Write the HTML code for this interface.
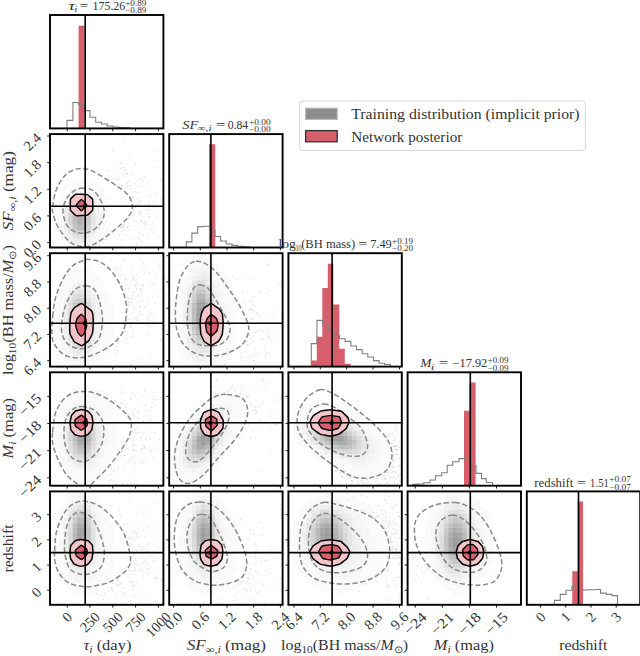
<!DOCTYPE html><html><head><meta charset="utf-8"><style>html,body{margin:0;padding:0;background:#fff;}svg{display:block;}text{font-family:"Liberation Serif",serif;fill:#333;}</style></head><body>
<svg width="640" height="656" viewBox="0 0 640 656">
<defs>
<clipPath id="c00"><rect x="50" y="15" width="113.4" height="113.4"/></clipPath>
<clipPath id="c10"><rect x="50" y="134.1" width="113.4" height="113.4"/></clipPath>
<clipPath id="c11"><rect x="169.2" y="134.1" width="113.4" height="113.4"/></clipPath>
<clipPath id="c20"><rect x="50" y="253.2" width="113.4" height="113.4"/></clipPath>
<clipPath id="c21"><rect x="169.2" y="253.2" width="113.4" height="113.4"/></clipPath>
<clipPath id="c22"><rect x="288.4" y="253.2" width="113.4" height="113.4"/></clipPath>
<clipPath id="c30"><rect x="50" y="372.3" width="113.4" height="113.4"/></clipPath>
<clipPath id="c31"><rect x="169.2" y="372.3" width="113.4" height="113.4"/></clipPath>
<clipPath id="c32"><rect x="288.4" y="372.3" width="113.4" height="113.4"/></clipPath>
<clipPath id="c33"><rect x="407.6" y="372.3" width="113.4" height="113.4"/></clipPath>
<clipPath id="c40"><rect x="50" y="491.4" width="113.4" height="113.4"/></clipPath>
<clipPath id="c41"><rect x="169.2" y="491.4" width="113.4" height="113.4"/></clipPath>
<clipPath id="c42"><rect x="288.4" y="491.4" width="113.4" height="113.4"/></clipPath>
<clipPath id="c43"><rect x="407.6" y="491.4" width="113.4" height="113.4"/></clipPath>
<clipPath id="c44"><rect x="526.8" y="491.4" width="113.4" height="113.4"/></clipPath>
</defs>
<rect width="640" height="656" fill="#fff"/>
<g clip-path="url(#c00)">
<path d="M78.6,130.4 L78.6,25.7 L84.5,25.7 L84.5,130.4 Z" fill="#d75f6c"/>
<path d="M67,130.4 L67,120.4 L72.9,120.4 L72.9,102.5 L78.5,102.5 L78.5,104.6 L84.2,104.6 L84.2,110.6 L90,110.6 L90,117.25 L95.7,117.25 L95.7,122.25 L101.4,122.25 L101.4,124 L107.2,124 L107.2,126 L112.9,126 L112.9,127 L118.6,127 L118.6,127.6 L124.3,127.6 L124.3,127.9 L130,127.9 L130,130.4" fill="none" stroke="#7f7f7f" stroke-width="1.1"/>
<line x1="85.2" y1="15" x2="85.2" y2="128.4" stroke="#000" stroke-width="1.6"/>
</g>
<rect x="50" y="15" width="113.4" height="113.4" fill="none" stroke="#000" stroke-width="1.9"/>
<line x1="67.2" y1="128.4" x2="67.2" y2="131.2" stroke="#000" stroke-width="0.9"/>
<line x1="90" y1="128.4" x2="90" y2="131.2" stroke="#000" stroke-width="0.9"/>
<line x1="112.8" y1="128.4" x2="112.8" y2="131.2" stroke="#000" stroke-width="0.9"/>
<line x1="135.6" y1="128.4" x2="135.6" y2="131.2" stroke="#000" stroke-width="0.9"/>
<line x1="158.4" y1="128.4" x2="158.4" y2="131.2" stroke="#000" stroke-width="0.9"/>
<g clip-path="url(#c10)">
<path d="M95.19 243.85h1v1h-1zM126.8 182.73h1v1h-1zM116.23 185.58h1v1h-1zM139.49 212.97h1v1h-1zM148.49 216.36h1v1h-1zM116.63 164.37h1v1h-1zM148.4 203.51h1v1h-1zM147.17 212.66h1v1h-1zM142.16 217.52h1v1h-1zM108.66 174.71h1v1h-1zM123.74 224.18h1v1h-1zM134.57 188.35h1v1h-1zM156.47 215.84h1v1h-1zM112.12 149.69h1v1h-1zM131.79 197.09h1v1h-1zM121.68 224.4h1v1h-1zM132.67 196.49h1v1h-1zM103.89 239.22h1v1h-1zM147.98 209.8h1v1h-1zM134.36 191.13h1v1h-1zM136.44 203.83h1v1h-1zM122.8 166.98h1v1h-1zM121.14 231.22h1v1h-1zM153.48 207.01h1v1h-1zM154.06 160.36h1v1h-1zM133.34 191.34h1v1h-1zM155.26 218.24h1v1h-1zM141.44 220.51h1v1h-1zM121.63 240.18h1v1h-1zM105.97 238.49h1v1h-1zM137.09 202.75h1v1h-1zM134.87 162.65h1v1h-1zM130.07 184.89h1v1h-1zM145.35 209.12h1v1h-1zM128.47 180.75h1v1h-1zM120.11 226.96h1v1h-1zM145.28 227.47h1v1h-1zM108.69 177.83h1v1h-1zM137.89 186.15h1v1h-1zM137.63 192.08h1v1h-1zM138.83 238.77h1v1h-1zM107.37 170.65h1v1h-1zM126.72 234.85h1v1h-1zM124.94 169.93h1v1h-1zM123.76 137.58h1v1h-1zM122.47 225.71h1v1h-1zM142.3 234.39h1v1h-1zM121.65 227.01h1v1h-1zM135.91 244.03h1v1h-1zM128.66 222.76h1v1h-1zM134.88 207.1h1v1h-1zM137.16 199.62h1v1h-1zM129.33 229.08h1v1h-1zM132.69 183.55h1v1h-1zM139.12 212.35h1v1h-1zM121.45 186.71h1v1h-1zM134.45 182.02h1v1h-1zM122.47 185.66h1v1h-1zM155.78 192.94h1v1h-1zM140.29 178.76h1v1h-1zM141.19 205.76h1v1h-1zM151.91 222.44h1v1h-1zM143.61 205.63h1v1h-1zM149.66 195.86h1v1h-1zM138.62 197.72h1v1h-1zM122.49 239.13h1v1h-1zM123.49 226.15h1v1h-1zM114.14 167.67h1v1h-1zM141.9 233.96h1v1h-1zM126.49 186.94h1v1h-1zM139.19 186.31h1v1h-1zM140.85 221.12h1v1h-1zM156.52 236.47h1v1h-1zM117.62 179.37h1v1h-1zM151.77 228.37h1v1h-1zM147.56 234.1h1v1h-1zM144.83 205.1h1v1h-1zM130.51 196.75h1v1h-1zM150.71 209.55h1v1h-1zM141.41 200.04h1v1h-1zM143.64 176h1v1h-1zM128.86 156.83h1v1h-1zM153.98 204.31h1v1h-1zM119.27 187.34h1v1h-1zM133.8 219.73h1v1h-1zM148.23 202.76h1v1h-1zM126.36 193.61h1v1h-1zM120.09 162.88h1v1h-1zM125 173.13h1v1h-1zM144.17 224.77h1v1h-1zM132.77 214.48h1v1h-1zM127.23 173.98h1v1h-1zM143.94 221.6h1v1h-1zM128.05 217.38h1v1h-1zM120.97 185.54h1v1h-1zM160.2 197.89h1v1h-1zM145.21 238.33h1v1h-1zM120.98 226.42h1v1h-1zM124.71 192.43h1v1h-1zM126.61 184.93h1v1h-1zM113.92 179.25h1v1h-1zM153.21 232.1h1v1h-1zM126.81 227.08h1v1h-1zM156.61 215.51h1v1h-1zM141.03 240.79h1v1h-1zM148.26 224.27h1v1h-1zM147.26 207.3h1v1h-1zM134.47 207.39h1v1h-1zM126.64 172.73h1v1h-1zM131.67 171.77h1v1h-1zM136.03 221.55h1v1h-1zM155.82 149.79h1v1h-1zM133.19 237.75h1v1h-1zM156.27 204.96h1v1h-1zM161.82 168.25h1v1h-1zM149.38 216.58h1v1h-1zM138.33 236.31h1v1h-1zM139.93 219.63h1v1h-1zM139.26 203.93h1v1h-1zM123.21 225.43h1v1h-1zM130.21 188.88h1v1h-1zM140.39 201.06h1v1h-1zM160.18 178.71h1v1h-1zM106.32 238.68h1v1h-1zM150.49 229.28h1v1h-1zM138.78 201.45h1v1h-1zM148.3 188.6h1v1h-1zM138.34 214.28h1v1h-1zM128.07 225.85h1v1h-1zM132.74 210.72h1v1h-1zM145.21 222.73h1v1h-1zM130.92 174h1v1h-1zM138.39 232.11h1v1h-1zM142.99 180.36h1v1h-1zM123.69 228.26h1v1h-1zM119.99 167.64h1v1h-1zM118.98 234.68h1v1h-1zM134.26 206.56h1v1h-1zM140.67 210.46h1v1h-1zM143 223.51h1v1h-1z" fill="#d2d2d2"/>
<path d="M54.54 202.14h4.59v4.59h-4.59zM54.54 206.68h4.59v4.59h-4.59zM54.54 211.21h4.59v4.59h-4.59zM54.54 215.75h4.59v4.59h-4.59zM54.54 220.28h4.59v4.59h-4.59zM54.54 224.82h4.59v4.59h-4.59zM54.54 229.36h4.59v4.59h-4.59zM59.07 193.07h4.59v4.59h-4.59zM59.07 197.6h4.59v4.59h-4.59zM59.07 202.14h4.59v4.59h-4.59zM59.07 229.36h4.59v4.59h-4.59zM59.07 233.89h4.59v4.59h-4.59zM59.07 238.43h4.59v4.59h-4.59zM63.61 184h4.59v4.59h-4.59zM63.61 188.53h4.59v4.59h-4.59zM63.61 193.07h4.59v4.59h-4.59zM63.61 238.43h4.59v4.59h-4.59zM63.61 242.96h4.59v4.59h-4.59zM68.14 184h4.59v4.59h-4.59zM68.14 188.53h4.59v4.59h-4.59zM68.14 242.96h4.59v4.59h-4.59zM72.68 179.46h4.59v4.59h-4.59zM72.68 184h4.59v4.59h-4.59zM77.22 179.46h4.59v4.59h-4.59zM77.22 184h4.59v4.59h-4.59zM81.75 179.46h4.59v4.59h-4.59zM81.75 184h4.59v4.59h-4.59zM86.29 179.46h4.59v4.59h-4.59zM86.29 184h4.59v4.59h-4.59zM90.82 179.46h4.59v4.59h-4.59zM90.82 184h4.59v4.59h-4.59zM90.82 188.53h4.59v4.59h-4.59zM90.82 242.96h4.59v4.59h-4.59zM95.36 184h4.59v4.59h-4.59zM95.36 188.53h4.59v4.59h-4.59zM95.36 193.07h4.59v4.59h-4.59zM95.36 238.43h4.59v4.59h-4.59zM95.36 242.96h4.59v4.59h-4.59zM99.9 188.53h4.59v4.59h-4.59zM99.9 193.07h4.59v4.59h-4.59zM99.9 197.6h4.59v4.59h-4.59zM99.9 202.14h4.59v4.59h-4.59zM99.9 206.68h4.59v4.59h-4.59zM99.9 220.28h4.59v4.59h-4.59zM99.9 224.82h4.59v4.59h-4.59zM99.9 229.36h4.59v4.59h-4.59zM99.9 233.89h4.59v4.59h-4.59zM99.9 238.43h4.59v4.59h-4.59zM104.43 197.6h4.59v4.59h-4.59zM104.43 202.14h4.59v4.59h-4.59zM104.43 206.68h4.59v4.59h-4.59zM104.43 211.21h4.59v4.59h-4.59zM104.43 215.75h4.59v4.59h-4.59zM104.43 220.28h4.59v4.59h-4.59zM104.43 224.82h4.59v4.59h-4.59zM104.43 229.36h4.59v4.59h-4.59z" fill="#000" fill-opacity="0.02"/>
<path d="M59.07 206.68h4.59v4.59h-4.59zM59.07 211.21h4.59v4.59h-4.59zM59.07 215.75h4.59v4.59h-4.59zM59.07 220.28h4.59v4.59h-4.59zM59.07 224.82h4.59v4.59h-4.59zM63.61 197.6h4.59v4.59h-4.59zM63.61 233.89h4.59v4.59h-4.59zM68.14 193.07h4.59v4.59h-4.59zM72.68 188.53h4.59v4.59h-4.59zM72.68 242.96h4.59v4.59h-4.59zM77.22 188.53h4.59v4.59h-4.59zM81.75 188.53h4.59v4.59h-4.59zM81.75 242.96h4.59v4.59h-4.59zM86.29 188.53h4.59v4.59h-4.59zM86.29 242.96h4.59v4.59h-4.59zM90.82 193.07h4.59v4.59h-4.59zM90.82 238.43h4.59v4.59h-4.59zM95.36 197.6h4.59v4.59h-4.59zM95.36 202.14h4.59v4.59h-4.59zM95.36 229.36h4.59v4.59h-4.59zM95.36 233.89h4.59v4.59h-4.59zM99.9 211.21h4.59v4.59h-4.59zM99.9 215.75h4.59v4.59h-4.59z" fill="#000" fill-opacity="0.03"/>
<path d="M63.61 202.14h4.59v4.59h-4.59zM63.61 229.36h4.59v4.59h-4.59zM68.14 197.6h4.59v4.59h-4.59zM68.14 238.43h4.59v4.59h-4.59zM72.68 193.07h4.59v4.59h-4.59zM77.22 242.96h4.59v4.59h-4.59zM81.75 193.07h4.59v4.59h-4.59zM86.29 193.07h4.59v4.59h-4.59zM86.29 238.43h4.59v4.59h-4.59zM90.82 197.6h4.59v4.59h-4.59zM90.82 233.89h4.59v4.59h-4.59zM95.36 206.68h4.59v4.59h-4.59zM95.36 211.21h4.59v4.59h-4.59zM95.36 215.75h4.59v4.59h-4.59zM95.36 220.28h4.59v4.59h-4.59zM95.36 224.82h4.59v4.59h-4.59z" fill="#000" fill-opacity="0.05"/>
<path d="M63.61 206.68h4.59v4.59h-4.59zM63.61 211.21h4.59v4.59h-4.59zM63.61 224.82h4.59v4.59h-4.59zM68.14 233.89h4.59v4.59h-4.59zM72.68 238.43h4.59v4.59h-4.59zM77.22 193.07h4.59v4.59h-4.59zM81.75 238.43h4.59v4.59h-4.59zM86.29 197.6h4.59v4.59h-4.59zM90.82 202.14h4.59v4.59h-4.59zM90.82 229.36h4.59v4.59h-4.59z" fill="#000" fill-opacity="0.07"/>
<path d="M63.61 215.75h4.59v4.59h-4.59zM63.61 220.28h4.59v4.59h-4.59zM68.14 202.14h4.59v4.59h-4.59zM72.68 197.6h4.59v4.59h-4.59zM77.22 238.43h4.59v4.59h-4.59zM86.29 233.89h4.59v4.59h-4.59zM90.82 206.68h4.59v4.59h-4.59zM90.82 224.82h4.59v4.59h-4.59z" fill="#000" fill-opacity="0.08"/>
<path d="M68.14 229.36h4.59v4.59h-4.59zM77.22 197.6h4.59v4.59h-4.59zM81.75 197.6h4.59v4.59h-4.59zM86.29 202.14h4.59v4.59h-4.59zM90.82 211.21h4.59v4.59h-4.59zM90.82 215.75h4.59v4.59h-4.59zM90.82 220.28h4.59v4.59h-4.59z" fill="#000" fill-opacity="0.1"/>
<path d="M68.14 206.68h4.59v4.59h-4.59zM72.68 233.89h4.59v4.59h-4.59zM81.75 233.89h4.59v4.59h-4.59z" fill="#000" fill-opacity="0.12"/>
<path d="M68.14 224.82h4.59v4.59h-4.59zM72.68 202.14h4.59v4.59h-4.59zM77.22 233.89h4.59v4.59h-4.59zM86.29 229.36h4.59v4.59h-4.59z" fill="#000" fill-opacity="0.13"/>
<path d="M68.14 211.21h4.59v4.59h-4.59zM77.22 202.14h4.59v4.59h-4.59zM81.75 202.14h4.59v4.59h-4.59zM86.29 206.68h4.59v4.59h-4.59z" fill="#000" fill-opacity="0.15"/>
<path d="M68.14 215.75h4.59v4.59h-4.59zM68.14 220.28h4.59v4.59h-4.59zM72.68 229.36h4.59v4.59h-4.59zM86.29 224.82h4.59v4.59h-4.59z" fill="#000" fill-opacity="0.17"/>
<path d="M72.68 206.68h4.59v4.59h-4.59zM81.75 229.36h4.59v4.59h-4.59zM86.29 211.21h4.59v4.59h-4.59z" fill="#000" fill-opacity="0.18"/>
<path d="M77.22 229.36h4.59v4.59h-4.59zM81.75 206.68h4.59v4.59h-4.59zM86.29 215.75h4.59v4.59h-4.59zM86.29 220.28h4.59v4.59h-4.59z" fill="#000" fill-opacity="0.2"/>
<path d="M72.68 224.82h4.59v4.59h-4.59zM77.22 206.68h4.59v4.59h-4.59z" fill="#000" fill-opacity="0.22"/>
<path d="M72.68 211.21h4.59v4.59h-4.59z" fill="#000" fill-opacity="0.23"/>
<path d="M72.68 220.28h4.59v4.59h-4.59zM81.75 211.21h4.59v4.59h-4.59zM81.75 224.82h4.59v4.59h-4.59z" fill="#000" fill-opacity="0.25"/>
<path d="M72.68 215.75h4.59v4.59h-4.59zM77.22 224.82h4.59v4.59h-4.59z" fill="#000" fill-opacity="0.27"/>
<path d="M77.22 211.21h4.59v4.59h-4.59zM81.75 215.75h4.59v4.59h-4.59zM81.75 220.28h4.59v4.59h-4.59z" fill="#000" fill-opacity="0.28"/>
<path d="M77.22 215.75h4.59v4.59h-4.59zM77.22 220.28h4.59v4.59h-4.59z" fill="#000" fill-opacity="0.32"/>
<path d="M52.7,207C53.17,203.57 53.93,196.68 55.5,192C57.07,187.32 59.6,182.33 62.1,178.9C64.6,175.47 67.38,173.12 70.5,171.4C73.62,169.68 77.37,168.77 80.8,168.6C84.23,168.43 87.18,168.85 91.1,170.4C95.02,171.95 99.92,175.23 104.3,177.9C108.68,180.57 113.35,183.42 117.4,186.4C121.45,189.38 126.1,192.37 128.6,195.8C131.1,199.23 132.4,203.57 132.4,207C132.4,210.43 130.78,213.27 128.6,216.4C126.42,219.53 122.73,222.68 119.3,225.8C115.87,228.92 111.76,232.3 108,235.1C104.24,237.9 100.03,240.72 96.75,242.6C93.47,244.48 91.74,245.93 88.3,246.4C84.86,246.87 79.69,246.65 76.1,245.4C72.51,244.15 69.87,242.18 66.75,238.9C63.63,235.62 59.74,230.13 57.4,225.75C55.06,221.37 53.48,215.72 52.7,212.6C51.92,209.47 52.23,210.43 52.7,207Z" fill="none" stroke="#8a8a8a" stroke-width="1.5" stroke-dasharray="5.2 2.6"/>
<path d="M80.8,188.25C85.18,187.62 90.99,188.25 94.9,192C98.81,195.75 103.63,205.12 104.25,210.75C104.87,216.38 102.04,222 98.6,225.75C95.16,229.5 88.6,232.94 83.6,233.25C78.6,233.56 72.03,231.35 68.6,227.6C65.17,223.85 63,216.06 63,210.75C63,205.44 65.63,199.5 68.6,195.75C71.57,192 76.42,188.88 80.8,188.25Z" fill="none" stroke="#8a8a8a" stroke-width="1.5" stroke-dasharray="5.2 2.6"/>
<path d="M75.8,194.3C76.47,194.12 86.58,194.4 87.25,194.6C87.92,194.8 92.39,198.77 92.6,199.4C92.81,200.03 92.81,209.67 92.6,210.3C92.39,210.93 87.91,214.89 87.25,215.1C86.59,215.31 76.77,215.79 76.1,215.6C75.43,215.41 70.72,210.96 70.5,210.3C70.28,209.64 70.29,199.84 70.5,199.2C70.71,198.56 75.13,194.48 75.8,194.3Z" fill="#f4c5ca" stroke="#000" stroke-width="1.5" stroke-linejoin="round"/>
<path d="M81.4,199.4C81.82,199.39 86.7,204.54 86.7,205C86.7,205.46 81.82,210.84 81.4,210.85C80.98,210.86 76.1,205.76 76.1,205.3C76.1,204.84 80.98,199.41 81.4,199.4Z" fill="#d75f6c" stroke="#000" stroke-width="1.4" stroke-linejoin="round"/>
<line x1="85.2" y1="134.1" x2="85.2" y2="247.5" stroke="#000" stroke-width="1.6"/>
<line x1="50" y1="206.2" x2="163.4" y2="206.2" stroke="#000" stroke-width="1.6"/>
<ellipse cx="84.7" cy="206.2" rx="2" ry="2.2" fill="#000"/>
</g>
<rect x="50" y="134.1" width="113.4" height="113.4" fill="none" stroke="#000" stroke-width="1.9"/>
<line x1="67.2" y1="247.5" x2="67.2" y2="250.3" stroke="#000" stroke-width="0.9"/>
<line x1="90" y1="247.5" x2="90" y2="250.3" stroke="#000" stroke-width="0.9"/>
<line x1="112.8" y1="247.5" x2="112.8" y2="250.3" stroke="#000" stroke-width="0.9"/>
<line x1="135.6" y1="247.5" x2="135.6" y2="250.3" stroke="#000" stroke-width="0.9"/>
<line x1="158.4" y1="247.5" x2="158.4" y2="250.3" stroke="#000" stroke-width="0.9"/>
<line x1="47.2" y1="242.6" x2="50" y2="242.6" stroke="#000" stroke-width="0.9"/>
<line x1="47.2" y1="215.95" x2="50" y2="215.95" stroke="#000" stroke-width="0.9"/>
<line x1="47.2" y1="189.3" x2="50" y2="189.3" stroke="#000" stroke-width="0.9"/>
<line x1="47.2" y1="162.65" x2="50" y2="162.65" stroke="#000" stroke-width="0.9"/>
<line x1="47.2" y1="136" x2="50" y2="136" stroke="#000" stroke-width="0.9"/>
<g clip-path="url(#c11)">
<path d="M209,249.5 L209,144.2 L215.25,144.2 L215.25,249.5 Z" fill="#d75f6c"/>
<path d="M186.25,249.5 L186.25,241.9 L191.9,241.9 L191.9,233.1 L197.75,233.1 L197.75,226.6 L203.5,226.6 L203.5,226.25 L209.4,226.25 L209.4,230 L215,230 L215,236.5 L220.6,236.5 L220.6,241 L226.25,241 L226.25,244 L232,244 L232,245.4 L237.5,245.4 L237.5,246.2 L243,246.2 L243,246.7 L249,246.7 L249,249.5" fill="none" stroke="#7f7f7f" stroke-width="1.1"/>
<line x1="210.9" y1="134.1" x2="210.9" y2="247.5" stroke="#000" stroke-width="1.6"/>
</g>
<rect x="169.2" y="134.1" width="113.4" height="113.4" fill="none" stroke="#000" stroke-width="1.9"/>
<line x1="173.6" y1="247.5" x2="173.6" y2="250.3" stroke="#000" stroke-width="0.9"/>
<line x1="200.3" y1="247.5" x2="200.3" y2="250.3" stroke="#000" stroke-width="0.9"/>
<line x1="227" y1="247.5" x2="227" y2="250.3" stroke="#000" stroke-width="0.9"/>
<line x1="253.7" y1="247.5" x2="253.7" y2="250.3" stroke="#000" stroke-width="0.9"/>
<line x1="280.4" y1="247.5" x2="280.4" y2="250.3" stroke="#000" stroke-width="0.9"/>
<g clip-path="url(#c20)">
<path d="M125.71 338.04h1v1h-1zM129.4 322.42h1v1h-1zM142.82 284.62h1v1h-1zM112.82 344.14h1v1h-1zM141.09 314.03h1v1h-1zM131.71 319.36h1v1h-1zM129.92 304.85h1v1h-1zM132.99 311.71h1v1h-1zM161.45 288.26h1v1h-1zM142.56 268.49h1v1h-1zM144.73 269.11h1v1h-1zM138.57 305.86h1v1h-1zM150.04 313.71h1v1h-1zM151.91 296.82h1v1h-1zM116.86 268.26h1v1h-1zM128.09 306.75h1v1h-1zM152.27 320.94h1v1h-1zM140.42 258.44h1v1h-1zM153.41 283.49h1v1h-1zM150.11 356.28h1v1h-1zM117.23 343.27h1v1h-1zM160.01 339.84h1v1h-1zM129.7 282.34h1v1h-1zM134.85 284.75h1v1h-1zM139.52 313.47h1v1h-1zM128.41 288.05h1v1h-1zM136.72 274.02h1v1h-1zM127.81 303.76h1v1h-1zM109.27 266.62h1v1h-1zM136.2 279.15h1v1h-1zM124.85 294.44h1v1h-1zM130.29 269.54h1v1h-1zM115.77 352.96h1v1h-1zM125.87 343.28h1v1h-1zM130 326.33h1v1h-1zM136.35 287.71h1v1h-1zM148.49 319.79h1v1h-1zM130.22 364.17h1v1h-1zM132.19 292.27h1v1h-1zM113.94 269.6h1v1h-1zM139.49 288.7h1v1h-1zM125.47 278.92h1v1h-1zM136.81 295.6h1v1h-1zM121.94 285.24h1v1h-1zM143.81 273.04h1v1h-1zM136.22 301.63h1v1h-1zM130.77 335.97h1v1h-1zM141.61 291.95h1v1h-1zM133.96 292.25h1v1h-1zM147.14 318.24h1v1h-1zM125.14 277.36h1v1h-1zM130.93 302.03h1v1h-1zM138.88 293.93h1v1h-1zM134.37 280.61h1v1h-1zM136.4 281.51h1v1h-1zM116.95 270.31h1v1h-1zM127.94 297.86h1v1h-1zM147.29 317.98h1v1h-1zM154.06 302.55h1v1h-1zM121.19 266.71h1v1h-1zM152.91 316.68h1v1h-1zM138.56 311.55h1v1h-1zM146.23 303.61h1v1h-1zM135.87 319.86h1v1h-1zM116.67 346.03h1v1h-1zM151.27 282.61h1v1h-1zM129.67 301.97h1v1h-1zM125.71 279h1v1h-1zM127.69 302.18h1v1h-1zM147.33 325.13h1v1h-1zM148.15 334.06h1v1h-1zM132.7 277.3h1v1h-1zM133.11 308.53h1v1h-1zM120.58 275.19h1v1h-1zM126.12 322.26h1v1h-1zM157.41 295.35h1v1h-1zM119.69 269.21h1v1h-1zM126.6 315.05h1v1h-1zM137.88 317.86h1v1h-1zM132.56 279.56h1v1h-1zM157.14 275.27h1v1h-1zM147.53 297.42h1v1h-1zM107.11 347.42h1v1h-1zM154.6 276.4h1v1h-1zM131.51 266.91h1v1h-1zM143.55 307.23h1v1h-1zM149.1 363.18h1v1h-1zM144.92 306.56h1v1h-1zM124.16 327.48h1v1h-1zM131.66 295.27h1v1h-1zM135.14 285.26h1v1h-1zM135.98 284.97h1v1h-1zM142.47 300.64h1v1h-1zM117.58 350.37h1v1h-1zM123.35 330.77h1v1h-1zM135.62 289.59h1v1h-1zM137.87 319.51h1v1h-1zM137.23 358.41h1v1h-1zM129.06 318.86h1v1h-1zM140.28 310.71h1v1h-1zM136.37 288.33h1v1h-1zM149.02 272.23h1v1h-1zM133.35 278.06h1v1h-1zM110.37 258.94h1v1h-1zM125.36 330.97h1v1h-1zM123.89 279.2h1v1h-1zM120.68 285.3h1v1h-1zM132.63 328.71h1v1h-1zM132.19 276.23h1v1h-1zM127.27 299.94h1v1h-1zM132.05 321.7h1v1h-1zM141.76 284.86h1v1h-1zM153.86 284.34h1v1h-1zM161.16 278.17h1v1h-1zM117.32 340.6h1v1h-1zM135.31 317.99h1v1h-1zM159.27 264.26h1v1h-1zM131.37 298.23h1v1h-1zM139.76 306.52h1v1h-1zM113.44 273.26h1v1h-1zM126.97 296.68h1v1h-1zM149.58 327.05h1v1h-1zM118.09 341.3h1v1h-1zM139.46 299.71h1v1h-1zM124.41 289.76h1v1h-1zM114.78 267.3h1v1h-1zM135.67 316.06h1v1h-1zM140.22 288.2h1v1h-1zM154.68 259.96h1v1h-1zM127.27 304.4h1v1h-1zM123.26 259.25h1v1h-1zM143.01 262.59h1v1h-1zM126.06 316.7h1v1h-1zM160.69 266.59h1v1h-1zM129.92 326.89h1v1h-1zM98.79 254.52h1v1h-1zM135.47 306.85h1v1h-1zM127.39 322.09h1v1h-1zM149.27 309.97h1v1h-1zM132.96 332.2h1v1h-1z" fill="#d2d2d2"/>
<path d="M54.54 298.56h4.59v4.59h-4.59zM54.54 303.1h4.59v4.59h-4.59zM54.54 307.63h4.59v4.59h-4.59zM54.54 312.17h4.59v4.59h-4.59zM54.54 316.7h4.59v4.59h-4.59zM54.54 321.24h4.59v4.59h-4.59zM54.54 325.78h4.59v4.59h-4.59zM54.54 330.31h4.59v4.59h-4.59zM54.54 334.85h4.59v4.59h-4.59zM59.07 284.95h4.59v4.59h-4.59zM59.07 289.49h4.59v4.59h-4.59zM59.07 294.02h4.59v4.59h-4.59zM59.07 298.56h4.59v4.59h-4.59zM59.07 303.1h4.59v4.59h-4.59zM59.07 307.63h4.59v4.59h-4.59zM59.07 330.31h4.59v4.59h-4.59zM59.07 334.85h4.59v4.59h-4.59zM59.07 339.38h4.59v4.59h-4.59zM59.07 343.92h4.59v4.59h-4.59zM59.07 348.46h4.59v4.59h-4.59zM63.61 275.88h4.59v4.59h-4.59zM63.61 280.42h4.59v4.59h-4.59zM63.61 284.95h4.59v4.59h-4.59zM63.61 289.49h4.59v4.59h-4.59zM63.61 348.46h4.59v4.59h-4.59zM63.61 352.99h4.59v4.59h-4.59zM63.61 357.53h4.59v4.59h-4.59zM68.14 271.34h4.59v4.59h-4.59zM68.14 275.88h4.59v4.59h-4.59zM68.14 280.42h4.59v4.59h-4.59zM68.14 357.53h4.59v4.59h-4.59zM68.14 362.06h4.59v4.59h-4.59zM72.68 266.81h4.59v4.59h-4.59zM72.68 271.34h4.59v4.59h-4.59zM72.68 275.88h4.59v4.59h-4.59zM72.68 362.06h4.59v4.59h-4.59zM77.22 266.81h4.59v4.59h-4.59zM77.22 271.34h4.59v4.59h-4.59zM81.75 266.81h4.59v4.59h-4.59zM81.75 271.34h4.59v4.59h-4.59zM81.75 362.06h4.59v4.59h-4.59zM86.29 266.81h4.59v4.59h-4.59zM86.29 271.34h4.59v4.59h-4.59zM86.29 275.88h4.59v4.59h-4.59zM86.29 362.06h4.59v4.59h-4.59zM90.82 271.34h4.59v4.59h-4.59zM90.82 275.88h4.59v4.59h-4.59zM90.82 280.42h4.59v4.59h-4.59zM90.82 357.53h4.59v4.59h-4.59zM90.82 362.06h4.59v4.59h-4.59zM95.36 275.88h4.59v4.59h-4.59zM95.36 280.42h4.59v4.59h-4.59zM95.36 284.95h4.59v4.59h-4.59zM95.36 289.49h4.59v4.59h-4.59zM95.36 348.46h4.59v4.59h-4.59zM95.36 352.99h4.59v4.59h-4.59zM95.36 357.53h4.59v4.59h-4.59zM95.36 362.06h4.59v4.59h-4.59zM99.9 280.42h4.59v4.59h-4.59zM99.9 284.95h4.59v4.59h-4.59zM99.9 289.49h4.59v4.59h-4.59zM99.9 294.02h4.59v4.59h-4.59zM99.9 298.56h4.59v4.59h-4.59zM99.9 303.1h4.59v4.59h-4.59zM99.9 334.85h4.59v4.59h-4.59zM99.9 339.38h4.59v4.59h-4.59zM99.9 343.92h4.59v4.59h-4.59zM99.9 348.46h4.59v4.59h-4.59zM99.9 352.99h4.59v4.59h-4.59zM99.9 357.53h4.59v4.59h-4.59zM104.43 289.49h4.59v4.59h-4.59zM104.43 294.02h4.59v4.59h-4.59zM104.43 298.56h4.59v4.59h-4.59zM104.43 303.1h4.59v4.59h-4.59zM104.43 307.63h4.59v4.59h-4.59zM104.43 312.17h4.59v4.59h-4.59zM104.43 316.7h4.59v4.59h-4.59zM104.43 321.24h4.59v4.59h-4.59zM104.43 325.78h4.59v4.59h-4.59zM104.43 330.31h4.59v4.59h-4.59zM104.43 334.85h4.59v4.59h-4.59zM104.43 339.38h4.59v4.59h-4.59zM104.43 343.92h4.59v4.59h-4.59zM104.43 348.46h4.59v4.59h-4.59zM108.97 303.1h4.59v4.59h-4.59zM108.97 307.63h4.59v4.59h-4.59zM108.97 312.17h4.59v4.59h-4.59zM108.97 316.7h4.59v4.59h-4.59zM108.97 321.24h4.59v4.59h-4.59zM108.97 325.78h4.59v4.59h-4.59zM108.97 330.31h4.59v4.59h-4.59zM108.97 334.85h4.59v4.59h-4.59z" fill="#000" fill-opacity="0.02"/>
<path d="M59.07 312.17h4.59v4.59h-4.59zM59.07 316.7h4.59v4.59h-4.59zM59.07 321.24h4.59v4.59h-4.59zM59.07 325.78h4.59v4.59h-4.59zM63.61 294.02h4.59v4.59h-4.59zM63.61 298.56h4.59v4.59h-4.59zM63.61 339.38h4.59v4.59h-4.59zM63.61 343.92h4.59v4.59h-4.59zM68.14 284.95h4.59v4.59h-4.59zM68.14 352.99h4.59v4.59h-4.59zM72.68 280.42h4.59v4.59h-4.59zM72.68 357.53h4.59v4.59h-4.59zM77.22 275.88h4.59v4.59h-4.59zM77.22 357.53h4.59v4.59h-4.59zM77.22 362.06h4.59v4.59h-4.59zM81.75 275.88h4.59v4.59h-4.59zM81.75 357.53h4.59v4.59h-4.59zM86.29 280.42h4.59v4.59h-4.59zM86.29 352.99h4.59v4.59h-4.59zM86.29 357.53h4.59v4.59h-4.59zM90.82 284.95h4.59v4.59h-4.59zM90.82 289.49h4.59v4.59h-4.59zM90.82 348.46h4.59v4.59h-4.59zM90.82 352.99h4.59v4.59h-4.59zM95.36 294.02h4.59v4.59h-4.59zM95.36 298.56h4.59v4.59h-4.59zM95.36 303.1h4.59v4.59h-4.59zM95.36 334.85h4.59v4.59h-4.59zM95.36 339.38h4.59v4.59h-4.59zM95.36 343.92h4.59v4.59h-4.59zM99.9 307.63h4.59v4.59h-4.59zM99.9 312.17h4.59v4.59h-4.59zM99.9 316.7h4.59v4.59h-4.59zM99.9 321.24h4.59v4.59h-4.59zM99.9 325.78h4.59v4.59h-4.59zM99.9 330.31h4.59v4.59h-4.59z" fill="#000" fill-opacity="0.03"/>
<path d="M63.61 303.1h4.59v4.59h-4.59zM63.61 330.31h4.59v4.59h-4.59zM63.61 334.85h4.59v4.59h-4.59zM68.14 289.49h4.59v4.59h-4.59zM68.14 348.46h4.59v4.59h-4.59zM72.68 284.95h4.59v4.59h-4.59zM72.68 352.99h4.59v4.59h-4.59zM77.22 280.42h4.59v4.59h-4.59zM81.75 280.42h4.59v4.59h-4.59zM86.29 284.95h4.59v4.59h-4.59zM90.82 294.02h4.59v4.59h-4.59zM90.82 343.92h4.59v4.59h-4.59zM95.36 307.63h4.59v4.59h-4.59zM95.36 312.17h4.59v4.59h-4.59zM95.36 316.7h4.59v4.59h-4.59zM95.36 321.24h4.59v4.59h-4.59zM95.36 325.78h4.59v4.59h-4.59zM95.36 330.31h4.59v4.59h-4.59z" fill="#000" fill-opacity="0.05"/>
<path d="M63.61 307.63h4.59v4.59h-4.59zM63.61 312.17h4.59v4.59h-4.59zM63.61 316.7h4.59v4.59h-4.59zM63.61 321.24h4.59v4.59h-4.59zM63.61 325.78h4.59v4.59h-4.59zM68.14 294.02h4.59v4.59h-4.59zM68.14 343.92h4.59v4.59h-4.59zM77.22 284.95h4.59v4.59h-4.59zM77.22 352.99h4.59v4.59h-4.59zM81.75 284.95h4.59v4.59h-4.59zM81.75 352.99h4.59v4.59h-4.59zM86.29 289.49h4.59v4.59h-4.59zM86.29 348.46h4.59v4.59h-4.59zM90.82 298.56h4.59v4.59h-4.59zM90.82 334.85h4.59v4.59h-4.59zM90.82 339.38h4.59v4.59h-4.59z" fill="#000" fill-opacity="0.07"/>
<path d="M68.14 339.38h4.59v4.59h-4.59zM72.68 289.49h4.59v4.59h-4.59zM72.68 348.46h4.59v4.59h-4.59zM81.75 348.46h4.59v4.59h-4.59zM86.29 294.02h4.59v4.59h-4.59zM86.29 343.92h4.59v4.59h-4.59zM90.82 303.1h4.59v4.59h-4.59zM90.82 307.63h4.59v4.59h-4.59zM90.82 330.31h4.59v4.59h-4.59z" fill="#000" fill-opacity="0.08"/>
<path d="M68.14 298.56h4.59v4.59h-4.59zM77.22 289.49h4.59v4.59h-4.59zM77.22 348.46h4.59v4.59h-4.59zM81.75 289.49h4.59v4.59h-4.59zM90.82 312.17h4.59v4.59h-4.59zM90.82 316.7h4.59v4.59h-4.59zM90.82 321.24h4.59v4.59h-4.59zM90.82 325.78h4.59v4.59h-4.59z" fill="#000" fill-opacity="0.1"/>
<path d="M68.14 303.1h4.59v4.59h-4.59zM68.14 334.85h4.59v4.59h-4.59zM72.68 294.02h4.59v4.59h-4.59zM72.68 343.92h4.59v4.59h-4.59zM86.29 298.56h4.59v4.59h-4.59zM86.29 339.38h4.59v4.59h-4.59z" fill="#000" fill-opacity="0.12"/>
<path d="M68.14 307.63h4.59v4.59h-4.59zM68.14 330.31h4.59v4.59h-4.59zM81.75 294.02h4.59v4.59h-4.59zM81.75 343.92h4.59v4.59h-4.59z" fill="#000" fill-opacity="0.13"/>
<path d="M68.14 312.17h4.59v4.59h-4.59zM68.14 325.78h4.59v4.59h-4.59zM72.68 339.38h4.59v4.59h-4.59zM77.22 294.02h4.59v4.59h-4.59zM77.22 343.92h4.59v4.59h-4.59zM86.29 303.1h4.59v4.59h-4.59zM86.29 334.85h4.59v4.59h-4.59z" fill="#000" fill-opacity="0.15"/>
<path d="M68.14 316.7h4.59v4.59h-4.59zM68.14 321.24h4.59v4.59h-4.59zM72.68 298.56h4.59v4.59h-4.59zM81.75 339.38h4.59v4.59h-4.59zM86.29 330.31h4.59v4.59h-4.59z" fill="#000" fill-opacity="0.17"/>
<path d="M81.75 298.56h4.59v4.59h-4.59zM86.29 307.63h4.59v4.59h-4.59z" fill="#000" fill-opacity="0.18"/>
<path d="M72.68 303.1h4.59v4.59h-4.59zM72.68 334.85h4.59v4.59h-4.59zM77.22 298.56h4.59v4.59h-4.59zM77.22 339.38h4.59v4.59h-4.59zM86.29 312.17h4.59v4.59h-4.59zM86.29 321.24h4.59v4.59h-4.59zM86.29 325.78h4.59v4.59h-4.59z" fill="#000" fill-opacity="0.2"/>
<path d="M81.75 334.85h4.59v4.59h-4.59zM86.29 316.7h4.59v4.59h-4.59z" fill="#000" fill-opacity="0.22"/>
<path d="M81.75 303.1h4.59v4.59h-4.59z" fill="#000" fill-opacity="0.23"/>
<path d="M72.68 307.63h4.59v4.59h-4.59zM72.68 330.31h4.59v4.59h-4.59zM77.22 334.85h4.59v4.59h-4.59z" fill="#000" fill-opacity="0.25"/>
<path d="M77.22 303.1h4.59v4.59h-4.59zM81.75 330.31h4.59v4.59h-4.59z" fill="#000" fill-opacity="0.27"/>
<path d="M72.68 312.17h4.59v4.59h-4.59zM72.68 325.78h4.59v4.59h-4.59zM81.75 307.63h4.59v4.59h-4.59z" fill="#000" fill-opacity="0.28"/>
<path d="M72.68 316.7h4.59v4.59h-4.59zM72.68 321.24h4.59v4.59h-4.59z" fill="#000" fill-opacity="0.3"/>
<path d="M77.22 307.63h4.59v4.59h-4.59zM77.22 330.31h4.59v4.59h-4.59zM81.75 312.17h4.59v4.59h-4.59zM81.75 325.78h4.59v4.59h-4.59z" fill="#000" fill-opacity="0.32"/>
<path d="M81.75 316.7h4.59v4.59h-4.59zM81.75 321.24h4.59v4.59h-4.59z" fill="#000" fill-opacity="0.33"/>
<path d="M77.22 312.17h4.59v4.59h-4.59zM77.22 325.78h4.59v4.59h-4.59z" fill="#000" fill-opacity="0.35"/>
<path d="M77.22 316.7h4.59v4.59h-4.59zM77.22 321.24h4.59v4.59h-4.59z" fill="#000" fill-opacity="0.38"/>
<path d="M52.7,316.6C53.27,310.04 53.78,304.15 55.5,297.9C57.22,291.65 60.18,284.42 63,279.1C65.82,273.78 68.97,269.12 72.4,266C75.83,262.88 80.79,261.5 83.6,260.4C86.41,259.3 86.43,259.09 89.25,259.4C92.07,259.71 96.75,260.22 100.5,262.25C104.25,264.28 108.32,267.54 111.75,271.6C115.18,275.66 118.76,281.6 121.1,286.6C123.44,291.6 124.92,297.22 125.8,301.6C126.68,305.98 126.87,307.9 126.4,312.9C125.93,317.9 125.44,326.29 123,331.6C120.56,336.91 116.43,341 111.75,344.75C107.07,348.5 100.21,351.91 94.9,354.1C89.59,356.29 84.59,357.58 79.9,357.9C75.21,358.22 70.5,357.57 66.75,356C63,354.43 59.84,351.62 57.4,348.5C54.96,345.38 52.88,342.57 52.1,337.25C51.32,331.93 52.13,323.16 52.7,316.6Z" fill="none" stroke="#8a8a8a" stroke-width="1.5" stroke-dasharray="5.2 2.6"/>
<path d="M85.5,285.7C88.94,285.7 92.4,287.12 94.9,290.4C97.4,293.68 99.25,300.09 100.5,305.4C101.75,310.71 102.72,316.63 102.4,322.25C102.08,327.87 100.79,335.04 98.6,339.1C96.41,343.16 92.68,345.03 89.25,346.6C85.82,348.17 81.75,349.12 78,348.5C74.25,347.88 69.5,346.02 66.75,342.9C64,339.77 61.81,335.69 61.5,329.75C61.19,323.81 62.78,313.81 64.9,307.25C67.03,300.69 70.82,293.99 74.25,290.4C77.68,286.81 82.06,285.7 85.5,285.7Z" fill="none" stroke="#8a8a8a" stroke-width="1.5" stroke-dasharray="5.2 2.6"/>
<path d="M81.5,303.6C82.16,303.72 90.75,309.96 91.2,310.4C91.65,310.84 92.72,313.98 92.8,314.5C92.88,315.02 93.22,322.74 93.2,323.5C93.18,324.26 92.58,332.71 92.4,333.4C92.22,334.09 89.13,340.3 88.7,340.8C88.27,341.3 82.28,345.76 81.7,345.8C81.12,345.84 74.76,342.16 74.3,341.7C73.84,341.24 70.38,334.93 70.2,334.2C70.02,333.47 69.77,324.36 69.8,323.5C69.83,322.64 70.8,313.44 71,312.8C71.2,312.16 74.28,307.87 74.7,307.5C75.12,307.13 80.84,303.48 81.5,303.6Z" fill="#f4c5ca" stroke="#000" stroke-width="1.5" stroke-linejoin="round"/>
<path d="M81.3,314.1C81.64,314.13 85.58,318.56 85.8,319C86.02,319.44 86.73,324.66 86.7,325.2C86.67,325.74 85.22,332.16 85,332.6C84.78,333.04 81.6,336.32 81.3,336.3C81,336.28 77.83,332.68 77.6,332.2C77.37,331.72 75.52,324.96 75.5,324.4C75.48,323.84 76.97,318.61 77.2,318.2C77.43,317.79 80.96,314.07 81.3,314.1Z" fill="#d75f6c" stroke="#000" stroke-width="1.4" stroke-linejoin="round"/>
<line x1="85.2" y1="253.2" x2="85.2" y2="366.6" stroke="#000" stroke-width="1.6"/>
<line x1="50" y1="323.2" x2="163.4" y2="323.2" stroke="#000" stroke-width="1.6"/>
<ellipse cx="84.7" cy="323.2" rx="2" ry="2.2" fill="#000"/>
</g>
<rect x="50" y="253.2" width="113.4" height="113.4" fill="none" stroke="#000" stroke-width="1.9"/>
<line x1="67.2" y1="366.6" x2="67.2" y2="369.4" stroke="#000" stroke-width="0.9"/>
<line x1="90" y1="366.6" x2="90" y2="369.4" stroke="#000" stroke-width="0.9"/>
<line x1="112.8" y1="366.6" x2="112.8" y2="369.4" stroke="#000" stroke-width="0.9"/>
<line x1="135.6" y1="366.6" x2="135.6" y2="369.4" stroke="#000" stroke-width="0.9"/>
<line x1="158.4" y1="366.6" x2="158.4" y2="369.4" stroke="#000" stroke-width="0.9"/>
<line x1="47.2" y1="360.7" x2="50" y2="360.7" stroke="#000" stroke-width="0.9"/>
<line x1="47.2" y1="334.4" x2="50" y2="334.4" stroke="#000" stroke-width="0.9"/>
<line x1="47.2" y1="308.2" x2="50" y2="308.2" stroke="#000" stroke-width="0.9"/>
<line x1="47.2" y1="282" x2="50" y2="282" stroke="#000" stroke-width="0.9"/>
<line x1="47.2" y1="255.7" x2="50" y2="255.7" stroke="#000" stroke-width="0.9"/>
<g clip-path="url(#c21)">
<path d="M272.78 313.47h1v1h-1zM252.32 318.06h1v1h-1zM262.2 323.18h1v1h-1zM252.44 309.11h1v1h-1zM268.95 327.29h1v1h-1zM224.44 363.47h1v1h-1zM234.12 350.35h1v1h-1zM253.06 355.02h1v1h-1zM267.95 279.55h1v1h-1zM262.71 331.22h1v1h-1zM239.73 349.76h1v1h-1zM256.09 311.82h1v1h-1zM258.91 315.08h1v1h-1zM257.85 330.03h1v1h-1zM274.56 308.53h1v1h-1zM263.27 321.25h1v1h-1zM260.47 292.23h1v1h-1zM266.64 332.69h1v1h-1zM270.99 339.76h1v1h-1zM244.25 312.33h1v1h-1zM249.29 309.06h1v1h-1zM246.66 313.76h1v1h-1zM264.33 349.55h1v1h-1zM269.93 290.58h1v1h-1zM242.88 302h1v1h-1zM246.19 318.64h1v1h-1zM260.47 329.47h1v1h-1zM232.02 290.48h1v1h-1zM231.75 276.51h1v1h-1zM267.53 257.74h1v1h-1zM265.03 311.82h1v1h-1zM248.6 344.47h1v1h-1zM268.25 336.12h1v1h-1zM266.03 352.45h1v1h-1zM276.87 329.77h1v1h-1zM268.5 330.97h1v1h-1zM264.82 356.64h1v1h-1zM267.17 334.34h1v1h-1zM248.18 357.2h1v1h-1zM246.61 290.75h1v1h-1zM260.7 337.66h1v1h-1zM259.15 291.69h1v1h-1zM253.13 341.22h1v1h-1zM242.96 292.74h1v1h-1zM248.77 335.11h1v1h-1zM244.61 350.82h1v1h-1zM211.69 365.55h1v1h-1zM277.2 340.83h1v1h-1zM241.15 357.29h1v1h-1zM249.85 319.04h1v1h-1zM252.09 318.26h1v1h-1zM256.42 313.2h1v1h-1zM244.68 359.94h1v1h-1zM236.59 278.98h1v1h-1zM252.98 304.49h1v1h-1zM256.93 352.72h1v1h-1zM249.44 278.19h1v1h-1zM246.53 340.68h1v1h-1zM254.88 348.2h1v1h-1zM228.93 286.99h1v1h-1zM246.14 356.15h1v1h-1zM251.58 300.14h1v1h-1zM268.63 352.8h1v1h-1zM250.28 338.09h1v1h-1zM281.21 285.42h1v1h-1zM241.52 274.83h1v1h-1zM253.69 296.04h1v1h-1zM229.13 358.9h1v1h-1zM250.47 309.17h1v1h-1zM252.68 336.62h1v1h-1zM267.77 290.26h1v1h-1zM278.57 284.29h1v1h-1zM247.22 335.3h1v1h-1zM274.73 331.74h1v1h-1zM263.33 323.06h1v1h-1zM262.53 338.83h1v1h-1zM281.41 317.41h1v1h-1zM257.35 331.59h1v1h-1zM221.61 356.22h1v1h-1zM249.79 300.52h1v1h-1zM255.38 332.27h1v1h-1zM253.28 359.92h1v1h-1zM247.02 344.07h1v1h-1zM236.26 299.54h1v1h-1zM267.81 263.88h1v1h-1zM268.34 337.75h1v1h-1zM253.5 310.41h1v1h-1zM232.53 294.79h1v1h-1zM239.93 352.61h1v1h-1zM250.18 308.68h1v1h-1z" fill="#d2d2d2"/>
<path d="M178.27 284.95h4.59v4.59h-4.59zM178.27 289.49h4.59v4.59h-4.59zM178.27 294.02h4.59v4.59h-4.59zM178.27 298.56h4.59v4.59h-4.59zM178.27 303.1h4.59v4.59h-4.59zM178.27 307.63h4.59v4.59h-4.59zM178.27 312.17h4.59v4.59h-4.59zM178.27 316.7h4.59v4.59h-4.59zM178.27 321.24h4.59v4.59h-4.59zM178.27 325.78h4.59v4.59h-4.59zM178.27 330.31h4.59v4.59h-4.59zM178.27 334.85h4.59v4.59h-4.59zM178.27 339.38h4.59v4.59h-4.59zM178.27 343.92h4.59v4.59h-4.59zM178.27 348.46h4.59v4.59h-4.59zM182.81 271.34h4.59v4.59h-4.59zM182.81 275.88h4.59v4.59h-4.59zM182.81 280.42h4.59v4.59h-4.59zM182.81 284.95h4.59v4.59h-4.59zM182.81 343.92h4.59v4.59h-4.59zM182.81 348.46h4.59v4.59h-4.59zM182.81 352.99h4.59v4.59h-4.59zM182.81 357.53h4.59v4.59h-4.59zM187.34 262.27h4.59v4.59h-4.59zM187.34 266.81h4.59v4.59h-4.59zM187.34 271.34h4.59v4.59h-4.59zM187.34 357.53h4.59v4.59h-4.59zM187.34 362.06h4.59v4.59h-4.59zM191.88 257.74h4.59v4.59h-4.59zM191.88 262.27h4.59v4.59h-4.59zM191.88 362.06h4.59v4.59h-4.59zM196.42 253.2h4.59v4.59h-4.59zM196.42 257.74h4.59v4.59h-4.59zM196.42 262.27h4.59v4.59h-4.59zM200.95 253.2h4.59v4.59h-4.59zM200.95 257.74h4.59v4.59h-4.59zM200.95 262.27h4.59v4.59h-4.59zM205.49 257.74h4.59v4.59h-4.59zM205.49 262.27h4.59v4.59h-4.59zM210.02 257.74h4.59v4.59h-4.59zM210.02 262.27h4.59v4.59h-4.59zM210.02 266.81h4.59v4.59h-4.59zM210.02 362.06h4.59v4.59h-4.59zM214.56 262.27h4.59v4.59h-4.59zM214.56 266.81h4.59v4.59h-4.59zM214.56 271.34h4.59v4.59h-4.59zM214.56 275.88h4.59v4.59h-4.59zM214.56 357.53h4.59v4.59h-4.59zM214.56 362.06h4.59v4.59h-4.59zM219.1 271.34h4.59v4.59h-4.59zM219.1 275.88h4.59v4.59h-4.59zM219.1 280.42h4.59v4.59h-4.59zM219.1 284.95h4.59v4.59h-4.59zM219.1 348.46h4.59v4.59h-4.59zM219.1 352.99h4.59v4.59h-4.59zM219.1 357.53h4.59v4.59h-4.59zM219.1 362.06h4.59v4.59h-4.59zM223.63 275.88h4.59v4.59h-4.59zM223.63 280.42h4.59v4.59h-4.59zM223.63 284.95h4.59v4.59h-4.59zM223.63 289.49h4.59v4.59h-4.59zM223.63 294.02h4.59v4.59h-4.59zM223.63 298.56h4.59v4.59h-4.59zM223.63 334.85h4.59v4.59h-4.59zM223.63 339.38h4.59v4.59h-4.59zM223.63 343.92h4.59v4.59h-4.59zM223.63 348.46h4.59v4.59h-4.59zM223.63 352.99h4.59v4.59h-4.59zM223.63 357.53h4.59v4.59h-4.59zM223.63 362.06h4.59v4.59h-4.59zM228.17 284.95h4.59v4.59h-4.59zM228.17 289.49h4.59v4.59h-4.59zM228.17 294.02h4.59v4.59h-4.59zM228.17 298.56h4.59v4.59h-4.59zM228.17 303.1h4.59v4.59h-4.59zM228.17 307.63h4.59v4.59h-4.59zM228.17 312.17h4.59v4.59h-4.59zM228.17 316.7h4.59v4.59h-4.59zM228.17 321.24h4.59v4.59h-4.59zM228.17 325.78h4.59v4.59h-4.59zM228.17 330.31h4.59v4.59h-4.59zM228.17 334.85h4.59v4.59h-4.59zM228.17 339.38h4.59v4.59h-4.59zM228.17 343.92h4.59v4.59h-4.59zM228.17 348.46h4.59v4.59h-4.59zM228.17 352.99h4.59v4.59h-4.59zM232.7 298.56h4.59v4.59h-4.59zM232.7 303.1h4.59v4.59h-4.59zM232.7 307.63h4.59v4.59h-4.59zM232.7 312.17h4.59v4.59h-4.59zM232.7 316.7h4.59v4.59h-4.59zM232.7 321.24h4.59v4.59h-4.59zM232.7 325.78h4.59v4.59h-4.59zM232.7 330.31h4.59v4.59h-4.59zM232.7 334.85h4.59v4.59h-4.59zM232.7 339.38h4.59v4.59h-4.59z" fill="#000" fill-opacity="0.02"/>
<path d="M182.81 289.49h4.59v4.59h-4.59zM182.81 294.02h4.59v4.59h-4.59zM182.81 298.56h4.59v4.59h-4.59zM182.81 325.78h4.59v4.59h-4.59zM182.81 330.31h4.59v4.59h-4.59zM182.81 334.85h4.59v4.59h-4.59zM182.81 339.38h4.59v4.59h-4.59zM187.34 275.88h4.59v4.59h-4.59zM187.34 280.42h4.59v4.59h-4.59zM187.34 348.46h4.59v4.59h-4.59zM187.34 352.99h4.59v4.59h-4.59zM191.88 266.81h4.59v4.59h-4.59zM191.88 271.34h4.59v4.59h-4.59zM191.88 357.53h4.59v4.59h-4.59zM196.42 266.81h4.59v4.59h-4.59zM196.42 362.06h4.59v4.59h-4.59zM200.95 266.81h4.59v4.59h-4.59zM200.95 362.06h4.59v4.59h-4.59zM205.49 266.81h4.59v4.59h-4.59zM205.49 357.53h4.59v4.59h-4.59zM205.49 362.06h4.59v4.59h-4.59zM210.02 271.34h4.59v4.59h-4.59zM210.02 275.88h4.59v4.59h-4.59zM210.02 352.99h4.59v4.59h-4.59zM210.02 357.53h4.59v4.59h-4.59zM214.56 280.42h4.59v4.59h-4.59zM214.56 284.95h4.59v4.59h-4.59zM214.56 343.92h4.59v4.59h-4.59zM214.56 348.46h4.59v4.59h-4.59zM214.56 352.99h4.59v4.59h-4.59zM219.1 289.49h4.59v4.59h-4.59zM219.1 294.02h4.59v4.59h-4.59zM219.1 298.56h4.59v4.59h-4.59zM219.1 303.1h4.59v4.59h-4.59zM219.1 330.31h4.59v4.59h-4.59zM219.1 334.85h4.59v4.59h-4.59zM219.1 339.38h4.59v4.59h-4.59zM219.1 343.92h4.59v4.59h-4.59zM223.63 303.1h4.59v4.59h-4.59zM223.63 307.63h4.59v4.59h-4.59zM223.63 312.17h4.59v4.59h-4.59zM223.63 316.7h4.59v4.59h-4.59zM223.63 321.24h4.59v4.59h-4.59zM223.63 325.78h4.59v4.59h-4.59zM223.63 330.31h4.59v4.59h-4.59z" fill="#000" fill-opacity="0.03"/>
<path d="M182.81 303.1h4.59v4.59h-4.59zM182.81 307.63h4.59v4.59h-4.59zM182.81 312.17h4.59v4.59h-4.59zM182.81 316.7h4.59v4.59h-4.59zM182.81 321.24h4.59v4.59h-4.59zM187.34 284.95h4.59v4.59h-4.59zM187.34 343.92h4.59v4.59h-4.59zM191.88 275.88h4.59v4.59h-4.59zM191.88 352.99h4.59v4.59h-4.59zM196.42 271.34h4.59v4.59h-4.59zM196.42 357.53h4.59v4.59h-4.59zM200.95 357.53h4.59v4.59h-4.59zM205.49 271.34h4.59v4.59h-4.59zM205.49 352.99h4.59v4.59h-4.59zM210.02 280.42h4.59v4.59h-4.59zM210.02 348.46h4.59v4.59h-4.59zM214.56 289.49h4.59v4.59h-4.59zM214.56 294.02h4.59v4.59h-4.59zM214.56 334.85h4.59v4.59h-4.59zM214.56 339.38h4.59v4.59h-4.59zM219.1 307.63h4.59v4.59h-4.59zM219.1 312.17h4.59v4.59h-4.59zM219.1 316.7h4.59v4.59h-4.59zM219.1 321.24h4.59v4.59h-4.59zM219.1 325.78h4.59v4.59h-4.59z" fill="#000" fill-opacity="0.05"/>
<path d="M187.34 289.49h4.59v4.59h-4.59zM187.34 334.85h4.59v4.59h-4.59zM187.34 339.38h4.59v4.59h-4.59zM191.88 348.46h4.59v4.59h-4.59zM196.42 352.99h4.59v4.59h-4.59zM200.95 271.34h4.59v4.59h-4.59zM200.95 352.99h4.59v4.59h-4.59zM205.49 275.88h4.59v4.59h-4.59zM210.02 284.95h4.59v4.59h-4.59zM210.02 343.92h4.59v4.59h-4.59zM214.56 298.56h4.59v4.59h-4.59zM214.56 303.1h4.59v4.59h-4.59zM214.56 307.63h4.59v4.59h-4.59zM214.56 325.78h4.59v4.59h-4.59zM214.56 330.31h4.59v4.59h-4.59z" fill="#000" fill-opacity="0.07"/>
<path d="M187.34 294.02h4.59v4.59h-4.59zM187.34 330.31h4.59v4.59h-4.59zM191.88 280.42h4.59v4.59h-4.59zM191.88 343.92h4.59v4.59h-4.59zM196.42 275.88h4.59v4.59h-4.59zM196.42 348.46h4.59v4.59h-4.59zM200.95 275.88h4.59v4.59h-4.59zM205.49 280.42h4.59v4.59h-4.59zM205.49 348.46h4.59v4.59h-4.59zM210.02 289.49h4.59v4.59h-4.59zM210.02 339.38h4.59v4.59h-4.59zM214.56 312.17h4.59v4.59h-4.59zM214.56 316.7h4.59v4.59h-4.59zM214.56 321.24h4.59v4.59h-4.59z" fill="#000" fill-opacity="0.08"/>
<path d="M187.34 298.56h4.59v4.59h-4.59zM187.34 325.78h4.59v4.59h-4.59zM200.95 348.46h4.59v4.59h-4.59zM205.49 343.92h4.59v4.59h-4.59zM210.02 294.02h4.59v4.59h-4.59zM210.02 334.85h4.59v4.59h-4.59z" fill="#000" fill-opacity="0.1"/>
<path d="M187.34 303.1h4.59v4.59h-4.59zM187.34 307.63h4.59v4.59h-4.59zM187.34 312.17h4.59v4.59h-4.59zM187.34 316.7h4.59v4.59h-4.59zM187.34 321.24h4.59v4.59h-4.59zM191.88 284.95h4.59v4.59h-4.59zM191.88 339.38h4.59v4.59h-4.59zM196.42 280.42h4.59v4.59h-4.59zM200.95 280.42h4.59v4.59h-4.59zM205.49 284.95h4.59v4.59h-4.59zM210.02 298.56h4.59v4.59h-4.59zM210.02 330.31h4.59v4.59h-4.59z" fill="#000" fill-opacity="0.12"/>
<path d="M196.42 343.92h4.59v4.59h-4.59zM200.95 343.92h4.59v4.59h-4.59zM205.49 339.38h4.59v4.59h-4.59zM210.02 303.1h4.59v4.59h-4.59zM210.02 325.78h4.59v4.59h-4.59z" fill="#000" fill-opacity="0.13"/>
<path d="M191.88 289.49h4.59v4.59h-4.59zM191.88 334.85h4.59v4.59h-4.59zM205.49 289.49h4.59v4.59h-4.59zM210.02 307.63h4.59v4.59h-4.59zM210.02 312.17h4.59v4.59h-4.59zM210.02 316.7h4.59v4.59h-4.59zM210.02 321.24h4.59v4.59h-4.59z" fill="#000" fill-opacity="0.15"/>
<path d="M196.42 284.95h4.59v4.59h-4.59zM196.42 339.38h4.59v4.59h-4.59zM200.95 284.95h4.59v4.59h-4.59zM200.95 339.38h4.59v4.59h-4.59zM205.49 334.85h4.59v4.59h-4.59z" fill="#000" fill-opacity="0.17"/>
<path d="M191.88 294.02h4.59v4.59h-4.59zM191.88 330.31h4.59v4.59h-4.59zM205.49 294.02h4.59v4.59h-4.59z" fill="#000" fill-opacity="0.18"/>
<path d="M191.88 298.56h4.59v4.59h-4.59zM205.49 330.31h4.59v4.59h-4.59z" fill="#000" fill-opacity="0.2"/>
<path d="M191.88 325.78h4.59v4.59h-4.59zM196.42 289.49h4.59v4.59h-4.59zM196.42 334.85h4.59v4.59h-4.59zM200.95 289.49h4.59v4.59h-4.59zM200.95 334.85h4.59v4.59h-4.59z" fill="#000" fill-opacity="0.22"/>
<path d="M191.88 303.1h4.59v4.59h-4.59zM191.88 321.24h4.59v4.59h-4.59zM205.49 298.56h4.59v4.59h-4.59zM205.49 325.78h4.59v4.59h-4.59z" fill="#000" fill-opacity="0.23"/>
<path d="M191.88 307.63h4.59v4.59h-4.59zM191.88 312.17h4.59v4.59h-4.59zM191.88 316.7h4.59v4.59h-4.59zM205.49 303.1h4.59v4.59h-4.59zM205.49 321.24h4.59v4.59h-4.59z" fill="#000" fill-opacity="0.25"/>
<path d="M196.42 294.02h4.59v4.59h-4.59zM196.42 330.31h4.59v4.59h-4.59zM200.95 294.02h4.59v4.59h-4.59zM200.95 330.31h4.59v4.59h-4.59zM205.49 307.63h4.59v4.59h-4.59zM205.49 316.7h4.59v4.59h-4.59z" fill="#000" fill-opacity="0.27"/>
<path d="M205.49 312.17h4.59v4.59h-4.59z" fill="#000" fill-opacity="0.28"/>
<path d="M196.42 298.56h4.59v4.59h-4.59zM196.42 325.78h4.59v4.59h-4.59z" fill="#000" fill-opacity="0.3"/>
<path d="M200.95 298.56h4.59v4.59h-4.59zM200.95 325.78h4.59v4.59h-4.59z" fill="#000" fill-opacity="0.32"/>
<path d="M196.42 303.1h4.59v4.59h-4.59zM196.42 321.24h4.59v4.59h-4.59zM200.95 303.1h4.59v4.59h-4.59zM200.95 321.24h4.59v4.59h-4.59z" fill="#000" fill-opacity="0.35"/>
<path d="M196.42 307.63h4.59v4.59h-4.59zM196.42 316.7h4.59v4.59h-4.59z" fill="#000" fill-opacity="0.37"/>
<path d="M196.42 312.17h4.59v4.59h-4.59zM200.95 307.63h4.59v4.59h-4.59zM200.95 312.17h4.59v4.59h-4.59zM200.95 316.7h4.59v4.59h-4.59z" fill="#000" fill-opacity="0.38"/>
<path d="M196.1,261.3C198.92,260.83 201.22,261.48 204.5,263.2C207.78,264.92 212,267.7 215.75,271.6C219.5,275.5 223.25,281.28 227,286.6C230.75,291.92 234.97,297.87 238.25,303.5C241.53,309.13 244.97,315.72 246.7,320.4C248.42,325.08 249.38,327.54 248.6,331.6C247.82,335.66 245.6,341.15 242,344.75C238.4,348.35 232.32,351.32 227,353.2C221.68,355.07 215.42,356 210.1,356C204.78,356 199.47,355.07 195.1,353.2C190.73,351.32 186.87,348.35 183.9,344.75C180.93,341.15 178.72,336.29 177.3,331.6C175.88,326.91 175.55,322.22 175.4,316.6C175.25,310.98 175.62,304.15 176.4,297.9C177.18,291.65 178.23,284.42 180.1,279.1C181.97,273.78 184.93,268.97 187.6,266C190.27,263.03 193.28,261.77 196.1,261.3Z" fill="none" stroke="#8a8a8a" stroke-width="1.5" stroke-dasharray="5.2 2.6"/>
<path d="M199.8,284.75C202.14,284.9 205.59,286 208.25,288.5C210.91,291 213.25,295.68 215.75,299.75C218.25,303.82 220.91,308.52 223.25,312.9C225.59,317.27 229.01,321.94 229.8,326C230.59,330.06 229.72,334.12 228,337.25C226.28,340.38 223.1,343.34 219.5,344.75C215.9,346.16 210.47,346.01 206.4,345.7C202.33,345.39 198.07,345.25 195.1,342.9C192.13,340.55 189.91,336.29 188.6,331.6C187.29,326.91 187.1,320.37 187.25,314.75C187.4,309.13 188.34,302.42 189.5,297.9C190.66,293.38 192.48,289.79 194.2,287.6C195.92,285.41 197.46,284.6 199.8,284.75Z" fill="none" stroke="#8a8a8a" stroke-width="1.5" stroke-dasharray="5.2 2.6"/>
<path d="M211.2,303.6C211.79,303.63 218.56,308.3 219,308.7C219.44,309.1 222.13,313.01 222.3,313.6C222.47,314.19 223.2,322.68 223.2,323.5C223.2,324.32 222.47,333.51 222.3,334.2C222.13,334.89 219.44,340.34 219,340.8C218.56,341.26 211.79,345.67 211.2,345.7C210.61,345.73 204.61,342.06 204.2,341.6C203.79,341.14 201.06,334.92 200.9,334.2C200.74,333.48 200.08,324.32 200.1,323.5C200.12,322.68 201.19,314.22 201.35,313.6C201.51,312.98 203.81,308.3 204.2,307.9C204.59,307.5 210.61,303.57 211.2,303.6Z" fill="#f4c5ca" stroke="#000" stroke-width="1.5" stroke-linejoin="round"/>
<path d="M211.2,314.5C211.56,314.52 216.32,318.21 216.6,318.6C216.88,318.99 218.18,323.81 218.2,324.3C218.22,324.79 217.28,330.42 217,330.9C216.72,331.38 211.61,336.27 211.2,336.3C210.79,336.33 206.93,332.21 206.7,331.7C206.47,331.19 205.47,324.04 205.5,323.5C205.53,322.96 207.27,318.56 207.5,318.2C207.73,317.84 210.84,314.48 211.2,314.5Z" fill="#d75f6c" stroke="#000" stroke-width="1.4" stroke-linejoin="round"/>
<line x1="210.9" y1="253.2" x2="210.9" y2="366.6" stroke="#000" stroke-width="1.6"/>
<line x1="169.2" y1="323.2" x2="282.6" y2="323.2" stroke="#000" stroke-width="1.6"/>
<ellipse cx="210.4" cy="323.2" rx="2" ry="2.2" fill="#000"/>
</g>
<rect x="169.2" y="253.2" width="113.4" height="113.4" fill="none" stroke="#000" stroke-width="1.9"/>
<line x1="173.6" y1="366.6" x2="173.6" y2="369.4" stroke="#000" stroke-width="0.9"/>
<line x1="200.3" y1="366.6" x2="200.3" y2="369.4" stroke="#000" stroke-width="0.9"/>
<line x1="227" y1="366.6" x2="227" y2="369.4" stroke="#000" stroke-width="0.9"/>
<line x1="253.7" y1="366.6" x2="253.7" y2="369.4" stroke="#000" stroke-width="0.9"/>
<line x1="280.4" y1="366.6" x2="280.4" y2="369.4" stroke="#000" stroke-width="0.9"/>
<line x1="166.4" y1="360.7" x2="169.2" y2="360.7" stroke="#000" stroke-width="0.9"/>
<line x1="166.4" y1="334.4" x2="169.2" y2="334.4" stroke="#000" stroke-width="0.9"/>
<line x1="166.4" y1="308.2" x2="169.2" y2="308.2" stroke="#000" stroke-width="0.9"/>
<line x1="166.4" y1="282" x2="169.2" y2="282" stroke="#000" stroke-width="0.9"/>
<line x1="166.4" y1="255.7" x2="169.2" y2="255.7" stroke="#000" stroke-width="0.9"/>
<g clip-path="url(#c22)">
<path d="M311.3,368.6 L311.3,360.6 L316.8,360.6 L316.8,336.8 L322.3,336.8 L322.3,288 L327.8,288 L327.8,263.7 L333.3,263.7 L333.3,304.5 L339.3,304.5 L339.3,348.7 L344.8,348.7 L344.8,363.7 L350.8,363.7 L350.8,368.6 Z" fill="#d75f6c"/>
<path d="M311.3,368.6 L311.3,343.6 L316.95,343.6 L316.95,320.4 L322.6,320.4 L322.6,325.3 L328.25,325.3 L328.25,331.4 L333.9,331.4 L333.9,335.6 L339.55,335.6 L339.55,338.7 L345.2,338.7 L345.2,341.4 L350.85,341.4 L350.85,346 L356.5,346 L356.5,349.6 L362.15,349.6 L362.15,353.8 L367.8,353.8 L367.8,357 L373.45,357 L373.45,360.6 L379.1,360.6 L379.1,363.3 L384.75,363.3 L384.75,364.5 L390.4,364.5 L390.4,368.6" fill="none" stroke="#7f7f7f" stroke-width="1.1"/>
<line x1="332.1" y1="253.2" x2="332.1" y2="366.6" stroke="#000" stroke-width="1.6"/>
</g>
<rect x="288.4" y="253.2" width="113.4" height="113.4" fill="none" stroke="#000" stroke-width="1.9"/>
<line x1="293.9" y1="366.6" x2="293.9" y2="369.4" stroke="#000" stroke-width="0.9"/>
<line x1="320.3" y1="366.6" x2="320.3" y2="369.4" stroke="#000" stroke-width="0.9"/>
<line x1="346.7" y1="366.6" x2="346.7" y2="369.4" stroke="#000" stroke-width="0.9"/>
<line x1="373.1" y1="366.6" x2="373.1" y2="369.4" stroke="#000" stroke-width="0.9"/>
<line x1="399.5" y1="366.6" x2="399.5" y2="369.4" stroke="#000" stroke-width="0.9"/>
<g clip-path="url(#c30)">
<path d="M137.54 426.75h1v1h-1zM150.97 419.05h1v1h-1zM122.21 483h1v1h-1zM141.66 462h1v1h-1zM142.64 432.75h1v1h-1zM143.94 446.12h1v1h-1zM133.14 449.74h1v1h-1zM125.16 443.76h1v1h-1zM134.69 408.53h1v1h-1zM133.68 428.33h1v1h-1zM133.56 393.14h1v1h-1zM153.73 447.79h1v1h-1zM132.58 441.76h1v1h-1zM152.9 399.01h1v1h-1zM135.79 421.97h1v1h-1zM148.17 420.1h1v1h-1zM137.09 399.3h1v1h-1zM153.86 395.73h1v1h-1zM128.22 413.97h1v1h-1zM140.45 436.83h1v1h-1zM161.38 410.72h1v1h-1zM117.8 466.77h1v1h-1zM123.43 454.66h1v1h-1zM130.78 412.47h1v1h-1zM132.96 448.9h1v1h-1zM136.17 417.06h1v1h-1zM150.16 451.91h1v1h-1zM148.32 447.4h1v1h-1zM134.11 449.83h1v1h-1zM138.21 418.37h1v1h-1zM131.4 427.28h1v1h-1zM160.36 397.15h1v1h-1zM151.64 402.47h1v1h-1zM129.65 416.24h1v1h-1zM141.37 448.86h1v1h-1zM136.87 432.18h1v1h-1zM121.63 388.96h1v1h-1zM146.06 394.02h1v1h-1zM107.6 481.71h1v1h-1zM120.09 454.92h1v1h-1zM113.86 470.5h1v1h-1zM127.06 414.66h1v1h-1zM109.65 479.19h1v1h-1zM160.7 483.88h1v1h-1zM151.07 450.06h1v1h-1zM110.54 474.03h1v1h-1zM144.65 439.01h1v1h-1zM123.99 455h1v1h-1zM130.2 437.96h1v1h-1zM137.23 410.22h1v1h-1zM144.72 457.46h1v1h-1zM159.83 478.7h1v1h-1zM152.85 456.14h1v1h-1zM133.84 415.72h1v1h-1zM132.99 444.99h1v1h-1zM153.78 432.46h1v1h-1zM137.84 407.56h1v1h-1zM131.55 465.56h1v1h-1zM130.33 474.18h1v1h-1zM141.3 436.85h1v1h-1zM143.02 420.64h1v1h-1zM121.31 392.3h1v1h-1zM130.66 398.47h1v1h-1zM121.66 449.92h1v1h-1zM146.81 428.32h1v1h-1zM144.87 410.25h1v1h-1zM135.55 433.35h1v1h-1zM124.77 406.42h1v1h-1zM129.76 398.26h1v1h-1zM137.36 411.62h1v1h-1zM157.52 444.08h1v1h-1zM143.9 390.46h1v1h-1zM130.38 483.41h1v1h-1zM129.29 461.7h1v1h-1zM111.44 467.66h1v1h-1zM123.99 468.1h1v1h-1zM144.32 447.12h1v1h-1zM129.78 437.18h1v1h-1zM119.86 402.64h1v1h-1zM134.02 396.37h1v1h-1zM146.02 437.59h1v1h-1zM107.73 473.96h1v1h-1zM132.9 443.69h1v1h-1zM130.95 417.51h1v1h-1zM130.15 459h1v1h-1zM161.7 442.1h1v1h-1zM142.32 448.95h1v1h-1zM136.41 428.73h1v1h-1zM132.75 438.49h1v1h-1zM132.86 413.36h1v1h-1zM147.92 409.74h1v1h-1zM144.94 481.94h1v1h-1zM142.04 395.58h1v1h-1zM145.04 405.17h1v1h-1zM131.97 431.21h1v1h-1zM115.79 483.96h1v1h-1zM117.46 476.37h1v1h-1zM131.26 425.8h1v1h-1zM136.49 450.7h1v1h-1zM141.51 459.93h1v1h-1zM122.19 484.11h1v1h-1zM133.54 436.67h1v1h-1zM134.6 429.3h1v1h-1zM115.94 401.64h1v1h-1zM131.12 457.26h1v1h-1zM150.11 439.15h1v1h-1zM144.11 447.81h1v1h-1zM126.77 483.96h1v1h-1zM143.14 446h1v1h-1zM119.51 406.76h1v1h-1zM132.31 440.25h1v1h-1zM151.14 406.77h1v1h-1zM135.46 444.16h1v1h-1zM155.48 405.23h1v1h-1zM124.62 449.19h1v1h-1zM134.62 455.5h1v1h-1zM122.08 402.94h1v1h-1zM145.18 425.9h1v1h-1zM130.46 393.5h1v1h-1zM132.49 415.14h1v1h-1zM134.57 470.13h1v1h-1zM127.14 447.99h1v1h-1zM141.29 439.69h1v1h-1zM123.75 455.17h1v1h-1zM139.47 431.64h1v1h-1zM159.19 439.08h1v1h-1zM121.08 449.6h1v1h-1zM156.47 398.76h1v1h-1zM121.12 458.72h1v1h-1zM113.89 400.34h1v1h-1zM156.84 419.52h1v1h-1zM116.6 459.29h1v1h-1zM134.52 462.45h1v1h-1zM112.94 469.71h1v1h-1zM140.96 447.92h1v1h-1zM109.2 480.33h1v1h-1zM139.56 451.57h1v1h-1zM121.66 451.06h1v1h-1zM136.14 483.67h1v1h-1zM125.69 461.76h1v1h-1z" fill="#d2d2d2"/>
<path d="M50 426.73h4.59v4.59h-4.59zM50 431.27h4.59v4.59h-4.59zM50 435.8h4.59v4.59h-4.59zM50 440.34h4.59v4.59h-4.59zM54.54 408.59h4.59v4.59h-4.59zM54.54 413.12h4.59v4.59h-4.59zM54.54 417.66h4.59v4.59h-4.59zM54.54 422.2h4.59v4.59h-4.59zM54.54 426.73h4.59v4.59h-4.59zM54.54 431.27h4.59v4.59h-4.59zM54.54 435.8h4.59v4.59h-4.59zM54.54 440.34h4.59v4.59h-4.59zM54.54 444.88h4.59v4.59h-4.59zM54.54 449.41h4.59v4.59h-4.59zM54.54 453.95h4.59v4.59h-4.59zM54.54 458.48h4.59v4.59h-4.59zM59.07 399.52h4.59v4.59h-4.59zM59.07 404.05h4.59v4.59h-4.59zM59.07 408.59h4.59v4.59h-4.59zM59.07 413.12h4.59v4.59h-4.59zM59.07 417.66h4.59v4.59h-4.59zM59.07 449.41h4.59v4.59h-4.59zM59.07 453.95h4.59v4.59h-4.59zM59.07 458.48h4.59v4.59h-4.59zM59.07 463.02h4.59v4.59h-4.59zM63.61 394.98h4.59v4.59h-4.59zM63.61 399.52h4.59v4.59h-4.59zM63.61 404.05h4.59v4.59h-4.59zM63.61 463.02h4.59v4.59h-4.59zM63.61 467.56h4.59v4.59h-4.59zM63.61 472.09h4.59v4.59h-4.59zM68.14 390.44h4.59v4.59h-4.59zM68.14 394.98h4.59v4.59h-4.59zM68.14 399.52h4.59v4.59h-4.59zM68.14 467.56h4.59v4.59h-4.59zM68.14 472.09h4.59v4.59h-4.59zM68.14 476.63h4.59v4.59h-4.59zM72.68 385.91h4.59v4.59h-4.59zM72.68 390.44h4.59v4.59h-4.59zM72.68 394.98h4.59v4.59h-4.59zM72.68 472.09h4.59v4.59h-4.59zM72.68 476.63h4.59v4.59h-4.59zM77.22 385.91h4.59v4.59h-4.59zM77.22 390.44h4.59v4.59h-4.59zM77.22 394.98h4.59v4.59h-4.59zM77.22 472.09h4.59v4.59h-4.59zM77.22 476.63h4.59v4.59h-4.59zM77.22 481.16h4.59v4.59h-4.59zM81.75 385.91h4.59v4.59h-4.59zM81.75 390.44h4.59v4.59h-4.59zM81.75 394.98h4.59v4.59h-4.59zM81.75 472.09h4.59v4.59h-4.59zM81.75 476.63h4.59v4.59h-4.59zM81.75 481.16h4.59v4.59h-4.59zM86.29 385.91h4.59v4.59h-4.59zM86.29 390.44h4.59v4.59h-4.59zM86.29 394.98h4.59v4.59h-4.59zM86.29 472.09h4.59v4.59h-4.59zM86.29 476.63h4.59v4.59h-4.59zM86.29 481.16h4.59v4.59h-4.59zM90.82 385.91h4.59v4.59h-4.59zM90.82 390.44h4.59v4.59h-4.59zM90.82 394.98h4.59v4.59h-4.59zM90.82 472.09h4.59v4.59h-4.59zM90.82 476.63h4.59v4.59h-4.59zM95.36 390.44h4.59v4.59h-4.59zM95.36 394.98h4.59v4.59h-4.59zM95.36 399.52h4.59v4.59h-4.59zM95.36 467.56h4.59v4.59h-4.59zM95.36 472.09h4.59v4.59h-4.59zM95.36 476.63h4.59v4.59h-4.59zM99.9 390.44h4.59v4.59h-4.59zM99.9 394.98h4.59v4.59h-4.59zM99.9 399.52h4.59v4.59h-4.59zM99.9 404.05h4.59v4.59h-4.59zM99.9 408.59h4.59v4.59h-4.59zM99.9 458.48h4.59v4.59h-4.59zM99.9 463.02h4.59v4.59h-4.59zM99.9 467.56h4.59v4.59h-4.59zM99.9 472.09h4.59v4.59h-4.59zM104.43 394.98h4.59v4.59h-4.59zM104.43 399.52h4.59v4.59h-4.59zM104.43 404.05h4.59v4.59h-4.59zM104.43 408.59h4.59v4.59h-4.59zM104.43 413.12h4.59v4.59h-4.59zM104.43 417.66h4.59v4.59h-4.59zM104.43 422.2h4.59v4.59h-4.59zM104.43 444.88h4.59v4.59h-4.59zM104.43 449.41h4.59v4.59h-4.59zM104.43 453.95h4.59v4.59h-4.59zM104.43 458.48h4.59v4.59h-4.59zM104.43 463.02h4.59v4.59h-4.59zM104.43 467.56h4.59v4.59h-4.59zM108.97 404.05h4.59v4.59h-4.59zM108.97 408.59h4.59v4.59h-4.59zM108.97 413.12h4.59v4.59h-4.59zM108.97 417.66h4.59v4.59h-4.59zM108.97 422.2h4.59v4.59h-4.59zM108.97 426.73h4.59v4.59h-4.59zM108.97 431.27h4.59v4.59h-4.59zM108.97 435.8h4.59v4.59h-4.59zM108.97 440.34h4.59v4.59h-4.59zM108.97 444.88h4.59v4.59h-4.59zM108.97 449.41h4.59v4.59h-4.59zM108.97 453.95h4.59v4.59h-4.59zM108.97 458.48h4.59v4.59h-4.59zM113.5 417.66h4.59v4.59h-4.59zM113.5 422.2h4.59v4.59h-4.59zM113.5 426.73h4.59v4.59h-4.59zM113.5 431.27h4.59v4.59h-4.59zM113.5 435.8h4.59v4.59h-4.59zM113.5 440.34h4.59v4.59h-4.59zM113.5 444.88h4.59v4.59h-4.59zM113.5 449.41h4.59v4.59h-4.59z" fill="#000" fill-opacity="0.02"/>
<path d="M59.07 422.2h4.59v4.59h-4.59zM59.07 426.73h4.59v4.59h-4.59zM59.07 431.27h4.59v4.59h-4.59zM59.07 435.8h4.59v4.59h-4.59zM59.07 440.34h4.59v4.59h-4.59zM59.07 444.88h4.59v4.59h-4.59zM63.61 408.59h4.59v4.59h-4.59zM63.61 413.12h4.59v4.59h-4.59zM63.61 453.95h4.59v4.59h-4.59zM63.61 458.48h4.59v4.59h-4.59zM68.14 404.05h4.59v4.59h-4.59zM68.14 463.02h4.59v4.59h-4.59zM72.68 399.52h4.59v4.59h-4.59zM72.68 467.56h4.59v4.59h-4.59zM77.22 399.52h4.59v4.59h-4.59zM77.22 467.56h4.59v4.59h-4.59zM81.75 399.52h4.59v4.59h-4.59zM81.75 467.56h4.59v4.59h-4.59zM86.29 399.52h4.59v4.59h-4.59zM86.29 467.56h4.59v4.59h-4.59zM90.82 399.52h4.59v4.59h-4.59zM90.82 404.05h4.59v4.59h-4.59zM90.82 463.02h4.59v4.59h-4.59zM90.82 467.56h4.59v4.59h-4.59zM95.36 404.05h4.59v4.59h-4.59zM95.36 408.59h4.59v4.59h-4.59zM95.36 458.48h4.59v4.59h-4.59zM95.36 463.02h4.59v4.59h-4.59zM99.9 413.12h4.59v4.59h-4.59zM99.9 417.66h4.59v4.59h-4.59zM99.9 422.2h4.59v4.59h-4.59zM99.9 444.88h4.59v4.59h-4.59zM99.9 449.41h4.59v4.59h-4.59zM99.9 453.95h4.59v4.59h-4.59zM104.43 426.73h4.59v4.59h-4.59zM104.43 431.27h4.59v4.59h-4.59zM104.43 435.8h4.59v4.59h-4.59zM104.43 440.34h4.59v4.59h-4.59z" fill="#000" fill-opacity="0.03"/>
<path d="M63.61 417.66h4.59v4.59h-4.59zM63.61 422.2h4.59v4.59h-4.59zM63.61 444.88h4.59v4.59h-4.59zM63.61 449.41h4.59v4.59h-4.59zM68.14 408.59h4.59v4.59h-4.59zM68.14 458.48h4.59v4.59h-4.59zM72.68 404.05h4.59v4.59h-4.59zM72.68 463.02h4.59v4.59h-4.59zM77.22 404.05h4.59v4.59h-4.59zM81.75 404.05h4.59v4.59h-4.59zM86.29 404.05h4.59v4.59h-4.59zM86.29 463.02h4.59v4.59h-4.59zM90.82 408.59h4.59v4.59h-4.59zM90.82 458.48h4.59v4.59h-4.59zM95.36 413.12h4.59v4.59h-4.59zM95.36 417.66h4.59v4.59h-4.59zM95.36 453.95h4.59v4.59h-4.59zM99.9 426.73h4.59v4.59h-4.59zM99.9 431.27h4.59v4.59h-4.59zM99.9 435.8h4.59v4.59h-4.59zM99.9 440.34h4.59v4.59h-4.59z" fill="#000" fill-opacity="0.05"/>
<path d="M63.61 426.73h4.59v4.59h-4.59zM63.61 431.27h4.59v4.59h-4.59zM63.61 435.8h4.59v4.59h-4.59zM63.61 440.34h4.59v4.59h-4.59zM68.14 413.12h4.59v4.59h-4.59zM68.14 453.95h4.59v4.59h-4.59zM72.68 408.59h4.59v4.59h-4.59zM77.22 463.02h4.59v4.59h-4.59zM81.75 463.02h4.59v4.59h-4.59zM86.29 408.59h4.59v4.59h-4.59zM90.82 413.12h4.59v4.59h-4.59zM95.36 422.2h4.59v4.59h-4.59zM95.36 444.88h4.59v4.59h-4.59zM95.36 449.41h4.59v4.59h-4.59z" fill="#000" fill-opacity="0.07"/>
<path d="M68.14 417.66h4.59v4.59h-4.59zM72.68 458.48h4.59v4.59h-4.59zM77.22 408.59h4.59v4.59h-4.59zM81.75 408.59h4.59v4.59h-4.59zM86.29 458.48h4.59v4.59h-4.59zM90.82 453.95h4.59v4.59h-4.59zM95.36 426.73h4.59v4.59h-4.59zM95.36 431.27h4.59v4.59h-4.59zM95.36 435.8h4.59v4.59h-4.59zM95.36 440.34h4.59v4.59h-4.59z" fill="#000" fill-opacity="0.08"/>
<path d="M68.14 449.41h4.59v4.59h-4.59zM72.68 413.12h4.59v4.59h-4.59zM77.22 458.48h4.59v4.59h-4.59zM81.75 458.48h4.59v4.59h-4.59zM90.82 417.66h4.59v4.59h-4.59zM90.82 449.41h4.59v4.59h-4.59z" fill="#000" fill-opacity="0.1"/>
<path d="M68.14 422.2h4.59v4.59h-4.59zM68.14 444.88h4.59v4.59h-4.59zM72.68 453.95h4.59v4.59h-4.59zM86.29 413.12h4.59v4.59h-4.59zM86.29 453.95h4.59v4.59h-4.59z" fill="#000" fill-opacity="0.12"/>
<path d="M68.14 426.73h4.59v4.59h-4.59zM68.14 440.34h4.59v4.59h-4.59zM72.68 417.66h4.59v4.59h-4.59zM77.22 413.12h4.59v4.59h-4.59zM81.75 413.12h4.59v4.59h-4.59zM90.82 422.2h4.59v4.59h-4.59zM90.82 444.88h4.59v4.59h-4.59z" fill="#000" fill-opacity="0.13"/>
<path d="M68.14 431.27h4.59v4.59h-4.59zM68.14 435.8h4.59v4.59h-4.59zM77.22 453.95h4.59v4.59h-4.59zM81.75 453.95h4.59v4.59h-4.59zM86.29 417.66h4.59v4.59h-4.59zM90.82 426.73h4.59v4.59h-4.59zM90.82 440.34h4.59v4.59h-4.59z" fill="#000" fill-opacity="0.15"/>
<path d="M72.68 449.41h4.59v4.59h-4.59zM86.29 449.41h4.59v4.59h-4.59zM90.82 431.27h4.59v4.59h-4.59zM90.82 435.8h4.59v4.59h-4.59z" fill="#000" fill-opacity="0.17"/>
<path d="M72.68 422.2h4.59v4.59h-4.59zM77.22 417.66h4.59v4.59h-4.59zM81.75 417.66h4.59v4.59h-4.59z" fill="#000" fill-opacity="0.18"/>
<path d="M72.68 444.88h4.59v4.59h-4.59zM86.29 422.2h4.59v4.59h-4.59z" fill="#000" fill-opacity="0.2"/>
<path d="M77.22 449.41h4.59v4.59h-4.59zM81.75 449.41h4.59v4.59h-4.59zM86.29 444.88h4.59v4.59h-4.59z" fill="#000" fill-opacity="0.22"/>
<path d="M72.68 426.73h4.59v4.59h-4.59zM72.68 440.34h4.59v4.59h-4.59z" fill="#000" fill-opacity="0.23"/>
<path d="M72.68 431.27h4.59v4.59h-4.59zM72.68 435.8h4.59v4.59h-4.59zM77.22 422.2h4.59v4.59h-4.59zM81.75 422.2h4.59v4.59h-4.59zM86.29 426.73h4.59v4.59h-4.59zM86.29 440.34h4.59v4.59h-4.59z" fill="#000" fill-opacity="0.25"/>
<path d="M77.22 444.88h4.59v4.59h-4.59zM86.29 431.27h4.59v4.59h-4.59z" fill="#000" fill-opacity="0.27"/>
<path d="M81.75 444.88h4.59v4.59h-4.59zM86.29 435.8h4.59v4.59h-4.59z" fill="#000" fill-opacity="0.28"/>
<path d="M77.22 426.73h4.59v4.59h-4.59z" fill="#000" fill-opacity="0.3"/>
<path d="M77.22 440.34h4.59v4.59h-4.59zM81.75 426.73h4.59v4.59h-4.59z" fill="#000" fill-opacity="0.32"/>
<path d="M77.22 431.27h4.59v4.59h-4.59zM81.75 440.34h4.59v4.59h-4.59z" fill="#000" fill-opacity="0.33"/>
<path d="M77.22 435.8h4.59v4.59h-4.59zM81.75 431.27h4.59v4.59h-4.59zM81.75 435.8h4.59v4.59h-4.59z" fill="#000" fill-opacity="0.35"/>
<path d="M52.7,431.9C53.17,426.9 53.78,418.42 55.5,413.1C57.22,407.78 60.18,403.28 63,400C65.82,396.72 69.43,394.8 72.4,393.4C75.37,392 77.37,391.75 80.8,391.6C84.23,391.45 88.78,391.42 93,392.5C97.22,393.58 101.72,395.6 106.1,398.1C110.47,400.6 115.5,404.37 119.25,407.5C123,410.63 126.57,414.08 128.6,416.9C130.62,419.72 131.4,420.97 131.4,424.4C131.4,427.83 130.62,432.82 128.6,437.5C126.57,442.18 122.68,447.5 119.25,452.5C115.82,457.5 111.75,463.12 108,467.5C104.25,471.88 99.72,475.78 96.75,478.75C93.78,481.72 92.33,483.43 90.2,485.3C88.08,487.18 86.03,490.15 84,490C81.97,489.85 80.88,486.9 78,484.4C75.12,481.9 70.18,479.38 66.75,475C63.32,470.62 59.74,463.42 57.4,458.1C55.06,452.78 53.48,447.47 52.7,443.1C51.92,438.73 52.23,436.9 52.7,431.9Z" fill="none" stroke="#8a8a8a" stroke-width="1.5" stroke-dasharray="5.2 2.6"/>
<path d="M81.75,406.6C84.88,406.77 89.72,407.38 93,409.4C96.28,411.42 99.58,415 101.4,418.75C103.22,422.5 104.05,427.21 103.9,431.9C103.75,436.59 102.63,442.53 100.5,446.9C98.37,451.27 94.07,455.67 91.1,458.1C88.13,460.53 85.82,461.5 82.7,461.5C79.58,461.5 75.22,460.53 72.4,458.1C69.58,455.67 67.22,451.27 65.8,446.9C64.38,442.53 63.74,436.9 63.9,431.9C64.06,426.9 65.03,420.82 66.75,416.9C68.47,412.98 71.75,410.12 74.25,408.4C76.75,406.68 78.62,406.43 81.75,406.6Z" fill="none" stroke="#8a8a8a" stroke-width="1.5" stroke-dasharray="5.2 2.6"/>
<path d="M81.35,409.5C81.85,409.5 87.48,410.86 87.9,411.1C88.32,411.34 91.6,415.06 91.8,415.5C92,415.94 92.9,421.53 92.9,422.1C92.9,422.67 92,429.3 91.8,429.8C91.6,430.3 88.32,434.44 87.9,434.7C87.48,434.96 81.87,436.35 81.35,436.35C80.83,436.35 75.22,434.96 74.8,434.7C74.38,434.44 71.09,430.3 70.9,429.8C70.71,429.3 70.08,422.67 70.1,422.1C70.12,421.53 71.29,415.94 71.5,415.5C71.71,415.06 74.91,411.34 75.3,411.1C75.69,410.86 80.85,409.5 81.35,409.5Z" fill="#f4c5ca" stroke="#000" stroke-width="1.5" stroke-linejoin="round"/>
<path d="M81.35,415.2C81.82,415.18 86.57,418.94 86.8,419.35C87.03,419.76 87.32,424.96 87.1,425.4C86.88,425.84 81.82,430.28 81.35,430.3C80.88,430.32 75.55,426.32 75.3,425.9C75.05,425.48 74.76,420.33 75,419.9C75.24,419.47 80.88,415.22 81.35,415.2Z" fill="#d75f6c" stroke="#000" stroke-width="1.4" stroke-linejoin="round"/>
<line x1="85.2" y1="372.3" x2="85.2" y2="485.7" stroke="#000" stroke-width="1.6"/>
<line x1="50" y1="422.7" x2="163.4" y2="422.7" stroke="#000" stroke-width="1.6"/>
<ellipse cx="84.7" cy="422.7" rx="2" ry="2.2" fill="#000"/>
</g>
<rect x="50" y="372.3" width="113.4" height="113.4" fill="none" stroke="#000" stroke-width="1.9"/>
<line x1="67.2" y1="485.7" x2="67.2" y2="488.5" stroke="#000" stroke-width="0.9"/>
<line x1="90" y1="485.7" x2="90" y2="488.5" stroke="#000" stroke-width="0.9"/>
<line x1="112.8" y1="485.7" x2="112.8" y2="488.5" stroke="#000" stroke-width="0.9"/>
<line x1="135.6" y1="485.7" x2="135.6" y2="488.5" stroke="#000" stroke-width="0.9"/>
<line x1="158.4" y1="485.7" x2="158.4" y2="488.5" stroke="#000" stroke-width="0.9"/>
<line x1="47.2" y1="477.8" x2="50" y2="477.8" stroke="#000" stroke-width="0.9"/>
<line x1="47.2" y1="450.6" x2="50" y2="450.6" stroke="#000" stroke-width="0.9"/>
<line x1="47.2" y1="423.4" x2="50" y2="423.4" stroke="#000" stroke-width="0.9"/>
<line x1="47.2" y1="396.3" x2="50" y2="396.3" stroke="#000" stroke-width="0.9"/>
<g clip-path="url(#c31)">
<path d="M253.85 405.4h1v1h-1zM249.77 402.52h1v1h-1zM214.89 392.38h1v1h-1zM271.21 427.41h1v1h-1zM246.77 396.33h1v1h-1zM247.33 422.66h1v1h-1zM243.55 394.5h1v1h-1zM217.04 393.27h1v1h-1zM262.64 378.91h1v1h-1zM247.74 395.78h1v1h-1zM276.52 409.92h1v1h-1zM261.64 404.41h1v1h-1zM250.14 437.24h1v1h-1zM250.4 404.74h1v1h-1zM258.84 470.78h1v1h-1zM229.67 388.8h1v1h-1zM263.08 381.15h1v1h-1zM274.07 400.62h1v1h-1zM259.02 421.2h1v1h-1zM225.22 374.97h1v1h-1zM215.89 395.59h1v1h-1zM274.58 424.08h1v1h-1zM262.09 400.77h1v1h-1zM219.8 394.19h1v1h-1zM239.98 393.03h1v1h-1zM214.98 386.39h1v1h-1zM213.71 379.61h1v1h-1zM280.34 398.59h1v1h-1zM260.99 431.19h1v1h-1zM241.26 430.11h1v1h-1zM269.64 413.33h1v1h-1zM256.01 412.04h1v1h-1zM258.62 420.43h1v1h-1zM252.79 409.49h1v1h-1zM255.32 413.19h1v1h-1zM245.1 402.2h1v1h-1zM233.17 442.56h1v1h-1zM240.93 430.99h1v1h-1zM270.33 453.67h1v1h-1zM255.46 409.53h1v1h-1zM240.74 387.12h1v1h-1zM241.88 428.83h1v1h-1zM234.64 390.09h1v1h-1zM213.65 393.49h1v1h-1zM239.65 436.97h1v1h-1zM275.43 424.56h1v1h-1zM248.77 424.5h1v1h-1zM254.68 406.95h1v1h-1zM241.26 390.17h1v1h-1zM232.15 385.32h1v1h-1zM266.56 382.57h1v1h-1zM246.14 396.73h1v1h-1zM218.42 394.95h1v1h-1zM230.47 387.21h1v1h-1zM252.1 429.18h1v1h-1zM258.31 386.87h1v1h-1zM215.84 378.99h1v1h-1zM247.6 386.64h1v1h-1zM257.79 406.76h1v1h-1zM255.22 409.94h1v1h-1zM253.63 410.32h1v1h-1zM255.14 437.39h1v1h-1zM274.15 396.91h1v1h-1zM279.75 437.14h1v1h-1zM223.77 391.63h1v1h-1zM265.31 388.82h1v1h-1zM227.91 390.85h1v1h-1zM242.21 385.35h1v1h-1zM270.06 416.79h1v1h-1zM214.44 396.95h1v1h-1z" fill="#d2d2d2"/>
<path d="M173.74 444.88h4.59v4.59h-4.59zM173.74 449.41h4.59v4.59h-4.59zM173.74 453.95h4.59v4.59h-4.59zM173.74 458.48h4.59v4.59h-4.59zM173.74 463.02h4.59v4.59h-4.59zM173.74 467.56h4.59v4.59h-4.59zM173.74 472.09h4.59v4.59h-4.59zM173.74 476.63h4.59v4.59h-4.59zM178.27 431.27h4.59v4.59h-4.59zM178.27 435.8h4.59v4.59h-4.59zM178.27 440.34h4.59v4.59h-4.59zM178.27 467.56h4.59v4.59h-4.59zM178.27 472.09h4.59v4.59h-4.59zM178.27 476.63h4.59v4.59h-4.59zM182.81 422.2h4.59v4.59h-4.59zM182.81 426.73h4.59v4.59h-4.59zM182.81 472.09h4.59v4.59h-4.59zM182.81 476.63h4.59v4.59h-4.59zM187.34 417.66h4.59v4.59h-4.59zM187.34 422.2h4.59v4.59h-4.59zM187.34 472.09h4.59v4.59h-4.59zM187.34 476.63h4.59v4.59h-4.59zM191.88 413.12h4.59v4.59h-4.59zM191.88 472.09h4.59v4.59h-4.59zM191.88 476.63h4.59v4.59h-4.59zM196.42 408.59h4.59v4.59h-4.59zM196.42 472.09h4.59v4.59h-4.59zM196.42 476.63h4.59v4.59h-4.59zM200.95 404.05h4.59v4.59h-4.59zM200.95 472.09h4.59v4.59h-4.59zM205.49 399.52h4.59v4.59h-4.59zM205.49 404.05h4.59v4.59h-4.59zM205.49 467.56h4.59v4.59h-4.59zM210.02 394.98h4.59v4.59h-4.59zM210.02 399.52h4.59v4.59h-4.59zM210.02 463.02h4.59v4.59h-4.59zM210.02 467.56h4.59v4.59h-4.59zM214.56 394.98h4.59v4.59h-4.59zM214.56 399.52h4.59v4.59h-4.59zM214.56 458.48h4.59v4.59h-4.59zM214.56 463.02h4.59v4.59h-4.59zM219.1 390.44h4.59v4.59h-4.59zM219.1 394.98h4.59v4.59h-4.59zM219.1 399.52h4.59v4.59h-4.59zM219.1 453.95h4.59v4.59h-4.59zM223.63 390.44h4.59v4.59h-4.59zM223.63 394.98h4.59v4.59h-4.59zM223.63 399.52h4.59v4.59h-4.59zM223.63 444.88h4.59v4.59h-4.59zM223.63 449.41h4.59v4.59h-4.59zM228.17 390.44h4.59v4.59h-4.59zM228.17 394.98h4.59v4.59h-4.59zM228.17 399.52h4.59v4.59h-4.59zM228.17 435.8h4.59v4.59h-4.59zM228.17 440.34h4.59v4.59h-4.59zM228.17 444.88h4.59v4.59h-4.59zM232.7 390.44h4.59v4.59h-4.59zM232.7 394.98h4.59v4.59h-4.59zM232.7 399.52h4.59v4.59h-4.59zM232.7 404.05h4.59v4.59h-4.59zM232.7 408.59h4.59v4.59h-4.59zM232.7 413.12h4.59v4.59h-4.59zM232.7 417.66h4.59v4.59h-4.59zM232.7 422.2h4.59v4.59h-4.59zM232.7 426.73h4.59v4.59h-4.59zM232.7 431.27h4.59v4.59h-4.59zM232.7 435.8h4.59v4.59h-4.59zM237.24 390.44h4.59v4.59h-4.59zM237.24 394.98h4.59v4.59h-4.59zM237.24 399.52h4.59v4.59h-4.59zM237.24 404.05h4.59v4.59h-4.59zM237.24 408.59h4.59v4.59h-4.59zM237.24 413.12h4.59v4.59h-4.59zM237.24 417.66h4.59v4.59h-4.59zM237.24 422.2h4.59v4.59h-4.59zM237.24 426.73h4.59v4.59h-4.59zM241.78 394.98h4.59v4.59h-4.59zM241.78 399.52h4.59v4.59h-4.59zM241.78 404.05h4.59v4.59h-4.59zM241.78 408.59h4.59v4.59h-4.59zM241.78 413.12h4.59v4.59h-4.59z" fill="#000" fill-opacity="0.02"/>
<path d="M178.27 444.88h4.59v4.59h-4.59zM178.27 449.41h4.59v4.59h-4.59zM178.27 453.95h4.59v4.59h-4.59zM178.27 458.48h4.59v4.59h-4.59zM178.27 463.02h4.59v4.59h-4.59zM182.81 431.27h4.59v4.59h-4.59zM182.81 467.56h4.59v4.59h-4.59zM187.34 467.56h4.59v4.59h-4.59zM191.88 417.66h4.59v4.59h-4.59zM196.42 413.12h4.59v4.59h-4.59zM196.42 467.56h4.59v4.59h-4.59zM200.95 408.59h4.59v4.59h-4.59zM200.95 467.56h4.59v4.59h-4.59zM205.49 408.59h4.59v4.59h-4.59zM205.49 463.02h4.59v4.59h-4.59zM210.02 404.05h4.59v4.59h-4.59zM210.02 458.48h4.59v4.59h-4.59zM214.56 404.05h4.59v4.59h-4.59zM214.56 453.95h4.59v4.59h-4.59zM219.1 404.05h4.59v4.59h-4.59zM219.1 444.88h4.59v4.59h-4.59zM219.1 449.41h4.59v4.59h-4.59zM223.63 404.05h4.59v4.59h-4.59zM223.63 408.59h4.59v4.59h-4.59zM223.63 435.8h4.59v4.59h-4.59zM223.63 440.34h4.59v4.59h-4.59zM228.17 404.05h4.59v4.59h-4.59zM228.17 408.59h4.59v4.59h-4.59zM228.17 413.12h4.59v4.59h-4.59zM228.17 417.66h4.59v4.59h-4.59zM228.17 422.2h4.59v4.59h-4.59zM228.17 426.73h4.59v4.59h-4.59zM228.17 431.27h4.59v4.59h-4.59z" fill="#000" fill-opacity="0.03"/>
<path d="M182.81 435.8h4.59v4.59h-4.59zM182.81 463.02h4.59v4.59h-4.59zM187.34 426.73h4.59v4.59h-4.59zM191.88 422.2h4.59v4.59h-4.59zM191.88 467.56h4.59v4.59h-4.59zM200.95 413.12h4.59v4.59h-4.59zM200.95 463.02h4.59v4.59h-4.59zM210.02 408.59h4.59v4.59h-4.59zM214.56 408.59h4.59v4.59h-4.59zM214.56 449.41h4.59v4.59h-4.59zM219.1 408.59h4.59v4.59h-4.59zM223.63 413.12h4.59v4.59h-4.59zM223.63 417.66h4.59v4.59h-4.59zM223.63 426.73h4.59v4.59h-4.59zM223.63 431.27h4.59v4.59h-4.59z" fill="#000" fill-opacity="0.05"/>
<path d="M182.81 440.34h4.59v4.59h-4.59zM182.81 444.88h4.59v4.59h-4.59zM182.81 453.95h4.59v4.59h-4.59zM182.81 458.48h4.59v4.59h-4.59zM187.34 431.27h4.59v4.59h-4.59zM187.34 463.02h4.59v4.59h-4.59zM191.88 463.02h4.59v4.59h-4.59zM196.42 417.66h4.59v4.59h-4.59zM196.42 463.02h4.59v4.59h-4.59zM205.49 458.48h4.59v4.59h-4.59zM210.02 453.95h4.59v4.59h-4.59zM219.1 413.12h4.59v4.59h-4.59zM219.1 440.34h4.59v4.59h-4.59zM223.63 422.2h4.59v4.59h-4.59z" fill="#000" fill-opacity="0.07"/>
<path d="M182.81 449.41h4.59v4.59h-4.59zM205.49 413.12h4.59v4.59h-4.59zM210.02 413.12h4.59v4.59h-4.59zM214.56 413.12h4.59v4.59h-4.59zM214.56 444.88h4.59v4.59h-4.59zM219.1 417.66h4.59v4.59h-4.59zM219.1 435.8h4.59v4.59h-4.59z" fill="#000" fill-opacity="0.08"/>
<path d="M187.34 435.8h4.59v4.59h-4.59zM187.34 458.48h4.59v4.59h-4.59zM191.88 426.73h4.59v4.59h-4.59zM196.42 422.2h4.59v4.59h-4.59zM200.95 417.66h4.59v4.59h-4.59zM200.95 458.48h4.59v4.59h-4.59zM210.02 449.41h4.59v4.59h-4.59zM219.1 422.2h4.59v4.59h-4.59zM219.1 426.73h4.59v4.59h-4.59zM219.1 431.27h4.59v4.59h-4.59z" fill="#000" fill-opacity="0.1"/>
<path d="M187.34 453.95h4.59v4.59h-4.59zM191.88 458.48h4.59v4.59h-4.59zM196.42 458.48h4.59v4.59h-4.59zM205.49 453.95h4.59v4.59h-4.59zM214.56 417.66h4.59v4.59h-4.59zM214.56 440.34h4.59v4.59h-4.59z" fill="#000" fill-opacity="0.12"/>
<path d="M187.34 440.34h4.59v4.59h-4.59zM205.49 417.66h4.59v4.59h-4.59zM210.02 417.66h4.59v4.59h-4.59z" fill="#000" fill-opacity="0.13"/>
<path d="M187.34 444.88h4.59v4.59h-4.59zM187.34 449.41h4.59v4.59h-4.59zM191.88 431.27h4.59v4.59h-4.59zM214.56 422.2h4.59v4.59h-4.59zM214.56 435.8h4.59v4.59h-4.59z" fill="#000" fill-opacity="0.15"/>
<path d="M191.88 453.95h4.59v4.59h-4.59zM200.95 422.2h4.59v4.59h-4.59zM200.95 453.95h4.59v4.59h-4.59zM210.02 444.88h4.59v4.59h-4.59zM214.56 426.73h4.59v4.59h-4.59z" fill="#000" fill-opacity="0.17"/>
<path d="M196.42 426.73h4.59v4.59h-4.59zM196.42 453.95h4.59v4.59h-4.59zM205.49 449.41h4.59v4.59h-4.59zM214.56 431.27h4.59v4.59h-4.59z" fill="#000" fill-opacity="0.18"/>
<path d="M191.88 435.8h4.59v4.59h-4.59zM205.49 422.2h4.59v4.59h-4.59zM210.02 422.2h4.59v4.59h-4.59z" fill="#000" fill-opacity="0.2"/>
<path d="M191.88 449.41h4.59v4.59h-4.59zM210.02 440.34h4.59v4.59h-4.59z" fill="#000" fill-opacity="0.22"/>
<path d="M191.88 440.34h4.59v4.59h-4.59z" fill="#000" fill-opacity="0.23"/>
<path d="M191.88 444.88h4.59v4.59h-4.59zM196.42 431.27h4.59v4.59h-4.59zM200.95 426.73h4.59v4.59h-4.59zM200.95 449.41h4.59v4.59h-4.59zM210.02 426.73h4.59v4.59h-4.59z" fill="#000" fill-opacity="0.25"/>
<path d="M196.42 449.41h4.59v4.59h-4.59zM205.49 444.88h4.59v4.59h-4.59zM210.02 431.27h4.59v4.59h-4.59zM210.02 435.8h4.59v4.59h-4.59z" fill="#000" fill-opacity="0.27"/>
<path d="M205.49 426.73h4.59v4.59h-4.59z" fill="#000" fill-opacity="0.28"/>
<path d="M196.42 435.8h4.59v4.59h-4.59zM196.42 444.88h4.59v4.59h-4.59zM200.95 444.88h4.59v4.59h-4.59zM205.49 440.34h4.59v4.59h-4.59z" fill="#000" fill-opacity="0.32"/>
<path d="M196.42 440.34h4.59v4.59h-4.59zM200.95 431.27h4.59v4.59h-4.59zM205.49 431.27h4.59v4.59h-4.59z" fill="#000" fill-opacity="0.33"/>
<path d="M205.49 435.8h4.59v4.59h-4.59z" fill="#000" fill-opacity="0.35"/>
<path d="M200.95 435.8h4.59v4.59h-4.59zM200.95 440.34h4.59v4.59h-4.59z" fill="#000" fill-opacity="0.38"/>
<path d="M227,394.4C231.38,394.71 238.57,395.6 242,398.1C245.43,400.6 247.1,405.25 247.6,409.4C248.1,413.55 247.18,417.9 245,423C242.82,428.1 238.83,434.33 234.5,440C230.17,445.67 224.5,450.92 219,457C213.5,463.08 206.73,472.1 201.5,476.5C196.27,480.9 191.47,483.33 187.6,483.4C183.72,483.47 180.43,481.12 178.25,476.9C176.07,472.68 174.5,464.35 174.5,458.1C174.5,451.85 175.75,445.96 178.25,439.4C180.75,432.84 185.12,424.69 189.5,418.75C193.88,412.81 200.12,407.5 204.5,403.75C208.88,400 212,397.81 215.75,396.25C219.5,394.69 222.62,394.09 227,394.4Z" fill="none" stroke="#8a8a8a" stroke-width="1.5" stroke-dasharray="5.2 2.6"/>
<path d="M219.5,408.4C222.32,408.24 225.43,408.57 227,410.3C228.57,412.03 229.53,415.15 228.9,418.75C228.28,422.35 225.75,427.52 223.25,431.9C220.75,436.27 217.34,440.63 213.9,445C210.46,449.37 205.73,455.28 202.6,458.1C199.47,460.92 197.6,461.9 195.1,461.9C192.6,461.9 189.16,460.29 187.6,458.1C186.04,455.91 185.43,452.81 185.75,448.75C186.07,444.69 187.31,438.44 189.5,433.75C191.69,429.06 195.47,424.35 198.9,420.6C202.33,416.85 206.67,413.28 210.1,411.25C213.53,409.22 216.68,408.56 219.5,408.4Z" fill="none" stroke="#8a8a8a" stroke-width="1.5" stroke-dasharray="5.2 2.6"/>
<path d="M211.4,409.4C212,409.38 218.13,411.75 218.6,412.2C219.07,412.65 223.08,419.96 223.25,420.6C223.42,421.24 223.13,427.54 222.9,428.1C222.67,428.66 218.06,434.36 217.6,434.7C217.14,435.04 211.92,436.6 211.4,436.6C210.88,436.6 204.93,435.04 204.5,434.7C204.07,434.36 200.91,428.66 200.75,428.1C200.59,427.54 200.29,421.21 200.4,420.6C200.51,419.99 203.16,413.2 203.6,412.75C204.04,412.3 210.8,409.42 211.4,409.4Z" fill="#f4c5ca" stroke="#000" stroke-width="1.5" stroke-linejoin="round"/>
<path d="M211.4,416C211.85,415.98 216.47,418.73 216.7,419.1C216.93,419.47 217.46,424.83 217.25,425.3C217.04,425.77 211.85,430.86 211.4,430.9C210.95,430.94 206.24,426.7 206,426.25C205.76,425.8 205.18,420.11 205.4,419.7C205.62,419.29 210.95,416.02 211.4,416Z" fill="#d75f6c" stroke="#000" stroke-width="1.4" stroke-linejoin="round"/>
<line x1="210.9" y1="372.3" x2="210.9" y2="485.7" stroke="#000" stroke-width="1.6"/>
<line x1="169.2" y1="422.7" x2="282.6" y2="422.7" stroke="#000" stroke-width="1.6"/>
<ellipse cx="210.4" cy="422.7" rx="2" ry="2.2" fill="#000"/>
</g>
<rect x="169.2" y="372.3" width="113.4" height="113.4" fill="none" stroke="#000" stroke-width="1.9"/>
<line x1="173.6" y1="485.7" x2="173.6" y2="488.5" stroke="#000" stroke-width="0.9"/>
<line x1="200.3" y1="485.7" x2="200.3" y2="488.5" stroke="#000" stroke-width="0.9"/>
<line x1="227" y1="485.7" x2="227" y2="488.5" stroke="#000" stroke-width="0.9"/>
<line x1="253.7" y1="485.7" x2="253.7" y2="488.5" stroke="#000" stroke-width="0.9"/>
<line x1="280.4" y1="485.7" x2="280.4" y2="488.5" stroke="#000" stroke-width="0.9"/>
<line x1="166.4" y1="477.8" x2="169.2" y2="477.8" stroke="#000" stroke-width="0.9"/>
<line x1="166.4" y1="450.6" x2="169.2" y2="450.6" stroke="#000" stroke-width="0.9"/>
<line x1="166.4" y1="423.4" x2="169.2" y2="423.4" stroke="#000" stroke-width="0.9"/>
<line x1="166.4" y1="396.3" x2="169.2" y2="396.3" stroke="#000" stroke-width="0.9"/>
<g clip-path="url(#c32)">
<path d="M400.63 481.69h1v1h-1zM387.68 434.14h1v1h-1zM393.09 454.55h1v1h-1zM391.63 465.24h1v1h-1zM388.63 435.81h1v1h-1zM392.45 471.26h1v1h-1zM395.64 471.81h1v1h-1zM389.3 431.53h1v1h-1zM337.33 469.78h1v1h-1zM339.63 472.1h1v1h-1zM382.85 475.32h1v1h-1zM364.94 482.7h1v1h-1zM375.51 480.99h1v1h-1zM355.55 477.98h1v1h-1zM394.52 466.58h1v1h-1zM391.92 460.37h1v1h-1zM393.26 480.75h1v1h-1zM348.56 477.14h1v1h-1zM386.38 481.92h1v1h-1zM376.92 483.48h1v1h-1zM391.26 443.12h1v1h-1zM390.42 476.73h1v1h-1zM388.32 433.19h1v1h-1zM380.52 483.96h1v1h-1zM371.09 483.92h1v1h-1zM395.21 429.33h1v1h-1zM364.31 483.33h1v1h-1zM384.54 475.53h1v1h-1zM392.28 452.28h1v1h-1zM375.76 478.26h1v1h-1zM395.9 445.53h1v1h-1zM314.88 483.95h1v1h-1zM363.96 478.03h1v1h-1zM384.34 484.29h1v1h-1zM360.54 480.56h1v1h-1zM331.76 483.71h1v1h-1zM393.01 460.12h1v1h-1zM370.05 477.44h1v1h-1zM338.86 483.26h1v1h-1zM392.79 456.41h1v1h-1zM392.04 445.4h1v1h-1zM396.48 478.2h1v1h-1zM350.82 483.67h1v1h-1zM362.21 481.48h1v1h-1zM393.26 470.8h1v1h-1zM345.49 478.35h1v1h-1zM377.45 426.63h1v1h-1zM398.54 457.53h1v1h-1zM398.42 446.79h1v1h-1zM399.81 466.97h1v1h-1zM386.48 437.78h1v1h-1zM394.26 445.74h1v1h-1zM395.64 453.68h1v1h-1zM387.98 441.32h1v1h-1zM342.62 476.38h1v1h-1zM399.08 480.45h1v1h-1zM341.08 476.19h1v1h-1zM394.86 453.47h1v1h-1zM361.51 477.84h1v1h-1zM395 436.99h1v1h-1zM376.91 478.23h1v1h-1zM379.34 482.69h1v1h-1zM389.68 476.38h1v1h-1zM387.54 475.05h1v1h-1zM397.38 449.12h1v1h-1zM343.97 472.71h1v1h-1zM393 476.23h1v1h-1zM388.84 480.6h1v1h-1zM391.69 433.33h1v1h-1zM336.33 471h1v1h-1zM394.46 445.36h1v1h-1zM388.82 478.06h1v1h-1zM362.65 481.46h1v1h-1zM386.48 435.83h1v1h-1zM396.02 449.14h1v1h-1zM377.88 475.06h1v1h-1zM400.46 464.28h1v1h-1zM393.99 446.76h1v1h-1zM345.95 482.65h1v1h-1zM398.54 440.81h1v1h-1zM399.22 474.35h1v1h-1zM358 483.26h1v1h-1zM395.29 445.19h1v1h-1zM371.1 419.78h1v1h-1zM395.3 449.43h1v1h-1zM396.3 448.66h1v1h-1zM400.71 473.06h1v1h-1zM393.08 435.85h1v1h-1zM385.06 479.06h1v1h-1zM394.68 427.1h1v1h-1zM396.23 453.9h1v1h-1zM340.56 473.51h1v1h-1zM398.61 465.06h1v1h-1zM392.6 458.73h1v1h-1zM367.92 483.31h1v1h-1zM366.51 484.58h1v1h-1zM335.13 471.18h1v1h-1zM387.01 471.75h1v1h-1zM387.11 482.87h1v1h-1zM396.27 422.64h1v1h-1zM400.13 473.68h1v1h-1zM381.95 479.07h1v1h-1zM394.15 460.58h1v1h-1zM334.83 469.99h1v1h-1zM399.98 454.09h1v1h-1zM394.26 483.04h1v1h-1zM384.13 477.45h1v1h-1zM393.83 439.44h1v1h-1zM351.69 480.29h1v1h-1zM396.83 483.19h1v1h-1zM386.24 471.85h1v1h-1zM361.64 479.74h1v1h-1zM367 478.89h1v1h-1zM400.06 438.51h1v1h-1zM387.25 470.37h1v1h-1zM391.91 467.08h1v1h-1zM318.78 483.64h1v1h-1zM381.4 475.85h1v1h-1zM394.59 431.23h1v1h-1zM384.76 478.36h1v1h-1zM400.28 480.83h1v1h-1zM367.22 482.11h1v1h-1zM392.85 458.16h1v1h-1zM337.16 469.12h1v1h-1zM366.46 479.57h1v1h-1zM357.24 481.2h1v1h-1zM391.45 472.41h1v1h-1zM350.88 480.09h1v1h-1zM392.37 440.21h1v1h-1zM351.28 479.93h1v1h-1zM339.08 483.61h1v1h-1zM339 472.33h1v1h-1zM379.94 429.77h1v1h-1zM397.62 476.02h1v1h-1zM389.36 443.71h1v1h-1zM352.66 481.32h1v1h-1zM395.21 446.06h1v1h-1zM388.87 466.92h1v1h-1zM350.19 476.9h1v1h-1zM394.93 448.28h1v1h-1z" fill="#d2d2d2"/>
<path d="M292.94 413.12h4.59v4.59h-4.59zM292.94 417.66h4.59v4.59h-4.59zM292.94 422.2h4.59v4.59h-4.59zM292.94 426.73h4.59v4.59h-4.59zM292.94 431.27h4.59v4.59h-4.59zM297.47 408.59h4.59v4.59h-4.59zM297.47 413.12h4.59v4.59h-4.59zM297.47 417.66h4.59v4.59h-4.59zM297.47 431.27h4.59v4.59h-4.59zM297.47 435.8h4.59v4.59h-4.59zM297.47 440.34h4.59v4.59h-4.59zM302.01 404.05h4.59v4.59h-4.59zM302.01 408.59h4.59v4.59h-4.59zM302.01 413.12h4.59v4.59h-4.59zM302.01 440.34h4.59v4.59h-4.59zM302.01 444.88h4.59v4.59h-4.59zM306.54 404.05h4.59v4.59h-4.59zM306.54 408.59h4.59v4.59h-4.59zM306.54 444.88h4.59v4.59h-4.59zM311.08 404.05h4.59v4.59h-4.59zM311.08 408.59h4.59v4.59h-4.59zM311.08 449.41h4.59v4.59h-4.59zM315.62 399.52h4.59v4.59h-4.59zM315.62 404.05h4.59v4.59h-4.59zM315.62 408.59h4.59v4.59h-4.59zM315.62 453.95h4.59v4.59h-4.59zM320.15 399.52h4.59v4.59h-4.59zM320.15 404.05h4.59v4.59h-4.59zM320.15 408.59h4.59v4.59h-4.59zM320.15 453.95h4.59v4.59h-4.59zM320.15 458.48h4.59v4.59h-4.59zM324.69 404.05h4.59v4.59h-4.59zM324.69 408.59h4.59v4.59h-4.59zM324.69 458.48h4.59v4.59h-4.59zM329.22 404.05h4.59v4.59h-4.59zM329.22 408.59h4.59v4.59h-4.59zM329.22 458.48h4.59v4.59h-4.59zM329.22 463.02h4.59v4.59h-4.59zM333.76 404.05h4.59v4.59h-4.59zM333.76 408.59h4.59v4.59h-4.59zM333.76 463.02h4.59v4.59h-4.59zM338.3 404.05h4.59v4.59h-4.59zM338.3 408.59h4.59v4.59h-4.59zM338.3 463.02h4.59v4.59h-4.59zM338.3 467.56h4.59v4.59h-4.59zM342.83 408.59h4.59v4.59h-4.59zM342.83 413.12h4.59v4.59h-4.59zM342.83 463.02h4.59v4.59h-4.59zM342.83 467.56h4.59v4.59h-4.59zM347.37 408.59h4.59v4.59h-4.59zM347.37 413.12h4.59v4.59h-4.59zM347.37 463.02h4.59v4.59h-4.59zM347.37 467.56h4.59v4.59h-4.59zM347.37 472.09h4.59v4.59h-4.59zM351.9 413.12h4.59v4.59h-4.59zM351.9 417.66h4.59v4.59h-4.59zM351.9 467.56h4.59v4.59h-4.59zM351.9 472.09h4.59v4.59h-4.59zM356.44 413.12h4.59v4.59h-4.59zM356.44 417.66h4.59v4.59h-4.59zM356.44 467.56h4.59v4.59h-4.59zM356.44 472.09h4.59v4.59h-4.59zM360.98 417.66h4.59v4.59h-4.59zM360.98 422.2h4.59v4.59h-4.59zM360.98 467.56h4.59v4.59h-4.59zM360.98 472.09h4.59v4.59h-4.59zM365.51 417.66h4.59v4.59h-4.59zM365.51 422.2h4.59v4.59h-4.59zM365.51 426.73h4.59v4.59h-4.59zM365.51 467.56h4.59v4.59h-4.59zM365.51 472.09h4.59v4.59h-4.59zM370.05 422.2h4.59v4.59h-4.59zM370.05 426.73h4.59v4.59h-4.59zM370.05 431.27h4.59v4.59h-4.59zM370.05 463.02h4.59v4.59h-4.59zM370.05 467.56h4.59v4.59h-4.59zM370.05 472.09h4.59v4.59h-4.59zM374.58 426.73h4.59v4.59h-4.59zM374.58 431.27h4.59v4.59h-4.59zM374.58 435.8h4.59v4.59h-4.59zM374.58 463.02h4.59v4.59h-4.59zM374.58 467.56h4.59v4.59h-4.59zM374.58 472.09h4.59v4.59h-4.59zM379.12 431.27h4.59v4.59h-4.59zM379.12 435.8h4.59v4.59h-4.59zM379.12 440.34h4.59v4.59h-4.59zM379.12 444.88h4.59v4.59h-4.59zM379.12 449.41h4.59v4.59h-4.59zM379.12 453.95h4.59v4.59h-4.59zM379.12 458.48h4.59v4.59h-4.59zM379.12 463.02h4.59v4.59h-4.59zM379.12 467.56h4.59v4.59h-4.59zM379.12 472.09h4.59v4.59h-4.59zM383.66 435.8h4.59v4.59h-4.59zM383.66 440.34h4.59v4.59h-4.59zM383.66 444.88h4.59v4.59h-4.59zM383.66 449.41h4.59v4.59h-4.59zM383.66 453.95h4.59v4.59h-4.59zM383.66 458.48h4.59v4.59h-4.59zM383.66 463.02h4.59v4.59h-4.59zM383.66 467.56h4.59v4.59h-4.59zM383.66 472.09h4.59v4.59h-4.59zM388.19 444.88h4.59v4.59h-4.59zM388.19 449.41h4.59v4.59h-4.59zM388.19 453.95h4.59v4.59h-4.59zM388.19 458.48h4.59v4.59h-4.59zM388.19 463.02h4.59v4.59h-4.59zM388.19 467.56h4.59v4.59h-4.59z" fill="#000" fill-opacity="0.02"/>
<path d="M297.47 422.2h4.59v4.59h-4.59zM297.47 426.73h4.59v4.59h-4.59zM302.01 417.66h4.59v4.59h-4.59zM302.01 435.8h4.59v4.59h-4.59zM306.54 413.12h4.59v4.59h-4.59zM306.54 440.34h4.59v4.59h-4.59zM311.08 413.12h4.59v4.59h-4.59zM311.08 444.88h4.59v4.59h-4.59zM315.62 413.12h4.59v4.59h-4.59zM315.62 449.41h4.59v4.59h-4.59zM320.15 413.12h4.59v4.59h-4.59zM320.15 449.41h4.59v4.59h-4.59zM324.69 413.12h4.59v4.59h-4.59zM324.69 453.95h4.59v4.59h-4.59zM329.22 413.12h4.59v4.59h-4.59zM329.22 453.95h4.59v4.59h-4.59zM333.76 413.12h4.59v4.59h-4.59zM333.76 458.48h4.59v4.59h-4.59zM338.3 413.12h4.59v4.59h-4.59zM338.3 458.48h4.59v4.59h-4.59zM342.83 417.66h4.59v4.59h-4.59zM342.83 458.48h4.59v4.59h-4.59zM347.37 417.66h4.59v4.59h-4.59zM351.9 463.02h4.59v4.59h-4.59zM356.44 422.2h4.59v4.59h-4.59zM356.44 463.02h4.59v4.59h-4.59zM360.98 426.73h4.59v4.59h-4.59zM360.98 463.02h4.59v4.59h-4.59zM365.51 431.27h4.59v4.59h-4.59zM365.51 458.48h4.59v4.59h-4.59zM365.51 463.02h4.59v4.59h-4.59zM370.05 435.8h4.59v4.59h-4.59zM370.05 453.95h4.59v4.59h-4.59zM370.05 458.48h4.59v4.59h-4.59zM374.58 440.34h4.59v4.59h-4.59zM374.58 444.88h4.59v4.59h-4.59zM374.58 449.41h4.59v4.59h-4.59zM374.58 453.95h4.59v4.59h-4.59zM374.58 458.48h4.59v4.59h-4.59z" fill="#000" fill-opacity="0.03"/>
<path d="M302.01 422.2h4.59v4.59h-4.59zM302.01 426.73h4.59v4.59h-4.59zM302.01 431.27h4.59v4.59h-4.59zM306.54 417.66h4.59v4.59h-4.59zM315.62 444.88h4.59v4.59h-4.59zM333.76 453.95h4.59v4.59h-4.59zM338.3 417.66h4.59v4.59h-4.59zM347.37 458.48h4.59v4.59h-4.59zM351.9 422.2h4.59v4.59h-4.59zM351.9 458.48h4.59v4.59h-4.59zM356.44 426.73h4.59v4.59h-4.59zM356.44 458.48h4.59v4.59h-4.59zM360.98 431.27h4.59v4.59h-4.59zM360.98 458.48h4.59v4.59h-4.59zM365.51 435.8h4.59v4.59h-4.59zM365.51 453.95h4.59v4.59h-4.59zM370.05 440.34h4.59v4.59h-4.59zM370.05 444.88h4.59v4.59h-4.59zM370.05 449.41h4.59v4.59h-4.59z" fill="#000" fill-opacity="0.05"/>
<path d="M306.54 422.2h4.59v4.59h-4.59zM306.54 435.8h4.59v4.59h-4.59zM311.08 417.66h4.59v4.59h-4.59zM311.08 440.34h4.59v4.59h-4.59zM315.62 417.66h4.59v4.59h-4.59zM324.69 449.41h4.59v4.59h-4.59zM329.22 417.66h4.59v4.59h-4.59zM333.76 417.66h4.59v4.59h-4.59zM338.3 453.95h4.59v4.59h-4.59zM347.37 422.2h4.59v4.59h-4.59zM360.98 453.95h4.59v4.59h-4.59zM365.51 440.34h4.59v4.59h-4.59zM365.51 444.88h4.59v4.59h-4.59zM365.51 449.41h4.59v4.59h-4.59z" fill="#000" fill-opacity="0.07"/>
<path d="M306.54 426.73h4.59v4.59h-4.59zM306.54 431.27h4.59v4.59h-4.59zM320.15 417.66h4.59v4.59h-4.59zM320.15 444.88h4.59v4.59h-4.59zM324.69 417.66h4.59v4.59h-4.59zM329.22 449.41h4.59v4.59h-4.59zM342.83 422.2h4.59v4.59h-4.59zM342.83 453.95h4.59v4.59h-4.59zM347.37 453.95h4.59v4.59h-4.59zM351.9 426.73h4.59v4.59h-4.59zM351.9 453.95h4.59v4.59h-4.59zM356.44 431.27h4.59v4.59h-4.59zM356.44 453.95h4.59v4.59h-4.59zM360.98 435.8h4.59v4.59h-4.59zM360.98 449.41h4.59v4.59h-4.59z" fill="#000" fill-opacity="0.08"/>
<path d="M311.08 422.2h4.59v4.59h-4.59zM311.08 435.8h4.59v4.59h-4.59zM315.62 440.34h4.59v4.59h-4.59zM338.3 422.2h4.59v4.59h-4.59zM360.98 440.34h4.59v4.59h-4.59zM360.98 444.88h4.59v4.59h-4.59z" fill="#000" fill-opacity="0.1"/>
<path d="M311.08 426.73h4.59v4.59h-4.59zM315.62 422.2h4.59v4.59h-4.59zM333.76 449.41h4.59v4.59h-4.59zM347.37 426.73h4.59v4.59h-4.59zM356.44 449.41h4.59v4.59h-4.59z" fill="#000" fill-opacity="0.12"/>
<path d="M311.08 431.27h4.59v4.59h-4.59zM320.15 422.2h4.59v4.59h-4.59zM324.69 444.88h4.59v4.59h-4.59zM333.76 422.2h4.59v4.59h-4.59zM338.3 449.41h4.59v4.59h-4.59zM351.9 431.27h4.59v4.59h-4.59zM351.9 449.41h4.59v4.59h-4.59zM356.44 435.8h4.59v4.59h-4.59z" fill="#000" fill-opacity="0.13"/>
<path d="M324.69 422.2h4.59v4.59h-4.59zM329.22 422.2h4.59v4.59h-4.59zM342.83 426.73h4.59v4.59h-4.59zM342.83 449.41h4.59v4.59h-4.59zM347.37 449.41h4.59v4.59h-4.59zM356.44 440.34h4.59v4.59h-4.59zM356.44 444.88h4.59v4.59h-4.59z" fill="#000" fill-opacity="0.15"/>
<path d="M315.62 426.73h4.59v4.59h-4.59zM315.62 435.8h4.59v4.59h-4.59zM320.15 440.34h4.59v4.59h-4.59z" fill="#000" fill-opacity="0.17"/>
<path d="M315.62 431.27h4.59v4.59h-4.59zM329.22 444.88h4.59v4.59h-4.59zM347.37 431.27h4.59v4.59h-4.59zM351.9 435.8h4.59v4.59h-4.59zM351.9 444.88h4.59v4.59h-4.59z" fill="#000" fill-opacity="0.18"/>
<path d="M338.3 426.73h4.59v4.59h-4.59z" fill="#000" fill-opacity="0.2"/>
<path d="M320.15 426.73h4.59v4.59h-4.59zM324.69 440.34h4.59v4.59h-4.59zM333.76 444.88h4.59v4.59h-4.59zM351.9 440.34h4.59v4.59h-4.59z" fill="#000" fill-opacity="0.22"/>
<path d="M320.15 435.8h4.59v4.59h-4.59zM324.69 426.73h4.59v4.59h-4.59zM333.76 426.73h4.59v4.59h-4.59zM347.37 444.88h4.59v4.59h-4.59z" fill="#000" fill-opacity="0.23"/>
<path d="M320.15 431.27h4.59v4.59h-4.59zM329.22 426.73h4.59v4.59h-4.59zM338.3 444.88h4.59v4.59h-4.59zM342.83 431.27h4.59v4.59h-4.59zM342.83 444.88h4.59v4.59h-4.59zM347.37 435.8h4.59v4.59h-4.59z" fill="#000" fill-opacity="0.25"/>
<path d="M347.37 440.34h4.59v4.59h-4.59z" fill="#000" fill-opacity="0.27"/>
<path d="M329.22 440.34h4.59v4.59h-4.59z" fill="#000" fill-opacity="0.28"/>
<path d="M324.69 431.27h4.59v4.59h-4.59zM324.69 435.8h4.59v4.59h-4.59zM338.3 431.27h4.59v4.59h-4.59z" fill="#000" fill-opacity="0.3"/>
<path d="M333.76 440.34h4.59v4.59h-4.59zM342.83 435.8h4.59v4.59h-4.59zM342.83 440.34h4.59v4.59h-4.59z" fill="#000" fill-opacity="0.32"/>
<path d="M329.22 431.27h4.59v4.59h-4.59zM333.76 431.27h4.59v4.59h-4.59zM338.3 440.34h4.59v4.59h-4.59z" fill="#000" fill-opacity="0.33"/>
<path d="M329.22 435.8h4.59v4.59h-4.59z" fill="#000" fill-opacity="0.35"/>
<path d="M333.76 435.8h4.59v4.59h-4.59zM338.3 435.8h4.59v4.59h-4.59z" fill="#000" fill-opacity="0.37"/>
<path d="M319.75,389.7C323.82,388.77 326.62,390.47 331,392.5C335.38,394.53 341,398.47 346,401.9C351,405.33 356.32,409.35 361,413.1C365.68,416.85 369.73,420.02 374.1,424.4C378.48,428.78 384.27,434.4 387.25,439.4C390.23,444.4 392,449.4 392,454.4C392,459.4 390.23,465.65 387.25,469.4C384.27,473.15 379.1,475.5 374.1,476.9C369.1,478.3 362.56,478.74 357.25,477.8C351.94,476.86 347.88,474.53 342.25,471.25C336.62,467.97 329.12,462.48 323.5,458.1C317.88,453.73 312.72,449.68 308.5,445C304.28,440.32 299.92,435.32 298.2,430C296.48,424.68 296.8,418.42 298.2,413.1C299.6,407.78 303.01,402 306.6,398.1C310.19,394.2 315.68,390.63 319.75,389.7Z" fill="none" stroke="#8a8a8a" stroke-width="1.5" stroke-dasharray="5.2 2.6"/>
<path d="M323.5,404.1C327.25,403.95 330.68,405.37 334.75,407.5C338.82,409.63 343.52,413.47 347.9,416.9C352.27,420.33 357.72,423.42 361,428.1C364.28,432.78 367.28,440.62 367.6,445C367.92,449.38 365.57,452.52 362.9,454.4C360.23,456.27 355.98,456.57 351.6,456.25C347.22,455.93 341.91,454.69 336.6,452.5C331.29,450.31 324.43,446.85 319.75,443.1C315.07,439.35 310.52,434.06 308.5,430C306.48,425.94 306.98,422.35 307.6,418.75C308.23,415.15 309.6,410.84 312.25,408.4C314.9,405.96 319.75,404.25 323.5,404.1Z" fill="none" stroke="#8a8a8a" stroke-width="1.5" stroke-dasharray="5.2 2.6"/>
<path d="M330.8,409.7C331.61,409.72 340.72,410.98 341.4,411.3C342.08,411.62 347.59,417.38 347.9,417.8C348.21,418.22 349.17,421.48 349.1,421.9C349.03,422.32 346.61,427.91 346.2,428.4C345.79,428.89 339.52,433.79 338.9,434.1C338.28,434.41 331.55,436.1 330.8,436.1C330.05,436.1 320.95,434.41 320.2,434.1C319.45,433.79 312.5,428.89 312.1,428.4C311.7,427.91 310.07,422.39 310.1,421.9C310.13,421.41 312.46,416.64 312.9,416.2C313.34,415.76 320.38,411.16 321.1,410.9C321.82,410.64 329.99,409.68 330.8,409.7Z" fill="#f4c5ca" stroke="#000" stroke-width="1.5" stroke-linejoin="round"/>
<path d="M330.8,415.4C331.51,415.4 339.28,416.71 339.7,417C340.12,417.29 341.46,422.24 341.4,422.7C341.34,423.16 338.52,428.09 338.1,428.4C337.68,428.71 331.45,430.4 330.8,430.4C330.15,430.4 322.4,428.71 321.9,428.4C321.4,428.09 318.2,423.16 318.2,422.7C318.2,422.24 321.4,417.29 321.9,417C322.4,416.71 330.09,415.4 330.8,415.4Z" fill="#d75f6c" stroke="#000" stroke-width="1.4" stroke-linejoin="round"/>
<line x1="332.1" y1="372.3" x2="332.1" y2="485.7" stroke="#000" stroke-width="1.6"/>
<line x1="288.4" y1="422.7" x2="401.8" y2="422.7" stroke="#000" stroke-width="1.6"/>
<ellipse cx="331.6" cy="422.7" rx="2" ry="2.2" fill="#000"/>
</g>
<rect x="288.4" y="372.3" width="113.4" height="113.4" fill="none" stroke="#000" stroke-width="1.9"/>
<line x1="293.9" y1="485.7" x2="293.9" y2="488.5" stroke="#000" stroke-width="0.9"/>
<line x1="320.3" y1="485.7" x2="320.3" y2="488.5" stroke="#000" stroke-width="0.9"/>
<line x1="346.7" y1="485.7" x2="346.7" y2="488.5" stroke="#000" stroke-width="0.9"/>
<line x1="373.1" y1="485.7" x2="373.1" y2="488.5" stroke="#000" stroke-width="0.9"/>
<line x1="399.5" y1="485.7" x2="399.5" y2="488.5" stroke="#000" stroke-width="0.9"/>
<line x1="285.6" y1="477.8" x2="288.4" y2="477.8" stroke="#000" stroke-width="0.9"/>
<line x1="285.6" y1="450.6" x2="288.4" y2="450.6" stroke="#000" stroke-width="0.9"/>
<line x1="285.6" y1="423.4" x2="288.4" y2="423.4" stroke="#000" stroke-width="0.9"/>
<line x1="285.6" y1="396.3" x2="288.4" y2="396.3" stroke="#000" stroke-width="0.9"/>
<g clip-path="url(#c33)">
<path d="M464,487.7 L464,410.8 L469.4,410.8 L469.4,382.4 L475.6,382.4 L475.6,487.7 Z" fill="#d75f6c"/>
<path d="M412.5,487.7 L412.5,484.4 L418.3,484.4 L418.3,484 L423.75,484 L423.75,482.8 L430,482.8 L430,480 L435.5,480 L435.5,475.8 L441.7,475.8 L441.7,472.7 L447.2,472.7 L447.2,465.3 L452.7,465.3 L452.7,461.7 L458.9,461.7 L458.9,458.6 L464.4,458.6 L464.4,459 L467.5,459 L467.5,460.2 L470.3,460.2 L470.3,465.3 L476,465.3 L476,473.4 L481.6,473.4 L481.6,478.6 L486.25,478.6 L486.25,482.5 L492.5,482.5 L492.5,487.7" fill="none" stroke="#7f7f7f" stroke-width="1.1"/>
<line x1="470.3" y1="372.3" x2="470.3" y2="485.7" stroke="#000" stroke-width="1.6"/>
</g>
<rect x="407.6" y="372.3" width="113.4" height="113.4" fill="none" stroke="#000" stroke-width="1.9"/>
<line x1="415.2" y1="485.7" x2="415.2" y2="488.5" stroke="#000" stroke-width="0.9"/>
<line x1="442.3" y1="485.7" x2="442.3" y2="488.5" stroke="#000" stroke-width="0.9"/>
<line x1="469.4" y1="485.7" x2="469.4" y2="488.5" stroke="#000" stroke-width="0.9"/>
<line x1="496.5" y1="485.7" x2="496.5" y2="488.5" stroke="#000" stroke-width="0.9"/>
<g clip-path="url(#c40)">
<path d="M119.48 584.22h1v1h-1zM148.47 543.46h1v1h-1zM133.95 574.02h1v1h-1zM110.69 587.31h1v1h-1zM132.28 586.38h1v1h-1zM103.78 594.31h1v1h-1zM152.48 570.45h1v1h-1zM132.65 582.01h1v1h-1zM131.23 562.8h1v1h-1zM134.92 558.59h1v1h-1zM147.98 569.18h1v1h-1zM149.31 516.32h1v1h-1zM119.95 582.84h1v1h-1zM99.25 603.77h1v1h-1zM139.27 588.95h1v1h-1zM130.09 599.96h1v1h-1zM117.45 584.85h1v1h-1zM143.14 514.54h1v1h-1zM152.94 559.95h1v1h-1zM110.55 586.87h1v1h-1zM133.1 553.95h1v1h-1zM130.77 544.07h1v1h-1zM133.38 533.11h1v1h-1zM128.16 548.68h1v1h-1zM154.71 601.07h1v1h-1zM136.11 534.16h1v1h-1zM131.52 557.1h1v1h-1zM138.65 522.74h1v1h-1zM138.74 595.58h1v1h-1zM142.86 562.01h1v1h-1zM128.21 538.6h1v1h-1zM139.9 602.88h1v1h-1zM134.92 531.08h1v1h-1zM146.61 563.16h1v1h-1zM147 550.77h1v1h-1zM127.02 523.29h1v1h-1zM140.9 553.01h1v1h-1zM110.34 514.21h1v1h-1zM147.08 568.07h1v1h-1zM128.68 500.72h1v1h-1zM123.12 591.96h1v1h-1zM138.59 511.37h1v1h-1zM117.53 584.53h1v1h-1zM139.63 563.65h1v1h-1zM121.5 492.46h1v1h-1zM107.87 587.5h1v1h-1zM129.43 545h1v1h-1zM138.52 536.42h1v1h-1zM158.48 547.32h1v1h-1zM132.16 546.73h1v1h-1zM156.56 600.79h1v1h-1zM124.93 593.93h1v1h-1zM146.01 528.68h1v1h-1zM108.46 590.44h1v1h-1zM138.47 528.95h1v1h-1zM135.94 560.96h1v1h-1zM133.13 595.96h1v1h-1zM129.83 538.2h1v1h-1zM134.69 549.14h1v1h-1zM125.48 536.68h1v1h-1zM123.44 524.5h1v1h-1zM109.74 514.83h1v1h-1zM117.79 576.48h1v1h-1zM152.23 555.44h1v1h-1zM136.47 583.36h1v1h-1zM136.99 513.31h1v1h-1zM103.05 599.35h1v1h-1zM117.1 578.46h1v1h-1zM134.02 569.89h1v1h-1zM155.2 577.31h1v1h-1zM120.58 582.78h1v1h-1zM147.71 525.83h1v1h-1zM119.08 524.95h1v1h-1zM135.18 552.72h1v1h-1zM127.66 601.37h1v1h-1zM151.8 535.62h1v1h-1zM133.87 562.77h1v1h-1zM157.26 524.52h1v1h-1zM128.99 536.16h1v1h-1zM146.79 511.3h1v1h-1zM156.82 576.81h1v1h-1zM104.18 583.29h1v1h-1zM121.52 587.54h1v1h-1zM141.16 569.15h1v1h-1zM142.26 546.7h1v1h-1zM112.03 589.92h1v1h-1zM138.11 570.16h1v1h-1zM139.43 547.75h1v1h-1zM126.38 534.65h1v1h-1zM136.03 550.03h1v1h-1zM150.36 554.99h1v1h-1zM144.8 536.07h1v1h-1zM131.6 537.57h1v1h-1zM116.06 577.74h1v1h-1zM154.33 552.53h1v1h-1zM118.75 509.27h1v1h-1zM127.36 570.61h1v1h-1zM133.54 585.59h1v1h-1zM141.69 549.01h1v1h-1zM131.99 584.96h1v1h-1zM155.99 578.09h1v1h-1zM134.83 568.35h1v1h-1zM128.94 580.87h1v1h-1zM103.94 592.48h1v1h-1zM128.34 544.62h1v1h-1zM129.14 569.98h1v1h-1zM126.06 531.47h1v1h-1zM116.45 584.48h1v1h-1zM160.99 579.96h1v1h-1zM125.22 573.43h1v1h-1zM143.12 571.02h1v1h-1zM126.74 540.77h1v1h-1zM142.46 558.32h1v1h-1zM136.15 536.24h1v1h-1zM136.18 564.82h1v1h-1zM129.33 524.61h1v1h-1zM148.29 572.64h1v1h-1zM107.01 508.61h1v1h-1zM131.93 529.68h1v1h-1zM154.5 578.33h1v1h-1zM152.95 502.28h1v1h-1zM96.24 593.22h1v1h-1zM131.49 588.98h1v1h-1zM144.33 560.94h1v1h-1zM128.44 577.38h1v1h-1zM136.57 531.79h1v1h-1zM116.59 592.54h1v1h-1zM155.45 557.57h1v1h-1zM115.49 519.97h1v1h-1zM148.68 599.26h1v1h-1zM141.88 577.68h1v1h-1zM130.7 558.15h1v1h-1zM130.95 580.88h1v1h-1zM111.81 588.53h1v1h-1zM117.83 580.1h1v1h-1zM145.13 549.4h1v1h-1zM142.65 530.19h1v1h-1zM115.84 596.52h1v1h-1zM120.26 514.91h1v1h-1zM124.62 587.2h1v1h-1z" fill="#d2d2d2"/>
<path d="M54.54 518.62h4.59v4.59h-4.59zM54.54 523.15h4.59v4.59h-4.59zM54.54 527.69h4.59v4.59h-4.59zM54.54 532.22h4.59v4.59h-4.59zM54.54 536.76h4.59v4.59h-4.59zM54.54 541.3h4.59v4.59h-4.59zM54.54 545.83h4.59v4.59h-4.59zM54.54 550.37h4.59v4.59h-4.59zM54.54 554.9h4.59v4.59h-4.59zM54.54 559.44h4.59v4.59h-4.59zM54.54 563.98h4.59v4.59h-4.59zM54.54 568.51h4.59v4.59h-4.59zM59.07 509.54h4.59v4.59h-4.59zM59.07 514.08h4.59v4.59h-4.59zM59.07 518.62h4.59v4.59h-4.59zM59.07 523.15h4.59v4.59h-4.59zM59.07 527.69h4.59v4.59h-4.59zM59.07 532.22h4.59v4.59h-4.59zM59.07 545.83h4.59v4.59h-4.59zM59.07 550.37h4.59v4.59h-4.59zM59.07 554.9h4.59v4.59h-4.59zM59.07 559.44h4.59v4.59h-4.59zM59.07 563.98h4.59v4.59h-4.59zM59.07 568.51h4.59v4.59h-4.59zM59.07 573.05h4.59v4.59h-4.59zM59.07 577.58h4.59v4.59h-4.59zM63.61 495.94h4.59v4.59h-4.59zM63.61 500.47h4.59v4.59h-4.59zM63.61 505.01h4.59v4.59h-4.59zM63.61 568.51h4.59v4.59h-4.59zM63.61 573.05h4.59v4.59h-4.59zM63.61 577.58h4.59v4.59h-4.59zM63.61 582.12h4.59v4.59h-4.59zM68.14 491.4h4.59v4.59h-4.59zM68.14 495.94h4.59v4.59h-4.59zM68.14 577.58h4.59v4.59h-4.59zM68.14 582.12h4.59v4.59h-4.59zM68.14 586.66h4.59v4.59h-4.59zM72.68 491.4h4.59v4.59h-4.59zM72.68 582.12h4.59v4.59h-4.59zM72.68 586.66h4.59v4.59h-4.59zM72.68 591.19h4.59v4.59h-4.59zM77.22 582.12h4.59v4.59h-4.59zM77.22 586.66h4.59v4.59h-4.59zM77.22 591.19h4.59v4.59h-4.59zM81.75 582.12h4.59v4.59h-4.59zM81.75 586.66h4.59v4.59h-4.59zM81.75 591.19h4.59v4.59h-4.59zM86.29 491.4h4.59v4.59h-4.59zM86.29 582.12h4.59v4.59h-4.59zM86.29 586.66h4.59v4.59h-4.59zM86.29 591.19h4.59v4.59h-4.59zM90.82 491.4h4.59v4.59h-4.59zM90.82 495.94h4.59v4.59h-4.59zM90.82 577.58h4.59v4.59h-4.59zM90.82 582.12h4.59v4.59h-4.59zM90.82 586.66h4.59v4.59h-4.59zM90.82 591.19h4.59v4.59h-4.59zM95.36 495.94h4.59v4.59h-4.59zM95.36 500.47h4.59v4.59h-4.59zM95.36 505.01h4.59v4.59h-4.59zM95.36 509.54h4.59v4.59h-4.59zM95.36 573.05h4.59v4.59h-4.59zM95.36 577.58h4.59v4.59h-4.59zM95.36 582.12h4.59v4.59h-4.59zM95.36 586.66h4.59v4.59h-4.59zM99.9 505.01h4.59v4.59h-4.59zM99.9 509.54h4.59v4.59h-4.59zM99.9 514.08h4.59v4.59h-4.59zM99.9 518.62h4.59v4.59h-4.59zM99.9 523.15h4.59v4.59h-4.59zM99.9 563.98h4.59v4.59h-4.59zM99.9 568.51h4.59v4.59h-4.59zM99.9 573.05h4.59v4.59h-4.59zM99.9 577.58h4.59v4.59h-4.59zM99.9 582.12h4.59v4.59h-4.59zM104.43 514.08h4.59v4.59h-4.59zM104.43 518.62h4.59v4.59h-4.59zM104.43 523.15h4.59v4.59h-4.59zM104.43 527.69h4.59v4.59h-4.59zM104.43 532.22h4.59v4.59h-4.59zM104.43 536.76h4.59v4.59h-4.59zM104.43 541.3h4.59v4.59h-4.59zM104.43 545.83h4.59v4.59h-4.59zM104.43 550.37h4.59v4.59h-4.59zM104.43 554.9h4.59v4.59h-4.59zM104.43 559.44h4.59v4.59h-4.59zM104.43 563.98h4.59v4.59h-4.59zM104.43 568.51h4.59v4.59h-4.59zM104.43 573.05h4.59v4.59h-4.59zM104.43 577.58h4.59v4.59h-4.59zM108.97 523.15h4.59v4.59h-4.59zM108.97 527.69h4.59v4.59h-4.59zM108.97 532.22h4.59v4.59h-4.59zM108.97 536.76h4.59v4.59h-4.59zM108.97 541.3h4.59v4.59h-4.59zM108.97 545.83h4.59v4.59h-4.59zM108.97 550.37h4.59v4.59h-4.59zM108.97 554.9h4.59v4.59h-4.59zM108.97 559.44h4.59v4.59h-4.59zM108.97 563.98h4.59v4.59h-4.59zM108.97 568.51h4.59v4.59h-4.59z" fill="#000" fill-opacity="0.02"/>
<path d="M59.07 536.76h4.59v4.59h-4.59zM59.07 541.3h4.59v4.59h-4.59zM63.61 509.54h4.59v4.59h-4.59zM63.61 514.08h4.59v4.59h-4.59zM63.61 554.9h4.59v4.59h-4.59zM63.61 559.44h4.59v4.59h-4.59zM63.61 563.98h4.59v4.59h-4.59zM68.14 500.47h4.59v4.59h-4.59zM68.14 568.51h4.59v4.59h-4.59zM68.14 573.05h4.59v4.59h-4.59zM72.68 495.94h4.59v4.59h-4.59zM72.68 573.05h4.59v4.59h-4.59zM72.68 577.58h4.59v4.59h-4.59zM77.22 491.4h4.59v4.59h-4.59zM77.22 577.58h4.59v4.59h-4.59zM81.75 491.4h4.59v4.59h-4.59zM81.75 577.58h4.59v4.59h-4.59zM86.29 495.94h4.59v4.59h-4.59zM86.29 573.05h4.59v4.59h-4.59zM86.29 577.58h4.59v4.59h-4.59zM90.82 500.47h4.59v4.59h-4.59zM90.82 505.01h4.59v4.59h-4.59zM90.82 568.51h4.59v4.59h-4.59zM90.82 573.05h4.59v4.59h-4.59zM95.36 514.08h4.59v4.59h-4.59zM95.36 518.62h4.59v4.59h-4.59zM95.36 559.44h4.59v4.59h-4.59zM95.36 563.98h4.59v4.59h-4.59zM95.36 568.51h4.59v4.59h-4.59zM99.9 527.69h4.59v4.59h-4.59zM99.9 532.22h4.59v4.59h-4.59zM99.9 536.76h4.59v4.59h-4.59zM99.9 541.3h4.59v4.59h-4.59zM99.9 545.83h4.59v4.59h-4.59zM99.9 550.37h4.59v4.59h-4.59zM99.9 554.9h4.59v4.59h-4.59zM99.9 559.44h4.59v4.59h-4.59z" fill="#000" fill-opacity="0.03"/>
<path d="M63.61 518.62h4.59v4.59h-4.59zM63.61 523.15h4.59v4.59h-4.59zM63.61 527.69h4.59v4.59h-4.59zM63.61 541.3h4.59v4.59h-4.59zM63.61 545.83h4.59v4.59h-4.59zM63.61 550.37h4.59v4.59h-4.59zM68.14 505.01h4.59v4.59h-4.59zM68.14 563.98h4.59v4.59h-4.59zM72.68 500.47h4.59v4.59h-4.59zM72.68 568.51h4.59v4.59h-4.59zM77.22 495.94h4.59v4.59h-4.59zM77.22 573.05h4.59v4.59h-4.59zM81.75 495.94h4.59v4.59h-4.59zM81.75 573.05h4.59v4.59h-4.59zM86.29 500.47h4.59v4.59h-4.59zM86.29 568.51h4.59v4.59h-4.59zM90.82 509.54h4.59v4.59h-4.59zM90.82 563.98h4.59v4.59h-4.59zM95.36 523.15h4.59v4.59h-4.59zM95.36 527.69h4.59v4.59h-4.59zM95.36 532.22h4.59v4.59h-4.59zM95.36 536.76h4.59v4.59h-4.59zM95.36 541.3h4.59v4.59h-4.59zM95.36 545.83h4.59v4.59h-4.59zM95.36 550.37h4.59v4.59h-4.59zM95.36 554.9h4.59v4.59h-4.59z" fill="#000" fill-opacity="0.05"/>
<path d="M63.61 532.22h4.59v4.59h-4.59zM63.61 536.76h4.59v4.59h-4.59zM68.14 509.54h4.59v4.59h-4.59zM68.14 559.44h4.59v4.59h-4.59zM77.22 500.47h4.59v4.59h-4.59zM77.22 568.51h4.59v4.59h-4.59zM81.75 500.47h4.59v4.59h-4.59zM81.75 568.51h4.59v4.59h-4.59zM86.29 505.01h4.59v4.59h-4.59zM86.29 563.98h4.59v4.59h-4.59zM90.82 514.08h4.59v4.59h-4.59zM90.82 554.9h4.59v4.59h-4.59zM90.82 559.44h4.59v4.59h-4.59z" fill="#000" fill-opacity="0.07"/>
<path d="M68.14 514.08h4.59v4.59h-4.59zM68.14 554.9h4.59v4.59h-4.59zM72.68 505.01h4.59v4.59h-4.59zM72.68 563.98h4.59v4.59h-4.59zM90.82 518.62h4.59v4.59h-4.59zM90.82 550.37h4.59v4.59h-4.59z" fill="#000" fill-opacity="0.08"/>
<path d="M68.14 518.62h4.59v4.59h-4.59zM68.14 550.37h4.59v4.59h-4.59zM72.68 559.44h4.59v4.59h-4.59zM77.22 563.98h4.59v4.59h-4.59zM81.75 563.98h4.59v4.59h-4.59zM86.29 509.54h4.59v4.59h-4.59zM86.29 559.44h4.59v4.59h-4.59zM90.82 523.15h4.59v4.59h-4.59zM90.82 545.83h4.59v4.59h-4.59z" fill="#000" fill-opacity="0.1"/>
<path d="M68.14 523.15h4.59v4.59h-4.59zM68.14 545.83h4.59v4.59h-4.59zM72.68 509.54h4.59v4.59h-4.59zM77.22 505.01h4.59v4.59h-4.59zM81.75 505.01h4.59v4.59h-4.59zM90.82 527.69h4.59v4.59h-4.59zM90.82 532.22h4.59v4.59h-4.59zM90.82 536.76h4.59v4.59h-4.59zM90.82 541.3h4.59v4.59h-4.59z" fill="#000" fill-opacity="0.12"/>
<path d="M68.14 527.69h4.59v4.59h-4.59zM68.14 541.3h4.59v4.59h-4.59zM72.68 554.9h4.59v4.59h-4.59zM77.22 559.44h4.59v4.59h-4.59zM81.75 559.44h4.59v4.59h-4.59zM86.29 514.08h4.59v4.59h-4.59zM86.29 554.9h4.59v4.59h-4.59z" fill="#000" fill-opacity="0.13"/>
<path d="M68.14 532.22h4.59v4.59h-4.59zM68.14 536.76h4.59v4.59h-4.59zM81.75 509.54h4.59v4.59h-4.59zM86.29 550.37h4.59v4.59h-4.59z" fill="#000" fill-opacity="0.15"/>
<path d="M72.68 514.08h4.59v4.59h-4.59zM77.22 509.54h4.59v4.59h-4.59z" fill="#000" fill-opacity="0.17"/>
<path d="M72.68 550.37h4.59v4.59h-4.59zM77.22 554.9h4.59v4.59h-4.59zM81.75 554.9h4.59v4.59h-4.59zM86.29 518.62h4.59v4.59h-4.59zM86.29 545.83h4.59v4.59h-4.59z" fill="#000" fill-opacity="0.18"/>
<path d="M72.68 518.62h4.59v4.59h-4.59zM86.29 523.15h4.59v4.59h-4.59z" fill="#000" fill-opacity="0.2"/>
<path d="M72.68 545.83h4.59v4.59h-4.59zM77.22 514.08h4.59v4.59h-4.59zM81.75 514.08h4.59v4.59h-4.59zM86.29 541.3h4.59v4.59h-4.59z" fill="#000" fill-opacity="0.22"/>
<path d="M77.22 550.37h4.59v4.59h-4.59zM81.75 550.37h4.59v4.59h-4.59zM86.29 527.69h4.59v4.59h-4.59zM86.29 532.22h4.59v4.59h-4.59zM86.29 536.76h4.59v4.59h-4.59z" fill="#000" fill-opacity="0.23"/>
<path d="M72.68 523.15h4.59v4.59h-4.59zM72.68 541.3h4.59v4.59h-4.59z" fill="#000" fill-opacity="0.25"/>
<path d="M72.68 527.69h4.59v4.59h-4.59zM72.68 536.76h4.59v4.59h-4.59zM81.75 518.62h4.59v4.59h-4.59z" fill="#000" fill-opacity="0.27"/>
<path d="M72.68 532.22h4.59v4.59h-4.59zM77.22 518.62h4.59v4.59h-4.59zM81.75 545.83h4.59v4.59h-4.59z" fill="#000" fill-opacity="0.28"/>
<path d="M77.22 545.83h4.59v4.59h-4.59z" fill="#000" fill-opacity="0.3"/>
<path d="M81.75 523.15h4.59v4.59h-4.59zM81.75 541.3h4.59v4.59h-4.59z" fill="#000" fill-opacity="0.32"/>
<path d="M77.22 523.15h4.59v4.59h-4.59zM77.22 541.3h4.59v4.59h-4.59z" fill="#000" fill-opacity="0.33"/>
<path d="M81.75 527.69h4.59v4.59h-4.59zM81.75 536.76h4.59v4.59h-4.59z" fill="#000" fill-opacity="0.35"/>
<path d="M77.22 527.69h4.59v4.59h-4.59zM77.22 536.76h4.59v4.59h-4.59zM81.75 532.22h4.59v4.59h-4.59z" fill="#000" fill-opacity="0.37"/>
<path d="M77.22 532.22h4.59v4.59h-4.59z" fill="#000" fill-opacity="0.38"/>
<path d="M54.6,550.9C54.82,545.9 55,538.04 56.4,532.1C57.8,526.16 60.65,519.62 63,515.25C65.35,510.88 67.53,508.24 70.5,505.9C73.47,503.56 77.05,501.67 80.8,501.2C84.55,500.73 89.09,501.7 93,503.1C96.91,504.5 100.5,506.63 104.25,509.6C108,512.57 112.06,516.52 115.5,520.9C118.94,525.28 122.4,529.65 124.9,535.9C127.4,542.15 130.19,552.78 130.5,558.4C130.81,564.02 129.88,565.85 126.75,569.6C123.62,573.35 116.75,578.23 111.75,580.9C106.75,583.57 101.59,584.67 96.75,585.6C91.91,586.53 87.39,586.98 82.7,586.5C78.01,586.02 72.51,584.93 68.6,582.75C64.69,580.57 61.5,576.84 59.25,573.4C57,569.96 55.88,565.85 55.1,562.1C54.33,558.35 54.38,555.9 54.6,550.9Z" fill="none" stroke="#8a8a8a" stroke-width="1.5" stroke-dasharray="5.2 2.6"/>
<path d="M80.8,512.4C83.92,512.71 88.13,514.12 91.1,517.1C94.07,520.08 96.57,525.56 98.6,530.25C100.63,534.94 102.36,540.88 103.3,545.25C104.24,549.62 104.72,552.75 104.25,556.5C103.78,560.25 102.69,564.93 100.5,567.75C98.31,570.57 94.38,572.31 91.1,573.4C87.82,574.49 84.23,574.93 80.8,574.3C77.37,573.67 73,572.25 70.5,569.6C68,566.95 66.8,562.46 65.8,558.4C64.8,554.34 64.34,550.57 64.5,545.25C64.66,539.93 65.43,531.5 66.75,526.5C68.07,521.5 70.06,517.6 72.4,515.25C74.74,512.9 77.68,512.09 80.8,512.4Z" fill="none" stroke="#8a8a8a" stroke-width="1.5" stroke-dasharray="5.2 2.6"/>
<path d="M80.8,539.5C81.3,539.49 87.44,540.38 87.9,540.6C88.36,540.82 92.1,544.54 92.3,545C92.5,545.46 92.92,551.53 92.9,552.1C92.88,552.67 92.02,558.7 91.8,559.2C91.58,559.7 87.84,564.41 87.4,564.7C86.96,564.99 81.33,566.37 80.8,566.35C80.27,566.33 74.6,564.46 74.2,564.15C73.8,563.84 70.86,559.18 70.7,558.7C70.54,558.22 70.09,552.63 70.1,552.1C70.11,551.57 70.69,545.95 70.9,545.5C71.11,545.05 74.9,541.09 75.3,540.85C75.7,540.61 80.3,539.51 80.8,539.5Z" fill="#f4c5ca" stroke="#000" stroke-width="1.5" stroke-linejoin="round"/>
<path d="M81.35,545.2C81.81,545.16 86.56,549.03 86.8,549.35C87.04,549.67 87.49,552.89 87.4,553.2C87.31,553.51 84.84,556.75 84.6,557C84.36,557.25 81.68,559.54 81.35,559.5C81.02,559.46 76.64,556.26 76.4,555.9C76.16,555.54 75.1,550.88 75.3,550.45C75.5,550.02 80.89,545.24 81.35,545.2Z" fill="#d75f6c" stroke="#000" stroke-width="1.4" stroke-linejoin="round"/>
<line x1="85.2" y1="491.4" x2="85.2" y2="604.8" stroke="#000" stroke-width="1.6"/>
<line x1="50" y1="552.6" x2="163.4" y2="552.6" stroke="#000" stroke-width="1.6"/>
<ellipse cx="84.7" cy="552.6" rx="2" ry="2.2" fill="#000"/>
</g>
<rect x="50" y="491.4" width="113.4" height="113.4" fill="none" stroke="#000" stroke-width="1.9"/>
<line x1="67.2" y1="604.8" x2="67.2" y2="607.6" stroke="#000" stroke-width="0.9"/>
<line x1="90" y1="604.8" x2="90" y2="607.6" stroke="#000" stroke-width="0.9"/>
<line x1="112.8" y1="604.8" x2="112.8" y2="607.6" stroke="#000" stroke-width="0.9"/>
<line x1="135.6" y1="604.8" x2="135.6" y2="607.6" stroke="#000" stroke-width="0.9"/>
<line x1="158.4" y1="604.8" x2="158.4" y2="607.6" stroke="#000" stroke-width="0.9"/>
<line x1="47.2" y1="590.3" x2="50" y2="590.3" stroke="#000" stroke-width="0.9"/>
<line x1="47.2" y1="565.1" x2="50" y2="565.1" stroke="#000" stroke-width="0.9"/>
<line x1="47.2" y1="539.9" x2="50" y2="539.9" stroke="#000" stroke-width="0.9"/>
<line x1="47.2" y1="514.7" x2="50" y2="514.7" stroke="#000" stroke-width="0.9"/>
<g clip-path="url(#c41)">
<path d="M259.53 582.38h1v1h-1zM248.16 577.96h1v1h-1zM253 577.42h1v1h-1zM208 589.13h1v1h-1zM260.42 560.82h1v1h-1zM265.59 584.39h1v1h-1zM261.69 527.32h1v1h-1zM276.59 577.84h1v1h-1zM252.5 584.21h1v1h-1zM246.82 564.36h1v1h-1zM279.88 578.21h1v1h-1zM254.52 570.5h1v1h-1zM239.61 582.05h1v1h-1zM232.85 600.12h1v1h-1zM248.84 583.1h1v1h-1zM245.12 589.45h1v1h-1zM250.15 568.65h1v1h-1zM234.02 581.34h1v1h-1zM207.49 591.03h1v1h-1zM247.84 538.18h1v1h-1zM255.26 581.76h1v1h-1zM250.02 587.62h1v1h-1zM254.99 556.19h1v1h-1zM257.48 573.16h1v1h-1zM263.85 601.93h1v1h-1zM256.61 592.33h1v1h-1zM246.19 589.48h1v1h-1zM249.82 590.08h1v1h-1zM248.51 573.16h1v1h-1zM220.95 598h1v1h-1zM250.01 557h1v1h-1zM238.31 533.04h1v1h-1zM257.25 545.22h1v1h-1zM246.59 581.09h1v1h-1zM249.5 530.36h1v1h-1zM269.2 573.34h1v1h-1zM242.77 576.82h1v1h-1zM243.51 587.88h1v1h-1zM229.01 587.82h1v1h-1zM252.66 529.43h1v1h-1zM236.58 581.25h1v1h-1zM246.33 565.06h1v1h-1zM257.23 570.8h1v1h-1zM241.07 597.28h1v1h-1zM270.13 549.76h1v1h-1zM234.1 595.16h1v1h-1zM242.08 580.93h1v1h-1zM249.86 569.19h1v1h-1zM250.24 533.39h1v1h-1zM255.01 552.38h1v1h-1zM232.16 582.17h1v1h-1zM264.89 569.96h1v1h-1zM266.38 559.69h1v1h-1zM266.59 589.86h1v1h-1zM235.83 585.09h1v1h-1zM246.93 578.24h1v1h-1zM259.45 591.23h1v1h-1zM239.77 518.99h1v1h-1zM238.58 536.03h1v1h-1zM277.03 589.53h1v1h-1zM263.96 559.79h1v1h-1zM279.76 508.96h1v1h-1zM242.48 525.48h1v1h-1zM251.11 598.26h1v1h-1zM236.92 597.7h1v1h-1zM249.71 529.28h1v1h-1zM260.59 574.47h1v1h-1zM255.71 551.32h1v1h-1zM247.52 563.09h1v1h-1zM261.56 534.73h1v1h-1zM255.83 561.5h1v1h-1zM262.8 584.82h1v1h-1zM253.88 534.01h1v1h-1zM254.42 565.23h1v1h-1zM238.39 584.35h1v1h-1zM259.62 521.75h1v1h-1zM281.55 549.41h1v1h-1zM254.69 543.76h1v1h-1zM253.14 561.8h1v1h-1zM233.45 586.51h1v1h-1z" fill="#d2d2d2"/>
<path d="M178.27 523.15h4.59v4.59h-4.59zM178.27 527.69h4.59v4.59h-4.59zM178.27 532.22h4.59v4.59h-4.59zM178.27 536.76h4.59v4.59h-4.59zM178.27 541.3h4.59v4.59h-4.59zM178.27 545.83h4.59v4.59h-4.59zM178.27 550.37h4.59v4.59h-4.59zM178.27 554.9h4.59v4.59h-4.59zM178.27 559.44h4.59v4.59h-4.59zM178.27 563.98h4.59v4.59h-4.59zM182.81 509.54h4.59v4.59h-4.59zM182.81 514.08h4.59v4.59h-4.59zM182.81 518.62h4.59v4.59h-4.59zM182.81 523.15h4.59v4.59h-4.59zM182.81 527.69h4.59v4.59h-4.59zM182.81 532.22h4.59v4.59h-4.59zM182.81 545.83h4.59v4.59h-4.59zM182.81 550.37h4.59v4.59h-4.59zM182.81 554.9h4.59v4.59h-4.59zM182.81 559.44h4.59v4.59h-4.59zM182.81 563.98h4.59v4.59h-4.59zM182.81 568.51h4.59v4.59h-4.59zM182.81 573.05h4.59v4.59h-4.59zM187.34 500.47h4.59v4.59h-4.59zM187.34 505.01h4.59v4.59h-4.59zM187.34 568.51h4.59v4.59h-4.59zM187.34 573.05h4.59v4.59h-4.59zM187.34 577.58h4.59v4.59h-4.59zM187.34 582.12h4.59v4.59h-4.59zM191.88 491.4h4.59v4.59h-4.59zM191.88 495.94h4.59v4.59h-4.59zM191.88 577.58h4.59v4.59h-4.59zM191.88 582.12h4.59v4.59h-4.59zM191.88 586.66h4.59v4.59h-4.59zM196.42 491.4h4.59v4.59h-4.59zM196.42 582.12h4.59v4.59h-4.59zM196.42 586.66h4.59v4.59h-4.59zM200.95 491.4h4.59v4.59h-4.59zM200.95 582.12h4.59v4.59h-4.59zM200.95 586.66h4.59v4.59h-4.59zM200.95 591.19h4.59v4.59h-4.59zM205.49 491.4h4.59v4.59h-4.59zM205.49 582.12h4.59v4.59h-4.59zM205.49 586.66h4.59v4.59h-4.59zM205.49 591.19h4.59v4.59h-4.59zM210.02 491.4h4.59v4.59h-4.59zM210.02 495.94h4.59v4.59h-4.59zM210.02 582.12h4.59v4.59h-4.59zM210.02 586.66h4.59v4.59h-4.59zM210.02 591.19h4.59v4.59h-4.59zM214.56 495.94h4.59v4.59h-4.59zM214.56 500.47h4.59v4.59h-4.59zM214.56 577.58h4.59v4.59h-4.59zM214.56 582.12h4.59v4.59h-4.59zM214.56 586.66h4.59v4.59h-4.59zM219.1 500.47h4.59v4.59h-4.59zM219.1 505.01h4.59v4.59h-4.59zM219.1 509.54h4.59v4.59h-4.59zM219.1 573.05h4.59v4.59h-4.59zM219.1 577.58h4.59v4.59h-4.59zM219.1 582.12h4.59v4.59h-4.59zM219.1 586.66h4.59v4.59h-4.59zM223.63 509.54h4.59v4.59h-4.59zM223.63 514.08h4.59v4.59h-4.59zM223.63 518.62h4.59v4.59h-4.59zM223.63 523.15h4.59v4.59h-4.59zM223.63 563.98h4.59v4.59h-4.59zM223.63 568.51h4.59v4.59h-4.59zM223.63 573.05h4.59v4.59h-4.59zM223.63 577.58h4.59v4.59h-4.59zM223.63 582.12h4.59v4.59h-4.59zM228.17 514.08h4.59v4.59h-4.59zM228.17 518.62h4.59v4.59h-4.59zM228.17 523.15h4.59v4.59h-4.59zM228.17 527.69h4.59v4.59h-4.59zM228.17 532.22h4.59v4.59h-4.59zM228.17 536.76h4.59v4.59h-4.59zM228.17 541.3h4.59v4.59h-4.59zM228.17 545.83h4.59v4.59h-4.59zM228.17 550.37h4.59v4.59h-4.59zM228.17 554.9h4.59v4.59h-4.59zM228.17 559.44h4.59v4.59h-4.59zM228.17 563.98h4.59v4.59h-4.59zM228.17 568.51h4.59v4.59h-4.59zM228.17 573.05h4.59v4.59h-4.59zM228.17 577.58h4.59v4.59h-4.59zM232.7 523.15h4.59v4.59h-4.59zM232.7 527.69h4.59v4.59h-4.59zM232.7 532.22h4.59v4.59h-4.59zM232.7 536.76h4.59v4.59h-4.59zM232.7 541.3h4.59v4.59h-4.59zM232.7 545.83h4.59v4.59h-4.59zM232.7 550.37h4.59v4.59h-4.59zM232.7 554.9h4.59v4.59h-4.59zM232.7 559.44h4.59v4.59h-4.59zM232.7 563.98h4.59v4.59h-4.59zM232.7 568.51h4.59v4.59h-4.59zM237.24 536.76h4.59v4.59h-4.59zM237.24 541.3h4.59v4.59h-4.59zM237.24 545.83h4.59v4.59h-4.59zM237.24 550.37h4.59v4.59h-4.59z" fill="#000" fill-opacity="0.02"/>
<path d="M182.81 536.76h4.59v4.59h-4.59zM182.81 541.3h4.59v4.59h-4.59zM187.34 509.54h4.59v4.59h-4.59zM187.34 514.08h4.59v4.59h-4.59zM187.34 554.9h4.59v4.59h-4.59zM187.34 559.44h4.59v4.59h-4.59zM187.34 563.98h4.59v4.59h-4.59zM191.88 500.47h4.59v4.59h-4.59zM191.88 568.51h4.59v4.59h-4.59zM191.88 573.05h4.59v4.59h-4.59zM196.42 495.94h4.59v4.59h-4.59zM196.42 573.05h4.59v4.59h-4.59zM196.42 577.58h4.59v4.59h-4.59zM200.95 577.58h4.59v4.59h-4.59zM205.49 495.94h4.59v4.59h-4.59zM205.49 577.58h4.59v4.59h-4.59zM210.02 500.47h4.59v4.59h-4.59zM210.02 573.05h4.59v4.59h-4.59zM210.02 577.58h4.59v4.59h-4.59zM214.56 505.01h4.59v4.59h-4.59zM214.56 568.51h4.59v4.59h-4.59zM214.56 573.05h4.59v4.59h-4.59zM219.1 514.08h4.59v4.59h-4.59zM219.1 518.62h4.59v4.59h-4.59zM219.1 523.15h4.59v4.59h-4.59zM219.1 559.44h4.59v4.59h-4.59zM219.1 563.98h4.59v4.59h-4.59zM219.1 568.51h4.59v4.59h-4.59zM223.63 527.69h4.59v4.59h-4.59zM223.63 532.22h4.59v4.59h-4.59zM223.63 536.76h4.59v4.59h-4.59zM223.63 541.3h4.59v4.59h-4.59zM223.63 545.83h4.59v4.59h-4.59zM223.63 550.37h4.59v4.59h-4.59zM223.63 554.9h4.59v4.59h-4.59zM223.63 559.44h4.59v4.59h-4.59z" fill="#000" fill-opacity="0.03"/>
<path d="M187.34 518.62h4.59v4.59h-4.59zM187.34 523.15h4.59v4.59h-4.59zM187.34 545.83h4.59v4.59h-4.59zM187.34 550.37h4.59v4.59h-4.59zM191.88 505.01h4.59v4.59h-4.59zM191.88 563.98h4.59v4.59h-4.59zM196.42 500.47h4.59v4.59h-4.59zM196.42 568.51h4.59v4.59h-4.59zM200.95 495.94h4.59v4.59h-4.59zM200.95 573.05h4.59v4.59h-4.59zM205.49 573.05h4.59v4.59h-4.59zM210.02 568.51h4.59v4.59h-4.59zM214.56 509.54h4.59v4.59h-4.59zM214.56 514.08h4.59v4.59h-4.59zM214.56 563.98h4.59v4.59h-4.59zM219.1 527.69h4.59v4.59h-4.59zM219.1 532.22h4.59v4.59h-4.59zM219.1 536.76h4.59v4.59h-4.59zM219.1 541.3h4.59v4.59h-4.59zM219.1 545.83h4.59v4.59h-4.59zM219.1 550.37h4.59v4.59h-4.59zM219.1 554.9h4.59v4.59h-4.59z" fill="#000" fill-opacity="0.05"/>
<path d="M187.34 527.69h4.59v4.59h-4.59zM187.34 532.22h4.59v4.59h-4.59zM187.34 536.76h4.59v4.59h-4.59zM187.34 541.3h4.59v4.59h-4.59zM191.88 509.54h4.59v4.59h-4.59zM191.88 559.44h4.59v4.59h-4.59zM200.95 500.47h4.59v4.59h-4.59zM200.95 568.51h4.59v4.59h-4.59zM205.49 500.47h4.59v4.59h-4.59zM205.49 568.51h4.59v4.59h-4.59zM210.02 505.01h4.59v4.59h-4.59zM210.02 563.98h4.59v4.59h-4.59zM214.56 518.62h4.59v4.59h-4.59zM214.56 554.9h4.59v4.59h-4.59zM214.56 559.44h4.59v4.59h-4.59z" fill="#000" fill-opacity="0.07"/>
<path d="M191.88 514.08h4.59v4.59h-4.59zM191.88 554.9h4.59v4.59h-4.59zM196.42 505.01h4.59v4.59h-4.59zM196.42 563.98h4.59v4.59h-4.59zM205.49 563.98h4.59v4.59h-4.59zM210.02 509.54h4.59v4.59h-4.59zM210.02 559.44h4.59v4.59h-4.59zM214.56 523.15h4.59v4.59h-4.59zM214.56 550.37h4.59v4.59h-4.59z" fill="#000" fill-opacity="0.08"/>
<path d="M191.88 550.37h4.59v4.59h-4.59zM196.42 559.44h4.59v4.59h-4.59zM200.95 563.98h4.59v4.59h-4.59zM205.49 505.01h4.59v4.59h-4.59zM214.56 527.69h4.59v4.59h-4.59zM214.56 532.22h4.59v4.59h-4.59zM214.56 536.76h4.59v4.59h-4.59zM214.56 541.3h4.59v4.59h-4.59zM214.56 545.83h4.59v4.59h-4.59z" fill="#000" fill-opacity="0.1"/>
<path d="M191.88 518.62h4.59v4.59h-4.59zM196.42 509.54h4.59v4.59h-4.59zM200.95 505.01h4.59v4.59h-4.59zM210.02 514.08h4.59v4.59h-4.59zM210.02 554.9h4.59v4.59h-4.59z" fill="#000" fill-opacity="0.12"/>
<path d="M191.88 523.15h4.59v4.59h-4.59zM191.88 545.83h4.59v4.59h-4.59zM200.95 559.44h4.59v4.59h-4.59zM205.49 559.44h4.59v4.59h-4.59z" fill="#000" fill-opacity="0.13"/>
<path d="M191.88 527.69h4.59v4.59h-4.59zM191.88 536.76h4.59v4.59h-4.59zM191.88 541.3h4.59v4.59h-4.59zM196.42 554.9h4.59v4.59h-4.59zM205.49 509.54h4.59v4.59h-4.59zM210.02 518.62h4.59v4.59h-4.59zM210.02 550.37h4.59v4.59h-4.59z" fill="#000" fill-opacity="0.15"/>
<path d="M191.88 532.22h4.59v4.59h-4.59zM196.42 514.08h4.59v4.59h-4.59zM200.95 509.54h4.59v4.59h-4.59zM205.49 554.9h4.59v4.59h-4.59z" fill="#000" fill-opacity="0.17"/>
<path d="M196.42 550.37h4.59v4.59h-4.59zM200.95 554.9h4.59v4.59h-4.59zM210.02 523.15h4.59v4.59h-4.59zM210.02 545.83h4.59v4.59h-4.59z" fill="#000" fill-opacity="0.18"/>
<path d="M205.49 514.08h4.59v4.59h-4.59zM210.02 527.69h4.59v4.59h-4.59zM210.02 541.3h4.59v4.59h-4.59z" fill="#000" fill-opacity="0.2"/>
<path d="M196.42 518.62h4.59v4.59h-4.59zM200.95 514.08h4.59v4.59h-4.59zM205.49 550.37h4.59v4.59h-4.59zM210.02 532.22h4.59v4.59h-4.59zM210.02 536.76h4.59v4.59h-4.59z" fill="#000" fill-opacity="0.22"/>
<path d="M196.42 545.83h4.59v4.59h-4.59zM200.95 550.37h4.59v4.59h-4.59z" fill="#000" fill-opacity="0.23"/>
<path d="M196.42 523.15h4.59v4.59h-4.59zM205.49 518.62h4.59v4.59h-4.59z" fill="#000" fill-opacity="0.25"/>
<path d="M196.42 541.3h4.59v4.59h-4.59zM205.49 545.83h4.59v4.59h-4.59z" fill="#000" fill-opacity="0.27"/>
<path d="M196.42 527.69h4.59v4.59h-4.59zM196.42 536.76h4.59v4.59h-4.59zM200.95 518.62h4.59v4.59h-4.59z" fill="#000" fill-opacity="0.28"/>
<path d="M196.42 532.22h4.59v4.59h-4.59zM200.95 545.83h4.59v4.59h-4.59zM205.49 523.15h4.59v4.59h-4.59z" fill="#000" fill-opacity="0.3"/>
<path d="M205.49 541.3h4.59v4.59h-4.59z" fill="#000" fill-opacity="0.32"/>
<path d="M200.95 523.15h4.59v4.59h-4.59zM205.49 527.69h4.59v4.59h-4.59zM205.49 536.76h4.59v4.59h-4.59z" fill="#000" fill-opacity="0.33"/>
<path d="M200.95 541.3h4.59v4.59h-4.59zM205.49 532.22h4.59v4.59h-4.59z" fill="#000" fill-opacity="0.35"/>
<path d="M200.95 527.69h4.59v4.59h-4.59z" fill="#000" fill-opacity="0.37"/>
<path d="M200.95 532.22h4.59v4.59h-4.59zM200.95 536.76h4.59v4.59h-4.59z" fill="#000" fill-opacity="0.38"/>
<path d="M199.8,502.1C203.87,502.1 208.09,503.12 212,505C215.91,506.88 219.5,509.5 223.25,513.4C227,517.3 231.06,522.47 234.5,528.4C237.94,534.33 241.87,543.07 243.9,549C245.93,554.93 247.02,559.32 246.7,564C246.38,568.68 245.28,573.82 242,577.1C238.72,580.38 232,582.38 227,583.7C222,585.02 217.32,585.47 212,585C206.68,584.53 200.1,583.47 195.1,580.9C190.1,578.33 185.28,574.6 182,569.6C178.72,564.6 176.65,557.15 175.4,550.9C174.15,544.65 174.03,538.04 174.5,532.1C174.97,526.16 176.07,519.77 178.25,515.25C180.43,510.73 184.01,507.19 187.6,505C191.19,502.81 195.73,502.1 199.8,502.1Z" fill="none" stroke="#8a8a8a" stroke-width="1.5" stroke-dasharray="5.2 2.6"/>
<path d="M200.75,514.3C203.56,514.15 207.29,515.44 210.1,518.1C212.91,520.76 215.25,525.73 217.6,530.25C219.95,534.77 222.57,540.56 224.2,545.25C225.83,549.94 227.56,554.65 227.4,558.4C227.24,562.15 225.82,565.57 223.25,567.75C220.68,569.93 215.44,571.5 212,571.5C208.56,571.5 205.72,569.62 202.6,567.75C199.47,565.88 195.75,564 193.25,560.25C190.75,556.5 188.54,550.25 187.6,545.25C186.66,540.25 186.66,534.62 187.6,530.25C188.54,525.88 191.06,521.66 193.25,519C195.44,516.34 197.94,514.45 200.75,514.3Z" fill="none" stroke="#8a8a8a" stroke-width="1.5" stroke-dasharray="5.2 2.6"/>
<path d="M210.8,539.5C211.28,539.49 216.96,540.38 217.4,540.6C217.84,540.82 221.58,544.54 221.8,545C222.02,545.46 222.9,551.53 222.9,552.1C222.9,552.67 222.02,558.75 221.8,559.25C221.58,559.75 217.84,564.23 217.4,564.5C216.96,564.77 211.33,566.1 210.8,566.1C210.27,566.1 204.6,564.77 204.2,564.5C203.8,564.23 200.86,559.75 200.7,559.25C200.54,558.75 200.08,552.67 200.1,552.1C200.12,551.53 200.99,545.45 201.2,545C201.41,544.55 204.92,541.12 205.3,540.9C205.68,540.68 210.32,539.51 210.8,539.5Z" fill="#f4c5ca" stroke="#000" stroke-width="1.5" stroke-linejoin="round"/>
<path d="M211.1,545.5C211.6,545.5 217.47,550.08 217.7,550.5C217.93,550.92 217.14,555.66 216.9,556C216.66,556.34 212.03,559 211.6,559C211.17,559 206.45,556.34 206.2,556C205.95,555.66 205.1,550.92 205.3,550.5C205.5,550.08 210.6,545.5 211.1,545.5Z" fill="#d75f6c" stroke="#000" stroke-width="1.4" stroke-linejoin="round"/>
<line x1="210.9" y1="491.4" x2="210.9" y2="604.8" stroke="#000" stroke-width="1.6"/>
<line x1="169.2" y1="552.6" x2="282.6" y2="552.6" stroke="#000" stroke-width="1.6"/>
<ellipse cx="210.4" cy="552.6" rx="2" ry="2.2" fill="#000"/>
</g>
<rect x="169.2" y="491.4" width="113.4" height="113.4" fill="none" stroke="#000" stroke-width="1.9"/>
<line x1="173.6" y1="604.8" x2="173.6" y2="607.6" stroke="#000" stroke-width="0.9"/>
<line x1="200.3" y1="604.8" x2="200.3" y2="607.6" stroke="#000" stroke-width="0.9"/>
<line x1="227" y1="604.8" x2="227" y2="607.6" stroke="#000" stroke-width="0.9"/>
<line x1="253.7" y1="604.8" x2="253.7" y2="607.6" stroke="#000" stroke-width="0.9"/>
<line x1="280.4" y1="604.8" x2="280.4" y2="607.6" stroke="#000" stroke-width="0.9"/>
<line x1="166.4" y1="590.3" x2="169.2" y2="590.3" stroke="#000" stroke-width="0.9"/>
<line x1="166.4" y1="565.1" x2="169.2" y2="565.1" stroke="#000" stroke-width="0.9"/>
<line x1="166.4" y1="539.9" x2="169.2" y2="539.9" stroke="#000" stroke-width="0.9"/>
<line x1="166.4" y1="514.7" x2="169.2" y2="514.7" stroke="#000" stroke-width="0.9"/>
<g clip-path="url(#c42)">
<path d="M392.37 547.82h1v1h-1zM387.44 570.69h1v1h-1zM396.27 557.98h1v1h-1zM392.88 557.25h1v1h-1zM389.7 517.79h1v1h-1zM387.9 561.17h1v1h-1zM388.59 521.95h1v1h-1zM399.09 597.02h1v1h-1zM399.05 563.27h1v1h-1zM390.21 553.29h1v1h-1zM383.69 528.12h1v1h-1zM368.92 504.69h1v1h-1zM387.43 603.54h1v1h-1zM395.48 530.72h1v1h-1zM380.34 572.92h1v1h-1zM390.44 505.9h1v1h-1zM395.1 529.22h1v1h-1zM394.89 532.96h1v1h-1zM372.68 518.02h1v1h-1zM397.16 543.6h1v1h-1zM391.93 545.8h1v1h-1zM366.69 496.52h1v1h-1zM369.02 513.91h1v1h-1zM391.02 538.15h1v1h-1zM381.03 573.7h1v1h-1zM348.27 498.93h1v1h-1zM385.51 567.53h1v1h-1zM372.57 511.67h1v1h-1zM391.27 541.02h1v1h-1zM392.43 506.8h1v1h-1zM360.99 494.8h1v1h-1zM378.77 505.37h1v1h-1zM395.6 585.11h1v1h-1zM386.42 600.2h1v1h-1zM359.79 510.24h1v1h-1zM395.24 533.24h1v1h-1zM397.42 512.32h1v1h-1zM400.12 586.35h1v1h-1zM375.08 517.73h1v1h-1zM397.07 505.05h1v1h-1zM390.18 523.92h1v1h-1zM400.6 557.89h1v1h-1zM399.15 515.97h1v1h-1zM399.22 537.36h1v1h-1zM394.27 499.55h1v1h-1zM386.17 532.52h1v1h-1zM397.37 547.92h1v1h-1zM390.64 533.36h1v1h-1zM396.05 550.05h1v1h-1zM398.18 553.16h1v1h-1zM388.76 524.77h1v1h-1zM396.18 555.36h1v1h-1zM392.09 549.04h1v1h-1zM393.95 523.8h1v1h-1zM387.96 586.91h1v1h-1zM395.75 576.98h1v1h-1zM398.15 515.92h1v1h-1zM398.2 556.31h1v1h-1zM387.49 569.76h1v1h-1zM384.98 575.49h1v1h-1zM398.98 556.95h1v1h-1zM380.74 517.9h1v1h-1zM385.95 577.96h1v1h-1zM389.3 547.78h1v1h-1zM394.03 558.49h1v1h-1zM383.36 520.42h1v1h-1zM398.54 576.54h1v1h-1zM385.75 511.65h1v1h-1zM389.74 536.56h1v1h-1zM385.17 510.28h1v1h-1zM372.65 511.85h1v1h-1zM376.92 505.01h1v1h-1zM386.02 566.06h1v1h-1zM395.93 555.28h1v1h-1zM388.32 523.73h1v1h-1zM389.47 520.79h1v1h-1zM387.84 561.26h1v1h-1zM376.63 515.52h1v1h-1zM375.38 495.38h1v1h-1zM392.57 527.96h1v1h-1zM395.49 524.87h1v1h-1zM386.75 569.13h1v1h-1zM358.24 591h1v1h-1zM382.53 508.7h1v1h-1zM393.54 522.82h1v1h-1zM383.56 514.17h1v1h-1zM392.24 552.83h1v1h-1zM386.78 503.07h1v1h-1zM385.39 597.84h1v1h-1zM381.92 514.52h1v1h-1zM395.58 553.84h1v1h-1zM385.28 520.02h1v1h-1zM395.41 548.99h1v1h-1zM392.78 541.69h1v1h-1zM385.28 527.96h1v1h-1zM392.88 506.63h1v1h-1zM386.76 535.83h1v1h-1zM388.46 495.58h1v1h-1zM383.9 499.36h1v1h-1zM387.49 568.56h1v1h-1zM363.39 509.9h1v1h-1zM378.68 573.74h1v1h-1zM395.1 537.55h1v1h-1zM392.45 520.97h1v1h-1zM394.67 533.02h1v1h-1zM375.68 580.89h1v1h-1zM373.26 602.91h1v1h-1zM370.47 515.28h1v1h-1zM393.79 504.56h1v1h-1zM386.82 526.06h1v1h-1zM395.23 503.68h1v1h-1zM388.39 541.23h1v1h-1zM386.46 566.56h1v1h-1zM388.55 565.61h1v1h-1zM387.41 584.98h1v1h-1zM388.28 560.35h1v1h-1zM391.71 557.09h1v1h-1zM391.43 547.36h1v1h-1zM377.56 516.06h1v1h-1zM397.69 576.52h1v1h-1zM361.2 509.33h1v1h-1zM385.01 517.48h1v1h-1zM374.75 518.46h1v1h-1zM393.38 533.22h1v1h-1zM385.45 519.5h1v1h-1zM390.2 539.68h1v1h-1zM384.18 493.12h1v1h-1zM365.49 583.61h1v1h-1zM391.02 541.84h1v1h-1zM386.34 534.1h1v1h-1zM393.24 579.94h1v1h-1zM394.84 548.18h1v1h-1zM381.35 510.45h1v1h-1zM383.79 527.57h1v1h-1zM374.29 518.51h1v1h-1zM388.79 537.17h1v1h-1zM386.2 517.04h1v1h-1zM389.06 557.63h1v1h-1zM352.54 497.31h1v1h-1zM393.48 519.47h1v1h-1z" fill="#d2d2d2"/>
<path d="M288.4 532.22h4.59v4.59h-4.59zM288.4 536.76h4.59v4.59h-4.59zM288.4 541.3h4.59v4.59h-4.59zM288.4 545.83h4.59v4.59h-4.59zM292.94 518.62h4.59v4.59h-4.59zM292.94 523.15h4.59v4.59h-4.59zM292.94 527.69h4.59v4.59h-4.59zM292.94 532.22h4.59v4.59h-4.59zM292.94 536.76h4.59v4.59h-4.59zM292.94 541.3h4.59v4.59h-4.59zM292.94 545.83h4.59v4.59h-4.59zM292.94 550.37h4.59v4.59h-4.59zM292.94 554.9h4.59v4.59h-4.59zM292.94 559.44h4.59v4.59h-4.59zM297.47 509.54h4.59v4.59h-4.59zM297.47 514.08h4.59v4.59h-4.59zM297.47 518.62h4.59v4.59h-4.59zM297.47 523.15h4.59v4.59h-4.59zM297.47 550.37h4.59v4.59h-4.59zM297.47 554.9h4.59v4.59h-4.59zM297.47 559.44h4.59v4.59h-4.59zM297.47 563.98h4.59v4.59h-4.59zM297.47 568.51h4.59v4.59h-4.59zM302.01 505.01h4.59v4.59h-4.59zM302.01 509.54h4.59v4.59h-4.59zM302.01 559.44h4.59v4.59h-4.59zM302.01 563.98h4.59v4.59h-4.59zM302.01 568.51h4.59v4.59h-4.59zM302.01 573.05h4.59v4.59h-4.59zM306.54 500.47h4.59v4.59h-4.59zM306.54 505.01h4.59v4.59h-4.59zM306.54 563.98h4.59v4.59h-4.59zM306.54 568.51h4.59v4.59h-4.59zM306.54 573.05h4.59v4.59h-4.59zM306.54 577.58h4.59v4.59h-4.59zM311.08 495.94h4.59v4.59h-4.59zM311.08 500.47h4.59v4.59h-4.59zM311.08 568.51h4.59v4.59h-4.59zM311.08 573.05h4.59v4.59h-4.59zM311.08 577.58h4.59v4.59h-4.59zM311.08 582.12h4.59v4.59h-4.59zM315.62 495.94h4.59v4.59h-4.59zM315.62 573.05h4.59v4.59h-4.59zM315.62 577.58h4.59v4.59h-4.59zM315.62 582.12h4.59v4.59h-4.59zM320.15 491.4h4.59v4.59h-4.59zM320.15 495.94h4.59v4.59h-4.59zM320.15 577.58h4.59v4.59h-4.59zM320.15 582.12h4.59v4.59h-4.59zM320.15 586.66h4.59v4.59h-4.59zM324.69 491.4h4.59v4.59h-4.59zM324.69 495.94h4.59v4.59h-4.59zM324.69 577.58h4.59v4.59h-4.59zM324.69 582.12h4.59v4.59h-4.59zM324.69 586.66h4.59v4.59h-4.59zM329.22 491.4h4.59v4.59h-4.59zM329.22 495.94h4.59v4.59h-4.59zM329.22 577.58h4.59v4.59h-4.59zM329.22 582.12h4.59v4.59h-4.59zM329.22 586.66h4.59v4.59h-4.59zM333.76 491.4h4.59v4.59h-4.59zM333.76 495.94h4.59v4.59h-4.59zM333.76 577.58h4.59v4.59h-4.59zM333.76 582.12h4.59v4.59h-4.59zM333.76 586.66h4.59v4.59h-4.59zM338.3 491.4h4.59v4.59h-4.59zM338.3 495.94h4.59v4.59h-4.59zM338.3 577.58h4.59v4.59h-4.59zM338.3 582.12h4.59v4.59h-4.59zM338.3 586.66h4.59v4.59h-4.59zM338.3 591.19h4.59v4.59h-4.59zM342.83 495.94h4.59v4.59h-4.59zM342.83 500.47h4.59v4.59h-4.59zM342.83 577.58h4.59v4.59h-4.59zM342.83 582.12h4.59v4.59h-4.59zM342.83 586.66h4.59v4.59h-4.59zM347.37 495.94h4.59v4.59h-4.59zM347.37 500.47h4.59v4.59h-4.59zM347.37 505.01h4.59v4.59h-4.59zM347.37 577.58h4.59v4.59h-4.59zM347.37 582.12h4.59v4.59h-4.59zM347.37 586.66h4.59v4.59h-4.59zM351.9 495.94h4.59v4.59h-4.59zM351.9 500.47h4.59v4.59h-4.59zM351.9 505.01h4.59v4.59h-4.59zM351.9 573.05h4.59v4.59h-4.59zM351.9 577.58h4.59v4.59h-4.59zM351.9 582.12h4.59v4.59h-4.59zM351.9 586.66h4.59v4.59h-4.59zM356.44 500.47h4.59v4.59h-4.59zM356.44 505.01h4.59v4.59h-4.59zM356.44 509.54h4.59v4.59h-4.59zM356.44 573.05h4.59v4.59h-4.59zM356.44 577.58h4.59v4.59h-4.59zM356.44 582.12h4.59v4.59h-4.59zM356.44 586.66h4.59v4.59h-4.59zM360.98 500.47h4.59v4.59h-4.59zM360.98 505.01h4.59v4.59h-4.59zM360.98 509.54h4.59v4.59h-4.59zM360.98 514.08h4.59v4.59h-4.59zM360.98 568.51h4.59v4.59h-4.59zM360.98 573.05h4.59v4.59h-4.59zM360.98 577.58h4.59v4.59h-4.59zM360.98 582.12h4.59v4.59h-4.59zM365.51 505.01h4.59v4.59h-4.59zM365.51 509.54h4.59v4.59h-4.59zM365.51 514.08h4.59v4.59h-4.59zM365.51 518.62h4.59v4.59h-4.59zM365.51 523.15h4.59v4.59h-4.59zM365.51 563.98h4.59v4.59h-4.59zM365.51 568.51h4.59v4.59h-4.59zM365.51 573.05h4.59v4.59h-4.59zM365.51 577.58h4.59v4.59h-4.59zM365.51 582.12h4.59v4.59h-4.59zM370.05 509.54h4.59v4.59h-4.59zM370.05 514.08h4.59v4.59h-4.59zM370.05 518.62h4.59v4.59h-4.59zM370.05 523.15h4.59v4.59h-4.59zM370.05 527.69h4.59v4.59h-4.59zM370.05 532.22h4.59v4.59h-4.59zM370.05 550.37h4.59v4.59h-4.59zM370.05 554.9h4.59v4.59h-4.59zM370.05 559.44h4.59v4.59h-4.59zM370.05 563.98h4.59v4.59h-4.59zM370.05 568.51h4.59v4.59h-4.59zM370.05 573.05h4.59v4.59h-4.59zM370.05 577.58h4.59v4.59h-4.59zM374.58 514.08h4.59v4.59h-4.59zM374.58 518.62h4.59v4.59h-4.59zM374.58 523.15h4.59v4.59h-4.59zM374.58 527.69h4.59v4.59h-4.59zM374.58 532.22h4.59v4.59h-4.59zM374.58 536.76h4.59v4.59h-4.59zM374.58 541.3h4.59v4.59h-4.59zM374.58 545.83h4.59v4.59h-4.59zM374.58 550.37h4.59v4.59h-4.59zM374.58 554.9h4.59v4.59h-4.59zM374.58 559.44h4.59v4.59h-4.59zM374.58 563.98h4.59v4.59h-4.59zM374.58 568.51h4.59v4.59h-4.59zM374.58 573.05h4.59v4.59h-4.59zM379.12 518.62h4.59v4.59h-4.59zM379.12 523.15h4.59v4.59h-4.59zM379.12 527.69h4.59v4.59h-4.59zM379.12 532.22h4.59v4.59h-4.59zM379.12 536.76h4.59v4.59h-4.59zM379.12 541.3h4.59v4.59h-4.59zM379.12 545.83h4.59v4.59h-4.59zM379.12 550.37h4.59v4.59h-4.59zM379.12 554.9h4.59v4.59h-4.59zM379.12 559.44h4.59v4.59h-4.59zM379.12 563.98h4.59v4.59h-4.59zM383.66 527.69h4.59v4.59h-4.59zM383.66 532.22h4.59v4.59h-4.59zM383.66 536.76h4.59v4.59h-4.59zM383.66 541.3h4.59v4.59h-4.59zM383.66 545.83h4.59v4.59h-4.59zM383.66 550.37h4.59v4.59h-4.59zM383.66 554.9h4.59v4.59h-4.59z" fill="#000" fill-opacity="0.02"/>
<path d="M297.47 527.69h4.59v4.59h-4.59zM297.47 532.22h4.59v4.59h-4.59zM297.47 536.76h4.59v4.59h-4.59zM297.47 541.3h4.59v4.59h-4.59zM297.47 545.83h4.59v4.59h-4.59zM302.01 514.08h4.59v4.59h-4.59zM302.01 518.62h4.59v4.59h-4.59zM302.01 550.37h4.59v4.59h-4.59zM302.01 554.9h4.59v4.59h-4.59zM306.54 509.54h4.59v4.59h-4.59zM306.54 559.44h4.59v4.59h-4.59zM311.08 505.01h4.59v4.59h-4.59zM311.08 563.98h4.59v4.59h-4.59zM315.62 500.47h4.59v4.59h-4.59zM315.62 568.51h4.59v4.59h-4.59zM320.15 500.47h4.59v4.59h-4.59zM320.15 568.51h4.59v4.59h-4.59zM320.15 573.05h4.59v4.59h-4.59zM324.69 500.47h4.59v4.59h-4.59zM324.69 573.05h4.59v4.59h-4.59zM329.22 500.47h4.59v4.59h-4.59zM329.22 573.05h4.59v4.59h-4.59zM333.76 500.47h4.59v4.59h-4.59zM333.76 573.05h4.59v4.59h-4.59zM338.3 500.47h4.59v4.59h-4.59zM338.3 568.51h4.59v4.59h-4.59zM338.3 573.05h4.59v4.59h-4.59zM342.83 505.01h4.59v4.59h-4.59zM342.83 568.51h4.59v4.59h-4.59zM342.83 573.05h4.59v4.59h-4.59zM347.37 509.54h4.59v4.59h-4.59zM347.37 568.51h4.59v4.59h-4.59zM347.37 573.05h4.59v4.59h-4.59zM351.9 509.54h4.59v4.59h-4.59zM351.9 514.08h4.59v4.59h-4.59zM351.9 563.98h4.59v4.59h-4.59zM351.9 568.51h4.59v4.59h-4.59zM356.44 514.08h4.59v4.59h-4.59zM356.44 518.62h4.59v4.59h-4.59zM356.44 523.15h4.59v4.59h-4.59zM356.44 559.44h4.59v4.59h-4.59zM356.44 563.98h4.59v4.59h-4.59zM356.44 568.51h4.59v4.59h-4.59zM360.98 518.62h4.59v4.59h-4.59zM360.98 523.15h4.59v4.59h-4.59zM360.98 527.69h4.59v4.59h-4.59zM360.98 532.22h4.59v4.59h-4.59zM360.98 536.76h4.59v4.59h-4.59zM360.98 541.3h4.59v4.59h-4.59zM360.98 545.83h4.59v4.59h-4.59zM360.98 550.37h4.59v4.59h-4.59zM360.98 554.9h4.59v4.59h-4.59zM360.98 559.44h4.59v4.59h-4.59zM360.98 563.98h4.59v4.59h-4.59zM365.51 527.69h4.59v4.59h-4.59zM365.51 532.22h4.59v4.59h-4.59zM365.51 536.76h4.59v4.59h-4.59zM365.51 541.3h4.59v4.59h-4.59zM365.51 545.83h4.59v4.59h-4.59zM365.51 550.37h4.59v4.59h-4.59zM365.51 554.9h4.59v4.59h-4.59zM365.51 559.44h4.59v4.59h-4.59zM370.05 536.76h4.59v4.59h-4.59zM370.05 541.3h4.59v4.59h-4.59zM370.05 545.83h4.59v4.59h-4.59z" fill="#000" fill-opacity="0.03"/>
<path d="M302.01 523.15h4.59v4.59h-4.59zM302.01 527.69h4.59v4.59h-4.59zM302.01 541.3h4.59v4.59h-4.59zM302.01 545.83h4.59v4.59h-4.59zM306.54 514.08h4.59v4.59h-4.59zM306.54 554.9h4.59v4.59h-4.59zM311.08 559.44h4.59v4.59h-4.59zM315.62 505.01h4.59v4.59h-4.59zM315.62 563.98h4.59v4.59h-4.59zM320.15 563.98h4.59v4.59h-4.59zM324.69 568.51h4.59v4.59h-4.59zM329.22 568.51h4.59v4.59h-4.59zM333.76 505.01h4.59v4.59h-4.59zM333.76 568.51h4.59v4.59h-4.59zM338.3 505.01h4.59v4.59h-4.59zM338.3 563.98h4.59v4.59h-4.59zM342.83 509.54h4.59v4.59h-4.59zM342.83 563.98h4.59v4.59h-4.59zM347.37 514.08h4.59v4.59h-4.59zM347.37 559.44h4.59v4.59h-4.59zM347.37 563.98h4.59v4.59h-4.59zM351.9 518.62h4.59v4.59h-4.59zM351.9 523.15h4.59v4.59h-4.59zM351.9 550.37h4.59v4.59h-4.59zM351.9 554.9h4.59v4.59h-4.59zM351.9 559.44h4.59v4.59h-4.59zM356.44 527.69h4.59v4.59h-4.59zM356.44 532.22h4.59v4.59h-4.59zM356.44 536.76h4.59v4.59h-4.59zM356.44 541.3h4.59v4.59h-4.59zM356.44 545.83h4.59v4.59h-4.59zM356.44 550.37h4.59v4.59h-4.59zM356.44 554.9h4.59v4.59h-4.59z" fill="#000" fill-opacity="0.05"/>
<path d="M302.01 532.22h4.59v4.59h-4.59zM302.01 536.76h4.59v4.59h-4.59zM306.54 518.62h4.59v4.59h-4.59zM306.54 550.37h4.59v4.59h-4.59zM311.08 509.54h4.59v4.59h-4.59zM311.08 554.9h4.59v4.59h-4.59zM315.62 559.44h4.59v4.59h-4.59zM320.15 505.01h4.59v4.59h-4.59zM324.69 505.01h4.59v4.59h-4.59zM324.69 563.98h4.59v4.59h-4.59zM329.22 505.01h4.59v4.59h-4.59zM329.22 563.98h4.59v4.59h-4.59zM333.76 563.98h4.59v4.59h-4.59zM338.3 509.54h4.59v4.59h-4.59zM338.3 559.44h4.59v4.59h-4.59zM342.83 514.08h4.59v4.59h-4.59zM342.83 559.44h4.59v4.59h-4.59zM347.37 518.62h4.59v4.59h-4.59zM347.37 550.37h4.59v4.59h-4.59zM347.37 554.9h4.59v4.59h-4.59zM351.9 527.69h4.59v4.59h-4.59zM351.9 532.22h4.59v4.59h-4.59zM351.9 536.76h4.59v4.59h-4.59zM351.9 541.3h4.59v4.59h-4.59zM351.9 545.83h4.59v4.59h-4.59z" fill="#000" fill-opacity="0.07"/>
<path d="M306.54 545.83h4.59v4.59h-4.59zM311.08 514.08h4.59v4.59h-4.59zM315.62 509.54h4.59v4.59h-4.59zM320.15 559.44h4.59v4.59h-4.59zM333.76 559.44h4.59v4.59h-4.59zM342.83 554.9h4.59v4.59h-4.59zM347.37 523.15h4.59v4.59h-4.59zM347.37 527.69h4.59v4.59h-4.59zM347.37 545.83h4.59v4.59h-4.59z" fill="#000" fill-opacity="0.08"/>
<path d="M306.54 523.15h4.59v4.59h-4.59zM306.54 527.69h4.59v4.59h-4.59zM306.54 541.3h4.59v4.59h-4.59zM311.08 550.37h4.59v4.59h-4.59zM315.62 554.9h4.59v4.59h-4.59zM324.69 559.44h4.59v4.59h-4.59zM329.22 559.44h4.59v4.59h-4.59zM333.76 509.54h4.59v4.59h-4.59zM338.3 514.08h4.59v4.59h-4.59zM338.3 554.9h4.59v4.59h-4.59zM342.83 518.62h4.59v4.59h-4.59zM342.83 550.37h4.59v4.59h-4.59zM347.37 532.22h4.59v4.59h-4.59zM347.37 536.76h4.59v4.59h-4.59zM347.37 541.3h4.59v4.59h-4.59z" fill="#000" fill-opacity="0.1"/>
<path d="M306.54 532.22h4.59v4.59h-4.59zM306.54 536.76h4.59v4.59h-4.59zM311.08 518.62h4.59v4.59h-4.59zM320.15 509.54h4.59v4.59h-4.59zM320.15 554.9h4.59v4.59h-4.59zM324.69 509.54h4.59v4.59h-4.59zM329.22 509.54h4.59v4.59h-4.59zM333.76 554.9h4.59v4.59h-4.59zM342.83 523.15h4.59v4.59h-4.59zM342.83 545.83h4.59v4.59h-4.59z" fill="#000" fill-opacity="0.12"/>
<path d="M311.08 545.83h4.59v4.59h-4.59zM315.62 514.08h4.59v4.59h-4.59zM315.62 550.37h4.59v4.59h-4.59zM324.69 554.9h4.59v4.59h-4.59zM329.22 554.9h4.59v4.59h-4.59zM338.3 550.37h4.59v4.59h-4.59zM342.83 527.69h4.59v4.59h-4.59zM342.83 541.3h4.59v4.59h-4.59z" fill="#000" fill-opacity="0.13"/>
<path d="M311.08 523.15h4.59v4.59h-4.59zM333.76 514.08h4.59v4.59h-4.59zM338.3 518.62h4.59v4.59h-4.59zM342.83 532.22h4.59v4.59h-4.59zM342.83 536.76h4.59v4.59h-4.59z" fill="#000" fill-opacity="0.15"/>
<path d="M311.08 541.3h4.59v4.59h-4.59zM320.15 514.08h4.59v4.59h-4.59zM329.22 514.08h4.59v4.59h-4.59zM333.76 550.37h4.59v4.59h-4.59zM338.3 545.83h4.59v4.59h-4.59z" fill="#000" fill-opacity="0.17"/>
<path d="M311.08 527.69h4.59v4.59h-4.59zM311.08 532.22h4.59v4.59h-4.59zM311.08 536.76h4.59v4.59h-4.59zM315.62 518.62h4.59v4.59h-4.59zM315.62 545.83h4.59v4.59h-4.59zM320.15 550.37h4.59v4.59h-4.59zM324.69 514.08h4.59v4.59h-4.59zM329.22 550.37h4.59v4.59h-4.59zM338.3 523.15h4.59v4.59h-4.59z" fill="#000" fill-opacity="0.18"/>
<path d="M324.69 550.37h4.59v4.59h-4.59zM333.76 518.62h4.59v4.59h-4.59zM338.3 527.69h4.59v4.59h-4.59zM338.3 541.3h4.59v4.59h-4.59z" fill="#000" fill-opacity="0.2"/>
<path d="M333.76 545.83h4.59v4.59h-4.59zM338.3 532.22h4.59v4.59h-4.59zM338.3 536.76h4.59v4.59h-4.59z" fill="#000" fill-opacity="0.22"/>
<path d="M315.62 523.15h4.59v4.59h-4.59zM315.62 541.3h4.59v4.59h-4.59zM320.15 518.62h4.59v4.59h-4.59zM320.15 545.83h4.59v4.59h-4.59zM329.22 518.62h4.59v4.59h-4.59z" fill="#000" fill-opacity="0.23"/>
<path d="M324.69 518.62h4.59v4.59h-4.59zM329.22 545.83h4.59v4.59h-4.59zM333.76 523.15h4.59v4.59h-4.59z" fill="#000" fill-opacity="0.25"/>
<path d="M315.62 527.69h4.59v4.59h-4.59zM315.62 536.76h4.59v4.59h-4.59zM324.69 545.83h4.59v4.59h-4.59zM333.76 541.3h4.59v4.59h-4.59z" fill="#000" fill-opacity="0.27"/>
<path d="M315.62 532.22h4.59v4.59h-4.59zM333.76 527.69h4.59v4.59h-4.59z" fill="#000" fill-opacity="0.28"/>
<path d="M320.15 523.15h4.59v4.59h-4.59zM320.15 541.3h4.59v4.59h-4.59zM329.22 523.15h4.59v4.59h-4.59zM333.76 532.22h4.59v4.59h-4.59zM333.76 536.76h4.59v4.59h-4.59z" fill="#000" fill-opacity="0.3"/>
<path d="M329.22 541.3h4.59v4.59h-4.59z" fill="#000" fill-opacity="0.32"/>
<path d="M324.69 523.15h4.59v4.59h-4.59zM324.69 541.3h4.59v4.59h-4.59z" fill="#000" fill-opacity="0.33"/>
<path d="M320.15 527.69h4.59v4.59h-4.59zM320.15 536.76h4.59v4.59h-4.59zM329.22 527.69h4.59v4.59h-4.59zM329.22 536.76h4.59v4.59h-4.59z" fill="#000" fill-opacity="0.35"/>
<path d="M320.15 532.22h4.59v4.59h-4.59zM329.22 532.22h4.59v4.59h-4.59z" fill="#000" fill-opacity="0.37"/>
<path d="M324.69 527.69h4.59v4.59h-4.59zM324.69 536.76h4.59v4.59h-4.59z" fill="#000" fill-opacity="0.38"/>
<path d="M324.69 532.22h4.59v4.59h-4.59z" fill="#000" fill-opacity="0.4"/>
<path d="M323.5,502.5C328.18,501.72 332.88,503.55 338.5,504.9C344.12,506.25 351.32,508.25 357.25,510.6C363.18,512.95 369.41,515.42 374.1,519C378.79,522.58 382.8,526.78 385.4,532.1C388,537.42 389.7,544.96 389.7,550.9C389.7,556.84 388.62,563.07 385.4,567.75C382.18,572.43 376.34,576.34 370.4,579C364.46,581.66 356.63,583.08 349.75,583.7C342.87,584.33 335.35,583.85 329.1,582.75C322.85,581.65 316.78,580.23 312.25,577.1C307.72,573.98 304.02,569.31 301.9,564C299.77,558.69 299.5,552.12 299.5,545.25C299.5,538.38 300.08,528.69 301.9,522.75C303.72,516.81 306.8,512.98 310.4,509.6C314,506.23 318.82,503.28 323.5,502.5Z" fill="none" stroke="#8a8a8a" stroke-width="1.5" stroke-dasharray="5.2 2.6"/>
<path d="M323.5,513.4C327.56,512.46 331.92,514.6 336.6,517.1C341.28,519.6 347.22,524.33 351.6,528.4C355.98,532.47 360.23,537.13 362.9,541.5C365.57,545.87 367.6,550.53 367.6,554.6C367.6,558.67 366.18,563.08 362.9,565.9C359.62,568.72 353.22,570.4 347.9,571.5C342.58,572.6 336,573.12 331,572.5C326,571.88 321.33,570.42 317.9,567.75C314.47,565.08 311.97,561.19 310.4,556.5C308.83,551.81 308.19,545.23 308.5,539.6C308.81,533.98 309.75,527.12 312.25,522.75C314.75,518.38 319.44,514.34 323.5,513.4Z" fill="none" stroke="#8a8a8a" stroke-width="1.5" stroke-dasharray="5.2 2.6"/>
<path d="M330.8,539.7C331.58,539.72 339.95,541.01 340.6,541.3C341.25,541.59 346.68,546.58 347.05,547C347.42,547.42 349.9,551.44 349.9,551.9C349.9,552.36 347.46,557.91 347.05,558.4C346.64,558.89 340.35,563.79 339.7,564.1C339.05,564.41 331.58,566.1 330.8,566.1C330.02,566.1 320.97,564.41 320.25,564.1C319.53,563.79 313.32,558.89 312.9,558.4C312.48,557.91 309.7,552.39 309.7,551.9C309.7,551.41 312.44,546.64 312.9,546.2C313.36,545.76 320.38,541.16 321.1,540.9C321.82,540.64 330.02,539.68 330.8,539.7Z" fill="#f4c5ca" stroke="#000" stroke-width="1.5" stroke-linejoin="round"/>
<path d="M330.8,544.6C331.45,544.6 337.66,545.94 338.1,546.2C338.54,546.46 341.77,550.64 341.8,551.1C341.83,551.56 339.34,557.24 338.9,557.6C338.46,557.96 331.45,559.97 330.8,560C330.15,560.03 323.19,558.72 322.7,558.4C322.21,558.08 318.63,552.39 318.6,551.9C318.57,551.41 321.41,546.49 321.9,546.2C322.39,545.91 330.15,544.6 330.8,544.6Z" fill="#d75f6c" stroke="#000" stroke-width="1.4" stroke-linejoin="round"/>
<line x1="332.1" y1="491.4" x2="332.1" y2="604.8" stroke="#000" stroke-width="1.6"/>
<line x1="288.4" y1="552.6" x2="401.8" y2="552.6" stroke="#000" stroke-width="1.6"/>
<ellipse cx="331.6" cy="552.6" rx="2" ry="2.2" fill="#000"/>
</g>
<rect x="288.4" y="491.4" width="113.4" height="113.4" fill="none" stroke="#000" stroke-width="1.9"/>
<line x1="293.9" y1="604.8" x2="293.9" y2="607.6" stroke="#000" stroke-width="0.9"/>
<line x1="320.3" y1="604.8" x2="320.3" y2="607.6" stroke="#000" stroke-width="0.9"/>
<line x1="346.7" y1="604.8" x2="346.7" y2="607.6" stroke="#000" stroke-width="0.9"/>
<line x1="373.1" y1="604.8" x2="373.1" y2="607.6" stroke="#000" stroke-width="0.9"/>
<line x1="399.5" y1="604.8" x2="399.5" y2="607.6" stroke="#000" stroke-width="0.9"/>
<line x1="285.6" y1="590.3" x2="288.4" y2="590.3" stroke="#000" stroke-width="0.9"/>
<line x1="285.6" y1="565.1" x2="288.4" y2="565.1" stroke="#000" stroke-width="0.9"/>
<line x1="285.6" y1="539.9" x2="288.4" y2="539.9" stroke="#000" stroke-width="0.9"/>
<line x1="285.6" y1="514.7" x2="288.4" y2="514.7" stroke="#000" stroke-width="0.9"/>
<g clip-path="url(#c43)">
<path d="M414.85 556.66h1v1h-1zM410.4 603.64h1v1h-1zM414.78 538.33h1v1h-1zM421.09 582.19h1v1h-1zM427.48 567.27h1v1h-1zM413.1 571.18h1v1h-1zM409.14 559.51h1v1h-1zM409.51 514.68h1v1h-1zM421.02 570.59h1v1h-1zM437.12 573.12h1v1h-1zM422.61 577.31h1v1h-1zM423.62 572.78h1v1h-1zM414.92 580.61h1v1h-1zM445.41 601.83h1v1h-1zM413.74 497.04h1v1h-1zM411.44 549.21h1v1h-1zM417.08 565.21h1v1h-1zM450.66 603.34h1v1h-1zM415.76 574.69h1v1h-1zM437.02 578.29h1v1h-1zM414.4 540.43h1v1h-1zM428.36 567.81h1v1h-1zM415.12 554.62h1v1h-1zM424.21 564.21h1v1h-1zM426.42 565.11h1v1h-1zM426.38 568.64h1v1h-1zM427.79 598.46h1v1h-1zM413.98 533.17h1v1h-1zM410.28 562.71h1v1h-1zM413.12 557.47h1v1h-1zM411.78 554.66h1v1h-1zM423.3 572.69h1v1h-1zM409.49 537.11h1v1h-1zM412.75 551.45h1v1h-1zM450.55 588.55h1v1h-1z" fill="#d2d2d2"/>
<path d="M421.21 536.76h4.59v4.59h-4.59zM421.21 541.3h4.59v4.59h-4.59zM425.74 518.62h4.59v4.59h-4.59zM425.74 523.15h4.59v4.59h-4.59zM425.74 527.69h4.59v4.59h-4.59zM425.74 532.22h4.59v4.59h-4.59zM425.74 536.76h4.59v4.59h-4.59zM425.74 541.3h4.59v4.59h-4.59zM425.74 545.83h4.59v4.59h-4.59zM425.74 550.37h4.59v4.59h-4.59zM425.74 554.9h4.59v4.59h-4.59zM425.74 559.44h4.59v4.59h-4.59zM430.28 505.01h4.59v4.59h-4.59zM430.28 509.54h4.59v4.59h-4.59zM430.28 514.08h4.59v4.59h-4.59zM430.28 518.62h4.59v4.59h-4.59zM430.28 523.15h4.59v4.59h-4.59zM430.28 554.9h4.59v4.59h-4.59zM430.28 559.44h4.59v4.59h-4.59zM430.28 563.98h4.59v4.59h-4.59zM430.28 568.51h4.59v4.59h-4.59zM434.82 500.47h4.59v4.59h-4.59zM434.82 505.01h4.59v4.59h-4.59zM434.82 509.54h4.59v4.59h-4.59zM434.82 568.51h4.59v4.59h-4.59zM434.82 573.05h4.59v4.59h-4.59zM434.82 577.58h4.59v4.59h-4.59zM439.35 495.94h4.59v4.59h-4.59zM439.35 500.47h4.59v4.59h-4.59zM439.35 577.58h4.59v4.59h-4.59zM439.35 582.12h4.59v4.59h-4.59zM443.89 491.4h4.59v4.59h-4.59zM443.89 495.94h4.59v4.59h-4.59zM443.89 582.12h4.59v4.59h-4.59zM443.89 586.66h4.59v4.59h-4.59zM448.42 491.4h4.59v4.59h-4.59zM448.42 582.12h4.59v4.59h-4.59zM448.42 586.66h4.59v4.59h-4.59zM452.96 491.4h4.59v4.59h-4.59zM452.96 586.66h4.59v4.59h-4.59zM452.96 591.19h4.59v4.59h-4.59zM457.5 491.4h4.59v4.59h-4.59zM457.5 586.66h4.59v4.59h-4.59zM457.5 591.19h4.59v4.59h-4.59zM462.03 491.4h4.59v4.59h-4.59zM462.03 495.94h4.59v4.59h-4.59zM462.03 582.12h4.59v4.59h-4.59zM462.03 586.66h4.59v4.59h-4.59zM466.57 491.4h4.59v4.59h-4.59zM466.57 495.94h4.59v4.59h-4.59zM466.57 577.58h4.59v4.59h-4.59zM466.57 582.12h4.59v4.59h-4.59zM466.57 586.66h4.59v4.59h-4.59zM471.1 495.94h4.59v4.59h-4.59zM471.1 500.47h4.59v4.59h-4.59zM471.1 505.01h4.59v4.59h-4.59zM471.1 573.05h4.59v4.59h-4.59zM471.1 577.58h4.59v4.59h-4.59zM471.1 582.12h4.59v4.59h-4.59zM475.64 500.47h4.59v4.59h-4.59zM475.64 505.01h4.59v4.59h-4.59zM475.64 509.54h4.59v4.59h-4.59zM475.64 568.51h4.59v4.59h-4.59zM475.64 573.05h4.59v4.59h-4.59zM475.64 577.58h4.59v4.59h-4.59zM480.18 505.01h4.59v4.59h-4.59zM480.18 509.54h4.59v4.59h-4.59zM480.18 514.08h4.59v4.59h-4.59zM480.18 518.62h4.59v4.59h-4.59zM480.18 523.15h4.59v4.59h-4.59zM480.18 554.9h4.59v4.59h-4.59zM480.18 559.44h4.59v4.59h-4.59zM480.18 563.98h4.59v4.59h-4.59zM480.18 568.51h4.59v4.59h-4.59zM480.18 573.05h4.59v4.59h-4.59zM484.71 509.54h4.59v4.59h-4.59zM484.71 514.08h4.59v4.59h-4.59zM484.71 518.62h4.59v4.59h-4.59zM484.71 523.15h4.59v4.59h-4.59zM484.71 527.69h4.59v4.59h-4.59zM484.71 532.22h4.59v4.59h-4.59zM484.71 536.76h4.59v4.59h-4.59zM484.71 541.3h4.59v4.59h-4.59zM484.71 545.83h4.59v4.59h-4.59zM484.71 550.37h4.59v4.59h-4.59zM484.71 554.9h4.59v4.59h-4.59zM484.71 559.44h4.59v4.59h-4.59zM484.71 563.98h4.59v4.59h-4.59zM484.71 568.51h4.59v4.59h-4.59zM489.25 518.62h4.59v4.59h-4.59zM489.25 523.15h4.59v4.59h-4.59zM489.25 527.69h4.59v4.59h-4.59zM489.25 532.22h4.59v4.59h-4.59zM489.25 536.76h4.59v4.59h-4.59zM489.25 541.3h4.59v4.59h-4.59zM489.25 545.83h4.59v4.59h-4.59zM489.25 550.37h4.59v4.59h-4.59zM489.25 554.9h4.59v4.59h-4.59zM489.25 559.44h4.59v4.59h-4.59zM493.78 536.76h4.59v4.59h-4.59z" fill="#000" fill-opacity="0.02"/>
<path d="M430.28 527.69h4.59v4.59h-4.59zM430.28 532.22h4.59v4.59h-4.59zM430.28 536.76h4.59v4.59h-4.59zM430.28 541.3h4.59v4.59h-4.59zM430.28 545.83h4.59v4.59h-4.59zM430.28 550.37h4.59v4.59h-4.59zM434.82 514.08h4.59v4.59h-4.59zM434.82 518.62h4.59v4.59h-4.59zM434.82 559.44h4.59v4.59h-4.59zM434.82 563.98h4.59v4.59h-4.59zM439.35 505.01h4.59v4.59h-4.59zM439.35 509.54h4.59v4.59h-4.59zM439.35 568.51h4.59v4.59h-4.59zM439.35 573.05h4.59v4.59h-4.59zM443.89 500.47h4.59v4.59h-4.59zM443.89 577.58h4.59v4.59h-4.59zM448.42 495.94h4.59v4.59h-4.59zM448.42 577.58h4.59v4.59h-4.59zM452.96 495.94h4.59v4.59h-4.59zM452.96 582.12h4.59v4.59h-4.59zM457.5 495.94h4.59v4.59h-4.59zM457.5 582.12h4.59v4.59h-4.59zM462.03 500.47h4.59v4.59h-4.59zM462.03 577.58h4.59v4.59h-4.59zM466.57 500.47h4.59v4.59h-4.59zM466.57 505.01h4.59v4.59h-4.59zM466.57 573.05h4.59v4.59h-4.59zM471.1 509.54h4.59v4.59h-4.59zM471.1 568.51h4.59v4.59h-4.59zM475.64 514.08h4.59v4.59h-4.59zM475.64 518.62h4.59v4.59h-4.59zM475.64 523.15h4.59v4.59h-4.59zM475.64 554.9h4.59v4.59h-4.59zM475.64 559.44h4.59v4.59h-4.59zM475.64 563.98h4.59v4.59h-4.59zM480.18 527.69h4.59v4.59h-4.59zM480.18 532.22h4.59v4.59h-4.59zM480.18 536.76h4.59v4.59h-4.59zM480.18 541.3h4.59v4.59h-4.59zM480.18 545.83h4.59v4.59h-4.59zM480.18 550.37h4.59v4.59h-4.59z" fill="#000" fill-opacity="0.03"/>
<path d="M434.82 523.15h4.59v4.59h-4.59zM434.82 527.69h4.59v4.59h-4.59zM434.82 550.37h4.59v4.59h-4.59zM434.82 554.9h4.59v4.59h-4.59zM439.35 514.08h4.59v4.59h-4.59zM439.35 563.98h4.59v4.59h-4.59zM443.89 505.01h4.59v4.59h-4.59zM443.89 573.05h4.59v4.59h-4.59zM448.42 500.47h4.59v4.59h-4.59zM452.96 500.47h4.59v4.59h-4.59zM452.96 577.58h4.59v4.59h-4.59zM457.5 500.47h4.59v4.59h-4.59zM457.5 577.58h4.59v4.59h-4.59zM462.03 505.01h4.59v4.59h-4.59zM462.03 573.05h4.59v4.59h-4.59zM466.57 509.54h4.59v4.59h-4.59zM466.57 568.51h4.59v4.59h-4.59zM471.1 514.08h4.59v4.59h-4.59zM471.1 518.62h4.59v4.59h-4.59zM471.1 559.44h4.59v4.59h-4.59zM471.1 563.98h4.59v4.59h-4.59zM475.64 527.69h4.59v4.59h-4.59zM475.64 532.22h4.59v4.59h-4.59zM475.64 536.76h4.59v4.59h-4.59zM475.64 541.3h4.59v4.59h-4.59zM475.64 545.83h4.59v4.59h-4.59zM475.64 550.37h4.59v4.59h-4.59z" fill="#000" fill-opacity="0.05"/>
<path d="M434.82 532.22h4.59v4.59h-4.59zM434.82 536.76h4.59v4.59h-4.59zM434.82 541.3h4.59v4.59h-4.59zM434.82 545.83h4.59v4.59h-4.59zM439.35 518.62h4.59v4.59h-4.59zM439.35 559.44h4.59v4.59h-4.59zM443.89 509.54h4.59v4.59h-4.59zM443.89 568.51h4.59v4.59h-4.59zM448.42 505.01h4.59v4.59h-4.59zM448.42 573.05h4.59v4.59h-4.59zM452.96 573.05h4.59v4.59h-4.59zM457.5 505.01h4.59v4.59h-4.59zM457.5 573.05h4.59v4.59h-4.59zM466.57 563.98h4.59v4.59h-4.59zM471.1 523.15h4.59v4.59h-4.59zM471.1 554.9h4.59v4.59h-4.59z" fill="#000" fill-opacity="0.07"/>
<path d="M439.35 554.9h4.59v4.59h-4.59zM452.96 505.01h4.59v4.59h-4.59zM462.03 509.54h4.59v4.59h-4.59zM462.03 568.51h4.59v4.59h-4.59zM466.57 514.08h4.59v4.59h-4.59zM471.1 527.69h4.59v4.59h-4.59zM471.1 532.22h4.59v4.59h-4.59zM471.1 545.83h4.59v4.59h-4.59zM471.1 550.37h4.59v4.59h-4.59z" fill="#000" fill-opacity="0.08"/>
<path d="M439.35 523.15h4.59v4.59h-4.59zM439.35 527.69h4.59v4.59h-4.59zM439.35 550.37h4.59v4.59h-4.59zM443.89 514.08h4.59v4.59h-4.59zM443.89 563.98h4.59v4.59h-4.59zM448.42 509.54h4.59v4.59h-4.59zM448.42 568.51h4.59v4.59h-4.59zM457.5 568.51h4.59v4.59h-4.59zM466.57 518.62h4.59v4.59h-4.59zM466.57 559.44h4.59v4.59h-4.59zM471.1 536.76h4.59v4.59h-4.59zM471.1 541.3h4.59v4.59h-4.59z" fill="#000" fill-opacity="0.1"/>
<path d="M439.35 532.22h4.59v4.59h-4.59zM439.35 545.83h4.59v4.59h-4.59zM443.89 559.44h4.59v4.59h-4.59zM452.96 509.54h4.59v4.59h-4.59zM452.96 568.51h4.59v4.59h-4.59zM457.5 509.54h4.59v4.59h-4.59zM462.03 514.08h4.59v4.59h-4.59zM462.03 563.98h4.59v4.59h-4.59zM466.57 523.15h4.59v4.59h-4.59zM466.57 554.9h4.59v4.59h-4.59z" fill="#000" fill-opacity="0.12"/>
<path d="M439.35 536.76h4.59v4.59h-4.59zM439.35 541.3h4.59v4.59h-4.59zM443.89 518.62h4.59v4.59h-4.59zM448.42 514.08h4.59v4.59h-4.59zM448.42 563.98h4.59v4.59h-4.59zM466.57 550.37h4.59v4.59h-4.59z" fill="#000" fill-opacity="0.13"/>
<path d="M443.89 554.9h4.59v4.59h-4.59zM452.96 563.98h4.59v4.59h-4.59zM457.5 514.08h4.59v4.59h-4.59zM457.5 563.98h4.59v4.59h-4.59zM462.03 518.62h4.59v4.59h-4.59zM462.03 559.44h4.59v4.59h-4.59zM466.57 527.69h4.59v4.59h-4.59z" fill="#000" fill-opacity="0.15"/>
<path d="M443.89 523.15h4.59v4.59h-4.59zM452.96 514.08h4.59v4.59h-4.59zM466.57 532.22h4.59v4.59h-4.59zM466.57 536.76h4.59v4.59h-4.59zM466.57 541.3h4.59v4.59h-4.59zM466.57 545.83h4.59v4.59h-4.59z" fill="#000" fill-opacity="0.17"/>
<path d="M443.89 550.37h4.59v4.59h-4.59zM448.42 518.62h4.59v4.59h-4.59zM448.42 559.44h4.59v4.59h-4.59zM462.03 554.9h4.59v4.59h-4.59z" fill="#000" fill-opacity="0.18"/>
<path d="M443.89 527.69h4.59v4.59h-4.59zM457.5 518.62h4.59v4.59h-4.59zM457.5 559.44h4.59v4.59h-4.59zM462.03 523.15h4.59v4.59h-4.59z" fill="#000" fill-opacity="0.2"/>
<path d="M443.89 532.22h4.59v4.59h-4.59zM443.89 545.83h4.59v4.59h-4.59zM452.96 518.62h4.59v4.59h-4.59zM452.96 559.44h4.59v4.59h-4.59z" fill="#000" fill-opacity="0.22"/>
<path d="M443.89 536.76h4.59v4.59h-4.59zM443.89 541.3h4.59v4.59h-4.59zM448.42 523.15h4.59v4.59h-4.59zM448.42 554.9h4.59v4.59h-4.59zM462.03 527.69h4.59v4.59h-4.59zM462.03 550.37h4.59v4.59h-4.59z" fill="#000" fill-opacity="0.23"/>
<path d="M457.5 523.15h4.59v4.59h-4.59zM457.5 554.9h4.59v4.59h-4.59zM462.03 545.83h4.59v4.59h-4.59z" fill="#000" fill-opacity="0.25"/>
<path d="M452.96 554.9h4.59v4.59h-4.59zM462.03 532.22h4.59v4.59h-4.59zM462.03 536.76h4.59v4.59h-4.59zM462.03 541.3h4.59v4.59h-4.59z" fill="#000" fill-opacity="0.27"/>
<path d="M448.42 527.69h4.59v4.59h-4.59zM448.42 550.37h4.59v4.59h-4.59zM452.96 523.15h4.59v4.59h-4.59z" fill="#000" fill-opacity="0.28"/>
<path d="M457.5 527.69h4.59v4.59h-4.59zM457.5 550.37h4.59v4.59h-4.59z" fill="#000" fill-opacity="0.3"/>
<path d="M448.42 532.22h4.59v4.59h-4.59zM448.42 545.83h4.59v4.59h-4.59zM452.96 550.37h4.59v4.59h-4.59z" fill="#000" fill-opacity="0.32"/>
<path d="M448.42 536.76h4.59v4.59h-4.59zM448.42 541.3h4.59v4.59h-4.59zM452.96 527.69h4.59v4.59h-4.59zM457.5 545.83h4.59v4.59h-4.59z" fill="#000" fill-opacity="0.33"/>
<path d="M457.5 532.22h4.59v4.59h-4.59z" fill="#000" fill-opacity="0.35"/>
<path d="M452.96 532.22h4.59v4.59h-4.59zM452.96 545.83h4.59v4.59h-4.59zM457.5 536.76h4.59v4.59h-4.59zM457.5 541.3h4.59v4.59h-4.59z" fill="#000" fill-opacity="0.37"/>
<path d="M452.96 536.76h4.59v4.59h-4.59zM452.96 541.3h4.59v4.59h-4.59z" fill="#000" fill-opacity="0.38"/>
<path d="M454.7,502.5C459.18,502.85 462.68,503.77 466.9,505.9C471.12,508.02 475.94,510.88 480,515.25C484.06,519.62 487.97,525.85 491.25,532.1C494.53,538.35 497.97,546.81 499.7,552.75C501.43,558.69 502.38,563.06 501.6,567.75C500.82,572.44 498.6,578.02 495,580.9C491.4,583.77 485.62,584.53 480,585C474.38,585.47 467.5,585.02 461.25,583.7C455,582.38 448.44,580.7 442.5,577.1C436.56,573.5 429.93,567.45 425.6,562.1C421.27,556.75 418.35,550.85 416.5,545C414.65,539.15 414.17,531.92 414.5,527C414.83,522.08 416.25,518.67 418.5,515.5C420.75,512.33 424.42,509.95 428,508C431.58,506.05 435.55,504.72 440,503.8C444.45,502.88 450.22,502.15 454.7,502.5Z" fill="none" stroke="#8a8a8a" stroke-width="1.5" stroke-dasharray="5.2 2.6"/>
<path d="M451.9,515.25C455.65,514.93 459.35,516.5 463.1,519C466.85,521.5 470.96,525.88 474.4,530.25C477.84,534.62 481.72,540.25 483.75,545.25C485.78,550.25 487.23,556.19 486.6,560.25C485.98,564.31 482.82,567.58 480,569.6C477.18,571.62 473.77,572.4 469.7,572.4C465.63,572.4 459.82,571.62 455.6,569.6C451.38,567.58 447.37,564.31 444.4,560.25C441.43,556.19 439.22,549.94 437.8,545.25C436.38,540.56 435.43,536.16 435.9,532.1C436.37,528.04 437.93,523.71 440.6,520.9C443.27,518.09 448.15,515.57 451.9,515.25Z" fill="none" stroke="#8a8a8a" stroke-width="1.5" stroke-dasharray="5.2 2.6"/>
<path d="M470,539.6C470.62,539.6 477.6,541.22 478.1,541.5C478.6,541.78 482.27,546.08 482.5,546.5C482.73,546.92 483.75,551.62 483.75,552.1C483.75,552.58 482.75,557.92 482.5,558.4C482.25,558.88 478,563.69 477.5,564C477,564.31 470.6,566.2 470,566.2C469.4,566.2 463,564.31 462.5,564C462,563.69 457.75,558.88 457.5,558.4C457.25,557.92 456.23,552.6 456.25,552.1C456.27,551.6 457.85,546.32 458.1,545.9C458.35,545.48 462.02,541.75 462.5,541.5C462.98,541.25 469.38,539.6 470,539.6Z" fill="#f4c5ca" stroke="#000" stroke-width="1.5" stroke-linejoin="round"/>
<path d="M467.5,544.9C467.91,544.7 472.7,544.44 473.1,544.6C473.5,544.76 477.31,548.6 477.5,549C477.69,549.4 477.95,554.18 477.8,554.6C477.65,555.02 474.16,559.39 473.75,559.6C473.34,559.81 467.93,560.06 467.5,559.9C467.07,559.74 463.29,556.01 463.1,555.6C462.91,555.19 462.62,550.03 462.8,549.6C462.98,549.17 467.09,545.1 467.5,544.9Z" fill="#d75f6c" stroke="#000" stroke-width="1.4" stroke-linejoin="round"/>
<line x1="470.3" y1="491.4" x2="470.3" y2="604.8" stroke="#000" stroke-width="1.6"/>
<line x1="407.6" y1="552.6" x2="521" y2="552.6" stroke="#000" stroke-width="1.6"/>
<ellipse cx="469.8" cy="552.6" rx="2" ry="2.2" fill="#000"/>
</g>
<rect x="407.6" y="491.4" width="113.4" height="113.4" fill="none" stroke="#000" stroke-width="1.9"/>
<line x1="415.2" y1="604.8" x2="415.2" y2="607.6" stroke="#000" stroke-width="0.9"/>
<line x1="442.3" y1="604.8" x2="442.3" y2="607.6" stroke="#000" stroke-width="0.9"/>
<line x1="469.4" y1="604.8" x2="469.4" y2="607.6" stroke="#000" stroke-width="0.9"/>
<line x1="496.5" y1="604.8" x2="496.5" y2="607.6" stroke="#000" stroke-width="0.9"/>
<line x1="404.8" y1="590.3" x2="407.6" y2="590.3" stroke="#000" stroke-width="0.9"/>
<line x1="404.8" y1="565.1" x2="407.6" y2="565.1" stroke="#000" stroke-width="0.9"/>
<line x1="404.8" y1="539.9" x2="407.6" y2="539.9" stroke="#000" stroke-width="0.9"/>
<line x1="404.8" y1="514.7" x2="407.6" y2="514.7" stroke="#000" stroke-width="0.9"/>
<g clip-path="url(#c44)">
<path d="M572.25,606.8 L572.25,571.3 L577.75,571.3 L577.75,501.6 L583.1,501.6 L583.1,606.8 Z" fill="#d75f6c"/>
<path d="M554.4,606.8 L554.4,600.4 L560.25,600.4 L560.25,594.4 L566,594.4 L566,590.25 L571.9,590.25 L571.9,586.5 L577.75,586.5 L577.75,589.75 L583.5,589.75 L583.5,590 L589.25,590 L589.25,589.75 L595,589.75 L595,589.5 L600.5,589.5 L600.5,593.1 L606.25,593.1 L606.25,594.4 L611.9,594.4 L611.9,595.6 L617.5,595.6 L617.5,606.8" fill="none" stroke="#7f7f7f" stroke-width="1.1"/>
<line x1="578.5" y1="491.4" x2="578.5" y2="604.8" stroke="#000" stroke-width="1.6"/>
</g>
<rect x="526.8" y="491.4" width="113.4" height="113.4" fill="none" stroke="#000" stroke-width="1.9"/>
<line x1="540.6" y1="604.8" x2="540.6" y2="607.6" stroke="#000" stroke-width="0.9"/>
<line x1="565.8" y1="604.8" x2="565.8" y2="607.6" stroke="#000" stroke-width="0.9"/>
<line x1="591" y1="604.8" x2="591" y2="607.6" stroke="#000" stroke-width="0.9"/>
<line x1="616.2" y1="604.8" x2="616.2" y2="607.6" stroke="#000" stroke-width="0.9"/>
<text transform="translate(67.2 617.08) rotate(-45)" x="-3.6" y="4.7" font-size="14.4" textLength="7.2" lengthAdjust="spacingAndGlyphs">0</text>
<text transform="translate(90 622.17) rotate(-45)" x="-10.8" y="4.7" font-size="14.4" textLength="21.6" lengthAdjust="spacingAndGlyphs">250</text>
<text transform="translate(112.8 622.17) rotate(-45)" x="-10.8" y="4.7" font-size="14.4" textLength="21.6" lengthAdjust="spacingAndGlyphs">500</text>
<text transform="translate(135.6 622.17) rotate(-45)" x="-10.8" y="4.7" font-size="14.4" textLength="21.6" lengthAdjust="spacingAndGlyphs">750</text>
<text transform="translate(158.4 624.72) rotate(-45)" x="-14.4" y="4.7" font-size="14.4" textLength="28.8" lengthAdjust="spacingAndGlyphs">1000</text>
<text transform="translate(173.6 621.04) rotate(-45)" x="-9.2" y="4.7" font-size="14.4" textLength="18.4" lengthAdjust="spacingAndGlyphs">0.0</text>
<text transform="translate(200.3 621.04) rotate(-45)" x="-9.2" y="4.7" font-size="14.4" textLength="18.4" lengthAdjust="spacingAndGlyphs">0.6</text>
<text transform="translate(227 621.04) rotate(-45)" x="-9.2" y="4.7" font-size="14.4" textLength="18.4" lengthAdjust="spacingAndGlyphs">1.2</text>
<text transform="translate(253.7 621.04) rotate(-45)" x="-9.2" y="4.7" font-size="14.4" textLength="18.4" lengthAdjust="spacingAndGlyphs">1.8</text>
<text transform="translate(280.4 621.04) rotate(-45)" x="-9.2" y="4.7" font-size="14.4" textLength="18.4" lengthAdjust="spacingAndGlyphs">2.4</text>
<text transform="translate(293.9 621.04) rotate(-45)" x="-9.2" y="4.7" font-size="14.4" textLength="18.4" lengthAdjust="spacingAndGlyphs">6.4</text>
<text transform="translate(320.3 621.04) rotate(-45)" x="-9.2" y="4.7" font-size="14.4" textLength="18.4" lengthAdjust="spacingAndGlyphs">7.2</text>
<text transform="translate(346.7 621.04) rotate(-45)" x="-9.2" y="4.7" font-size="14.4" textLength="18.4" lengthAdjust="spacingAndGlyphs">8.0</text>
<text transform="translate(373.1 621.04) rotate(-45)" x="-9.2" y="4.7" font-size="14.4" textLength="18.4" lengthAdjust="spacingAndGlyphs">8.8</text>
<text transform="translate(399.5 621.04) rotate(-45)" x="-9.2" y="4.7" font-size="14.4" textLength="18.4" lengthAdjust="spacingAndGlyphs">9.6</text>
<text transform="translate(415.2 623.59) rotate(-45)" x="-12.8" y="4.7" font-size="14.4" textLength="25.6" lengthAdjust="spacingAndGlyphs">−24</text>
<text transform="translate(442.3 623.59) rotate(-45)" x="-12.8" y="4.7" font-size="14.4" textLength="25.6" lengthAdjust="spacingAndGlyphs">−21</text>
<text transform="translate(469.4 623.59) rotate(-45)" x="-12.8" y="4.7" font-size="14.4" textLength="25.6" lengthAdjust="spacingAndGlyphs">−18</text>
<text transform="translate(496.5 623.59) rotate(-45)" x="-12.8" y="4.7" font-size="14.4" textLength="25.6" lengthAdjust="spacingAndGlyphs">−15</text>
<text transform="translate(540.6 617.08) rotate(-45)" x="-3.6" y="4.7" font-size="14.4" textLength="7.2" lengthAdjust="spacingAndGlyphs">0</text>
<text transform="translate(565.8 617.08) rotate(-45)" x="-3.6" y="4.7" font-size="14.4" textLength="7.2" lengthAdjust="spacingAndGlyphs">1</text>
<text transform="translate(591 617.08) rotate(-45)" x="-3.6" y="4.7" font-size="14.4" textLength="7.2" lengthAdjust="spacingAndGlyphs">2</text>
<text transform="translate(616.2 617.08) rotate(-45)" x="-3.6" y="4.7" font-size="14.4" textLength="7.2" lengthAdjust="spacingAndGlyphs">3</text>
<text transform="translate(32.46 248.64) rotate(-45)" x="-9.2" y="4.7" font-size="14.4" textLength="18.4" lengthAdjust="spacingAndGlyphs">0.0</text>
<text transform="translate(32.46 221.99) rotate(-45)" x="-9.2" y="4.7" font-size="14.4" textLength="18.4" lengthAdjust="spacingAndGlyphs">0.6</text>
<text transform="translate(32.46 195.34) rotate(-45)" x="-9.2" y="4.7" font-size="14.4" textLength="18.4" lengthAdjust="spacingAndGlyphs">1.2</text>
<text transform="translate(32.46 168.69) rotate(-45)" x="-9.2" y="4.7" font-size="14.4" textLength="18.4" lengthAdjust="spacingAndGlyphs">1.8</text>
<text transform="translate(32.46 142.04) rotate(-45)" x="-9.2" y="4.7" font-size="14.4" textLength="18.4" lengthAdjust="spacingAndGlyphs">2.4</text>
<text transform="translate(32.46 366.74) rotate(-45)" x="-9.2" y="4.7" font-size="14.4" textLength="18.4" lengthAdjust="spacingAndGlyphs">6.4</text>
<text transform="translate(32.46 340.44) rotate(-45)" x="-9.2" y="4.7" font-size="14.4" textLength="18.4" lengthAdjust="spacingAndGlyphs">7.2</text>
<text transform="translate(32.46 314.24) rotate(-45)" x="-9.2" y="4.7" font-size="14.4" textLength="18.4" lengthAdjust="spacingAndGlyphs">8.0</text>
<text transform="translate(32.46 288.04) rotate(-45)" x="-9.2" y="4.7" font-size="14.4" textLength="18.4" lengthAdjust="spacingAndGlyphs">8.8</text>
<text transform="translate(32.46 261.74) rotate(-45)" x="-9.2" y="4.7" font-size="14.4" textLength="18.4" lengthAdjust="spacingAndGlyphs">9.6</text>
<text transform="translate(29.91 486.39) rotate(-45)" x="-12.8" y="4.7" font-size="14.4" textLength="25.6" lengthAdjust="spacingAndGlyphs">−24</text>
<text transform="translate(29.91 459.19) rotate(-45)" x="-12.8" y="4.7" font-size="14.4" textLength="25.6" lengthAdjust="spacingAndGlyphs">−21</text>
<text transform="translate(29.91 431.99) rotate(-45)" x="-12.8" y="4.7" font-size="14.4" textLength="25.6" lengthAdjust="spacingAndGlyphs">−18</text>
<text transform="translate(29.91 404.89) rotate(-45)" x="-12.8" y="4.7" font-size="14.4" textLength="25.6" lengthAdjust="spacingAndGlyphs">−15</text>
<text transform="translate(36.42 592.38) rotate(-45)" x="-3.6" y="4.7" font-size="14.4" textLength="7.2" lengthAdjust="spacingAndGlyphs">0</text>
<text transform="translate(36.42 567.18) rotate(-45)" x="-3.6" y="4.7" font-size="14.4" textLength="7.2" lengthAdjust="spacingAndGlyphs">1</text>
<text transform="translate(36.42 541.98) rotate(-45)" x="-3.6" y="4.7" font-size="14.4" textLength="7.2" lengthAdjust="spacingAndGlyphs">2</text>
<text transform="translate(36.42 516.78) rotate(-45)" x="-3.6" y="4.7" font-size="14.4" textLength="7.2" lengthAdjust="spacingAndGlyphs">3</text>
<g font-size="14.2" fill="#000">
<text x="83.4" y="650" textLength="48" lengthAdjust="spacingAndGlyphs"><tspan font-style="italic">τ</tspan><tspan font-style="italic" font-size="10" dy="2.5">i</tspan><tspan dy="-2.5"> (day)</tspan></text>
<text x="186.7" y="650" textLength="79.4" lengthAdjust="spacingAndGlyphs"><tspan font-style="italic">SF</tspan><tspan font-size="10" dy="2.5">∞</tspan><tspan font-size="10" font-style="italic">,i</tspan><tspan dy="-2.5"> (mag)</tspan></text>
<text x="281.1" y="650" textLength="127" lengthAdjust="spacingAndGlyphs">log<tspan font-size="10" dy="2.5">10</tspan><tspan dy="-2.5">(BH mass/</tspan><tspan font-style="italic">M</tspan><tspan font-size="10" dy="2.5">⊙</tspan><tspan dy="-2.5">)</tspan></text>
<text x="433.8" y="650" textLength="60.1" lengthAdjust="spacingAndGlyphs"><tspan font-style="italic">M</tspan><tspan font-style="italic" font-size="10" dy="2.5">i</tspan><tspan dy="-2.5"> (mag)</tspan></text>
<text x="559.2" y="650" textLength="48.1" lengthAdjust="spacingAndGlyphs">redshift</text>
<text transform="translate(13 230.5) rotate(-90)" x="0" y="0" textLength="79.4" lengthAdjust="spacingAndGlyphs"><tspan font-style="italic">SF</tspan><tspan font-size="10" dy="2.5">∞</tspan><tspan font-size="10" font-style="italic">,i</tspan><tspan dy="-2.5"> (mag)</tspan></text>
<text transform="translate(13 375) rotate(-90)" x="0" y="0" textLength="130" lengthAdjust="spacingAndGlyphs">log<tspan font-size="10" dy="2.5">10</tspan><tspan dy="-2.5">(BH mass/</tspan><tspan font-style="italic">M</tspan><tspan font-size="10" dy="2.5">⊙</tspan><tspan dy="-2.5">)</tspan></text>
<text transform="translate(13 458.5) rotate(-90)" x="0" y="0" textLength="60.5" lengthAdjust="spacingAndGlyphs"><tspan font-style="italic">M</tspan><tspan font-style="italic" font-size="10" dy="2.5">i</tspan><tspan dy="-2.5"> (mag)</tspan></text>
<text transform="translate(13 572.5) rotate(-90)" x="0" y="0" textLength="48.1" lengthAdjust="spacingAndGlyphs">redshift</text>
</g>
<text x="68.2" y="10.1" font-size="12" textLength="6.8" lengthAdjust="spacingAndGlyphs" font-style="italic">τ</text>
<text x="74.2" y="12.3" font-size="8.5" textLength="3.1" lengthAdjust="spacingAndGlyphs" font-style="italic">i</text>
<text x="79.8" y="10.1" font-size="12" textLength="8.5" lengthAdjust="spacingAndGlyphs">=</text>
<text x="92.5" y="10.1" font-size="12" textLength="32.8" lengthAdjust="spacingAndGlyphs">175.26</text>
<text x="125.2" y="5.7" font-size="8" textLength="21.2" lengthAdjust="spacingAndGlyphs">+0.89</text>
<text x="125.2" y="13.2" font-size="8" textLength="21.2" lengthAdjust="spacingAndGlyphs">−0.89</text>
<text x="182.3" y="129.2" font-size="12" textLength="16.1" lengthAdjust="spacingAndGlyphs" font-style="italic">SF</text>
<text x="197.6" y="131.4" font-size="8.5" textLength="14" lengthAdjust="spacingAndGlyphs">∞,<tspan font-style="italic">i</tspan></text>
<text x="215.7" y="129.2" font-size="12" textLength="9.6" lengthAdjust="spacingAndGlyphs">=</text>
<text x="227.7" y="129.2" font-size="12" textLength="20.5" lengthAdjust="spacingAndGlyphs">0.84</text>
<text x="249.1" y="124.8" font-size="8" textLength="21.6" lengthAdjust="spacingAndGlyphs">+0.00</text>
<text x="249.1" y="132.3" font-size="8" textLength="21.6" lengthAdjust="spacingAndGlyphs">−0.00</text>
<text x="278.6" y="248.3" font-size="12" textLength="17.3" lengthAdjust="spacingAndGlyphs">log</text>
<text x="295.5" y="250.5" font-size="8.5" textLength="6.2" lengthAdjust="spacingAndGlyphs">10</text>
<text x="301.2" y="248.3" font-size="12" textLength="53.95" lengthAdjust="spacingAndGlyphs">(BH mass)</text>
<text x="358.2" y="248.3" font-size="12" textLength="9" lengthAdjust="spacingAndGlyphs">=</text>
<text x="370.2" y="248.3" font-size="12" textLength="21.6" lengthAdjust="spacingAndGlyphs">7.49</text>
<text x="392.1" y="243.9" font-size="8" textLength="21" lengthAdjust="spacingAndGlyphs">+0.19</text>
<text x="392.1" y="251.4" font-size="8" textLength="21" lengthAdjust="spacingAndGlyphs">−0.20</text>
<text x="420.3" y="367.4" font-size="12" textLength="11.2" lengthAdjust="spacingAndGlyphs" font-style="italic">M</text>
<text x="430.7" y="369.6" font-size="8.5" textLength="3.6" lengthAdjust="spacingAndGlyphs" font-style="italic">i</text>
<text x="438.9" y="367.4" font-size="12" textLength="9" lengthAdjust="spacingAndGlyphs">=</text>
<text x="452.6" y="367.4" font-size="12" textLength="34.7" lengthAdjust="spacingAndGlyphs">−17.92</text>
<text x="487.8" y="363" font-size="8" textLength="20.7" lengthAdjust="spacingAndGlyphs">+0.09</text>
<text x="487.8" y="370.5" font-size="8" textLength="20.7" lengthAdjust="spacingAndGlyphs">−0.09</text>
<text x="534.3" y="486.5" font-size="12" textLength="39.1" lengthAdjust="spacingAndGlyphs">redshift</text>
<text x="577" y="486.5" font-size="12" textLength="9" lengthAdjust="spacingAndGlyphs">=</text>
<text x="590.1" y="486.5" font-size="12" textLength="18.8" lengthAdjust="spacingAndGlyphs">1.51</text>
<text x="609.2" y="482.1" font-size="8" textLength="21.7" lengthAdjust="spacingAndGlyphs">+0.07</text>
<text x="609.2" y="489.6" font-size="8" textLength="21.7" lengthAdjust="spacingAndGlyphs">−0.07</text>
<rect x="299.7" y="101" width="285.7" height="49.5" rx="3" ry="3" fill="#fff" fill-opacity="0.8" stroke="#d6d6d6" stroke-width="1"/>
<rect x="305.6" y="108.2" width="31.6" height="11.2" fill="#8c8c8c" stroke="#b8b8b8" stroke-width="1.2"/>
<rect x="305.6" y="130.6" width="31.6" height="11.2" fill="#d75f6c" stroke="#333" stroke-width="1.3"/>
<text x="351.3" y="119.3" font-size="14.3" textLength="228.3" lengthAdjust="spacingAndGlyphs">Training distribution (implicit prior)</text>
<text x="351.3" y="141.7" font-size="14.3" textLength="111" lengthAdjust="spacingAndGlyphs">Network posterior</text>
</svg></body></html>
